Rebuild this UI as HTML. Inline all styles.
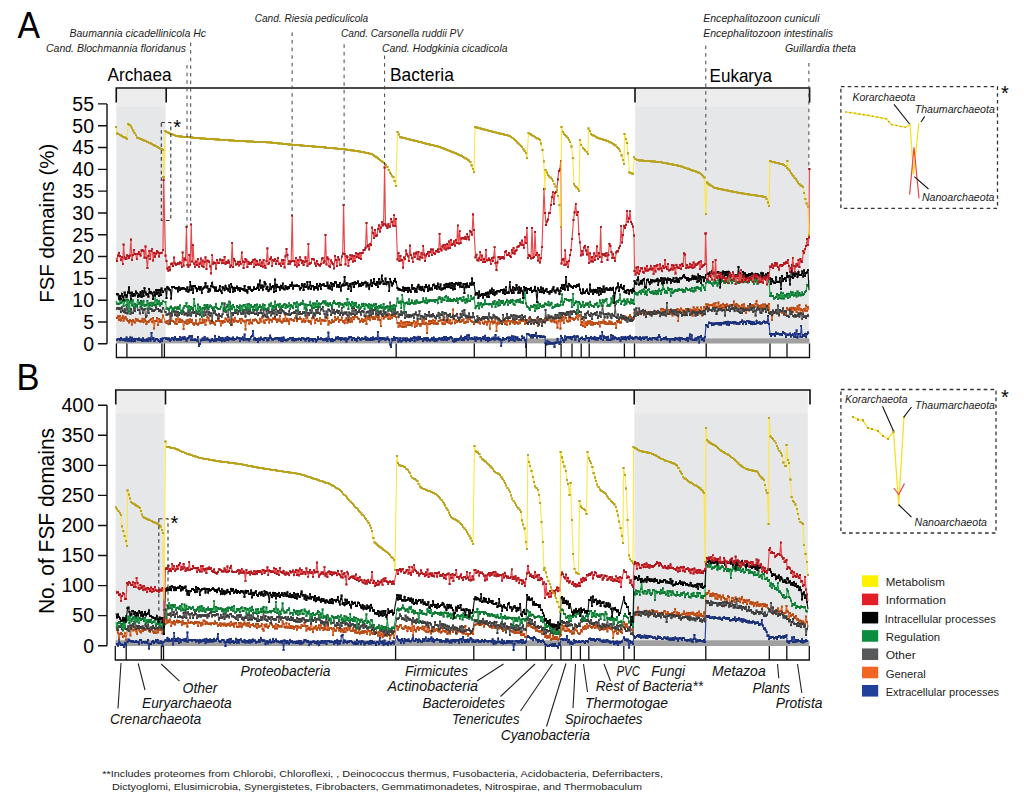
<!DOCTYPE html><html><head><meta charset="utf-8"><style>html,body{margin:0;padding:0;background:#fff;}svg{display:block;}</style></head><body><svg width="1024" height="805" viewBox="0 0 1024 805" font-family='"Liberation Sans", sans-serif'>
<rect width="1024" height="805" fill="#fff"/>
<defs><marker id="mr" viewBox="0 0 2 2" refX="1" refY="1" markerWidth="2.3" markerHeight="2.3" markerUnits="userSpaceOnUse"><rect width="2" height="2" fill="#b3161c"/></marker><marker id="mk" viewBox="0 0 2 2" refX="1" refY="1" markerWidth="2.3" markerHeight="2.3" markerUnits="userSpaceOnUse"><rect width="2" height="2" fill="#000"/></marker><marker id="mg" viewBox="0 0 2 2" refX="1" refY="1" markerWidth="2.3" markerHeight="2.3" markerUnits="userSpaceOnUse"><rect width="2" height="2" fill="#0d7a34"/></marker><marker id="mo" viewBox="0 0 2 2" refX="1" refY="1" markerWidth="2.3" markerHeight="2.3" markerUnits="userSpaceOnUse"><rect width="2" height="2" fill="#b94a14"/></marker><marker id="md" viewBox="0 0 2 2" refX="1" refY="1" markerWidth="2.3" markerHeight="2.3" markerUnits="userSpaceOnUse"><rect width="2" height="2" fill="#3c3c3c"/></marker><marker id="mb" viewBox="0 0 2 2" refX="1" refY="1" markerWidth="2.3" markerHeight="2.3" markerUnits="userSpaceOnUse"><rect width="2" height="2" fill="#1a2f7a"/></marker><marker id="my" viewBox="0 0 2 2" refX="1" refY="1" markerWidth="2.4" markerHeight="2.4" markerUnits="userSpaceOnUse"><rect width="2" height="2" fill="#b9a21c"/></marker></defs>
<rect x="116.25" y="88.8" width="49.349999999999994" height="18.100000000000005" fill="#ededee"/>
<rect x="116.25" y="106.9" width="49.349999999999994" height="236.9" fill="#e6e7e9"/>
<rect x="635.2" y="88.8" width="173.5999999999999" height="18.100000000000005" fill="#ededee"/>
<rect x="635.2" y="106.9" width="173.5999999999999" height="236.9" fill="#e6e7e9"/>
<path d="M116.25,102.5 V88.0 H809.6 V102.5 M166.2,88.0 V102.5 M635.0,88.0 V102.5" fill="none" stroke="#111" stroke-width="1.6"/>
<path d="M107,103.9 V343.8 M98,103.90 H107 M98,125.71 H107 M98,147.52 H107 M98,169.33 H107 M98,191.14 H107 M98,212.95 H107 M98,234.75 H107 M98,256.56 H107 M98,278.37 H107 M98,300.18 H107 M98,321.99 H107 M98,343.80 H107" fill="none" stroke="#111" stroke-width="1.4"/>
<text x="94.00" y="110.70" font-size="19.5" text-anchor="end" fill="#000" >55</text>
<text x="94.00" y="132.51" font-size="19.5" text-anchor="end" fill="#000" >50</text>
<text x="94.00" y="154.32" font-size="19.5" text-anchor="end" fill="#000" >45</text>
<text x="94.00" y="176.13" font-size="19.5" text-anchor="end" fill="#000" >40</text>
<text x="94.00" y="197.94" font-size="19.5" text-anchor="end" fill="#000" >35</text>
<text x="94.00" y="219.75" font-size="19.5" text-anchor="end" fill="#000" >30</text>
<text x="94.00" y="241.55" font-size="19.5" text-anchor="end" fill="#000" >25</text>
<text x="94.00" y="263.36" font-size="19.5" text-anchor="end" fill="#000" >20</text>
<text x="94.00" y="285.17" font-size="19.5" text-anchor="end" fill="#000" >15</text>
<text x="94.00" y="306.98" font-size="19.5" text-anchor="end" fill="#000" >10</text>
<text x="94.00" y="328.79" font-size="19.5" text-anchor="end" fill="#000" >5</text>
<text x="94.00" y="350.60" font-size="19.5" text-anchor="end" fill="#000" >0</text>
<rect x="115.6" y="390.8" width="49.0" height="22.300000000000022" fill="#ededee"/>
<rect x="115.6" y="413.1" width="49.0" height="232.60000000000002" fill="#e6e7e9"/>
<rect x="634.3" y="390.8" width="173.5" height="22.300000000000022" fill="#ededee"/>
<rect x="634.3" y="413.1" width="173.5" height="232.60000000000002" fill="#e6e7e9"/>
<path d="M115.75,404.5 V390.0 H810.0 V404.5 M165.5,390.0 V404.5 M634.2,390.0 V404.5" fill="none" stroke="#111" stroke-width="1.6"/>
<path d="M107,405.2 V645.7 M98,405.20 H107 M98,435.26 H107 M98,465.33 H107 M98,495.39 H107 M98,525.45 H107 M98,555.51 H107 M98,585.58 H107 M98,615.64 H107 M98,645.70 H107" fill="none" stroke="#111" stroke-width="1.4"/>
<text x="94.00" y="412.00" font-size="19.5" text-anchor="end" fill="#000" >400</text>
<text x="94.00" y="442.06" font-size="19.5" text-anchor="end" fill="#000" >350</text>
<text x="94.00" y="472.13" font-size="19.5" text-anchor="end" fill="#000" >300</text>
<text x="94.00" y="502.19" font-size="19.5" text-anchor="end" fill="#000" >250</text>
<text x="94.00" y="532.25" font-size="19.5" text-anchor="end" fill="#000" >200</text>
<text x="94.00" y="562.31" font-size="19.5" text-anchor="end" fill="#000" >150</text>
<text x="94.00" y="592.38" font-size="19.5" text-anchor="end" fill="#000" >100</text>
<text x="94.00" y="622.44" font-size="19.5" text-anchor="end" fill="#000" >50</text>
<text x="94.00" y="652.50" font-size="19.5" text-anchor="end" fill="#000" >0</text>
<rect x="116.2" y="338.4" width="693.2" height="5.0" fill="#a0a0a0"/>
<rect x="115.6" y="640.3" width="693.8" height="5.7" fill="#a0a0a0"/>
<path d="M116.0,338.9 L117.0,339.7 L117.9,338.9 L118.9,339.2 L119.8,340.3 L120.8,337.9 L121.8,339.5 L122.7,339.6 L123.7,340.3 L124.6,339.0 L125.6,340.4 L126.6,337.6 L127.5,340.5 L128.5,339.0 L129.4,340.7 L130.4,337.5 L131.3,341.2 L132.3,337.8 L133.3,341.2 L134.2,338.7 L135.2,341.0 L136.1,339.1 L137.1,339.0 L138.1,339.7 L139.0,338.5 L140.0,340.0 L140.9,339.6 L141.9,341.0 L142.9,338.4 L143.8,340.6 L144.8,339.7 L145.7,340.6 L146.7,339.4 L147.7,341.1 L148.6,338.5 L149.6,338.5 L150.5,340.4 L151.5,332.8 L152.4,338.9 L153.4,338.1 L154.4,340.8 L155.3,339.8 L156.3,338.8 L157.2,339.1 L158.2,339.7 L159.2,341.0 L160.1,341.6 L161.1,338.8 L162.0,341.3 L163.0,338.4 L165.5,337.8 L166.5,338.9 L167.4,338.4 L168.4,339.5 L169.3,338.5 L170.3,340.7 L171.2,339.6 L172.2,338.0 L173.1,338.4 L174.1,340.2 L175.0,337.2 L176.0,338.8 L176.9,339.8 L177.9,338.7 L178.8,339.7 L179.8,337.2 L180.7,340.0 L181.7,338.6 L182.6,337.6 L183.6,339.3 L184.5,337.1 L185.5,338.7 L186.5,340.7 L187.4,338.4 L188.4,338.3 L189.3,336.6 L190.3,336.2 L191.2,340.0 L192.2,336.0 L193.1,340.3 L194.1,339.9 L195.0,339.3 L196.0,340.2 L196.9,340.6 L197.9,336.8 L198.8,346.3 L199.8,343.9 L200.7,340.4 L201.7,340.2 L202.6,338.5 L203.6,339.7 L204.6,337.0 L205.5,339.8 L206.5,339.3 L207.4,338.4 L208.4,339.9 L209.3,339.7 L210.3,341.4 L211.2,340.6 L212.2,339.0 L213.1,340.3 L214.1,341.1 L215.0,336.1 L216.0,340.5 L216.9,338.7 L217.9,339.6 L218.8,336.9 L219.8,340.1 L220.7,338.2 L221.7,341.2 L222.6,338.0 L223.6,340.0 L224.6,340.8 L225.5,338.0 L226.5,339.9 L227.4,337.1 L228.4,340.2 L229.3,337.8 L230.3,339.3 L231.2,338.6 L232.2,339.4 L233.1,337.6 L234.1,339.7 L235.0,338.7 L236.0,338.9 L236.9,337.5 L237.9,338.3 L238.8,338.2 L239.8,340.7 L240.7,338.4 L241.7,338.9 L242.7,337.4 L243.6,339.7 L244.6,334.6 L245.5,339.5 L246.5,339.3 L247.4,339.5 L248.4,339.1 L249.3,340.4 L250.3,338.8 L251.2,336.7 L252.2,335.8 L253.1,330.9 L254.1,339.4 L255.0,338.3 L256.0,339.9 L256.9,338.9 L257.9,341.8 L258.8,338.6 L259.8,339.9 L260.7,337.6 L261.7,339.1 L262.7,338.7 L263.6,340.3 L264.6,337.8 L265.5,338.0 L266.5,338.2 L267.4,340.4 L268.4,339.9 L269.3,337.8 L270.3,335.6 L271.2,337.8 L272.2,339.4 L273.1,339.6 L274.1,339.0 L275.0,338.5 L276.0,338.2 L276.9,338.5 L277.9,338.2 L278.8,340.3 L279.8,338.3 L280.8,340.7 L281.7,337.8 L282.7,340.9 L283.6,337.6 L284.6,340.3 L285.5,339.7 L286.5,340.4 L287.4,340.2 L288.4,339.0 L289.3,338.7 L290.3,337.9 L291.2,337.7 L292.2,340.3 L293.1,337.8 L294.1,340.4 L295.0,338.9 L296.0,340.2 L296.9,339.3 L297.9,339.4 L298.8,338.6 L299.8,339.1 L300.8,340.1 L301.7,337.9 L302.7,338.3 L303.6,338.6 L304.6,339.0 L305.5,340.4 L306.5,339.0 L307.4,338.1 L308.4,338.2 L309.3,340.9 L310.3,338.9 L311.2,339.7 L312.2,339.2 L313.1,340.9 L314.1,338.8 L315.0,339.0 L316.0,341.5 L316.9,340.1 L317.9,337.2 L318.8,338.7 L319.8,339.3 L320.8,338.3 L321.7,338.8 L322.7,339.4 L323.6,339.9 L324.6,339.0 L325.5,339.7 L326.5,338.6 L327.4,341.0 L328.4,332.6 L329.3,339.1 L330.3,339.5 L331.2,341.2 L332.2,339.0 L333.1,341.0 L334.1,340.0 L335.0,340.2 L336.0,337.6 L336.9,338.6 L337.9,337.2 L338.9,339.1 L339.8,337.8 L340.8,340.0 L341.7,337.8 L342.7,338.9 L343.6,338.6 L344.6,339.5 L345.5,338.2 L346.5,341.4 L347.4,339.2 L348.4,338.6 L349.3,336.8 L350.3,337.4 L351.2,336.9 L352.2,340.0 L353.1,338.0 L354.1,338.2 L355.0,340.2 L356.0,338.8 L356.9,340.7 L357.9,337.6 L358.9,337.8 L359.8,339.5 L360.8,339.6 L361.7,338.3 L362.7,338.6 L363.6,338.8 L364.6,338.8 L365.5,336.8 L366.5,340.0 L367.4,338.3 L368.4,339.9 L369.3,339.0 L370.3,339.9 L371.2,338.2 L372.2,339.8 L373.1,337.5 L374.1,339.4 L375.0,338.6 L376.0,338.4 L377.0,339.1 L377.9,331.9 L378.9,341.5 L379.8,337.9 L380.8,339.4 L381.7,338.1 L382.7,338.9 L383.6,338.1 L384.6,338.5 L385.5,340.1 L386.5,338.7 L387.4,337.5 L388.4,339.2 L389.3,340.1 L390.3,344.6 L391.2,346.9 L392.2,338.7 L393.1,340.2 L394.1,337.2 L395.0,339.6 L396.0,338.0 L397.5,338.0 L398.5,341.4 L399.4,340.0 L400.4,338.2 L401.3,341.5 L402.3,340.7 L403.2,338.4 L404.2,339.8 L405.1,338.5 L406.1,341.3 L407.0,338.5 L408.0,340.2 L408.9,339.5 L409.9,341.1 L410.8,338.5 L411.8,340.0 L412.7,338.3 L413.7,337.1 L414.6,340.9 L415.6,337.6 L416.5,338.4 L417.5,340.0 L418.4,336.8 L419.4,339.3 L420.3,337.2 L421.3,339.3 L422.2,339.0 L423.2,341.0 L424.2,338.3 L425.1,339.4 L426.1,338.0 L427.0,340.4 L428.0,338.3 L428.9,339.8 L429.9,340.5 L430.8,339.6 L431.8,338.0 L432.7,339.8 L433.7,337.6 L434.6,340.8 L435.6,339.0 L436.5,340.6 L437.5,339.6 L438.4,339.2 L439.4,338.1 L440.3,339.2 L441.3,339.6 L442.2,338.1 L443.2,340.0 L444.1,337.1 L445.1,339.5 L446.0,337.2 L447.0,339.9 L447.9,338.0 L448.9,338.8 L449.9,337.6 L450.8,337.0 L451.8,338.2 L452.7,340.8 L453.7,341.5 L454.6,339.0 L455.6,341.0 L456.5,338.7 L457.5,340.0 L458.4,338.8 L459.4,339.5 L460.3,338.3 L461.3,336.5 L462.2,340.1 L463.2,338.3 L464.1,340.0 L465.1,336.8 L466.0,338.4 L467.0,335.6 L467.9,339.7 L468.9,335.3 L469.8,338.4 L470.8,338.7 L471.7,338.0 L472.7,338.7 L473.6,339.3 L474.6,337.5 L475.6,340.6 L476.5,337.6 L477.5,339.0 L478.4,338.3 L479.4,338.6 L480.3,338.1 L481.3,340.4 L482.2,338.6 L483.2,337.2 L484.1,339.1 L485.1,335.8 L486.0,339.8 L487.0,337.9 L487.9,341.2 L488.9,337.8 L489.8,340.3 L490.8,339.4 L491.7,338.6 L492.7,338.9 L493.6,337.6 L494.6,339.6 L495.5,334.9 L496.5,338.5 L497.4,338.9 L498.4,337.6 L499.3,339.6 L500.3,339.0 L501.3,346.0 L502.2,340.1 L503.2,338.0 L504.1,339.6 L505.1,339.0 L506.0,338.9 L507.0,337.9 L507.9,337.5 L508.9,340.7 L509.8,337.6 L510.8,339.5 L511.7,336.3 L512.7,339.6 L513.6,336.5 L514.6,341.1 L515.5,337.1 L516.5,339.3 L517.4,337.5 L518.4,340.3 L519.3,338.7 L520.3,340.1 L521.2,339.9 L522.2,336.3 L523.1,338.3 L524.1,337.6 L525.0,340.1 L526.0,346.8 L527.0,334.1 L528.0,333.9 L529.0,334.6 L530.0,335.5 L531.0,337.4 L532.0,335.1 L533.0,337.4 L534.0,335.1 L535.0,336.3 L536.0,333.1 L537.0,337.5 L538.0,335.9 L539.0,335.9 L540.0,337.0 L541.0,335.8 L542.0,336.9 L543.0,336.6 L544.0,336.6 L545.0,337.2 L545.5,342.9 L546.5,344.4 L547.5,341.1 L548.5,344.1 L549.5,342.5 L550.5,343.7 L551.5,343.1 L552.5,343.7 L553.5,343.0 L554.5,346.8 L555.5,342.6 L556.5,342.9 L557.5,339.1 L558.5,342.3 L559.5,344.0 L560.5,342.1 L561.0,336.0 L562.0,337.7 L562.9,339.7 L563.9,341.5 L564.8,336.3 L565.8,339.4 L566.8,337.3 L567.7,337.5 L568.7,337.0 L569.6,338.1 L570.6,337.0 L571.6,339.3 L572.5,337.0 L573.5,336.8 L574.4,335.8 L575.4,339.6 L576.4,337.0 L577.3,336.2 L578.3,336.6 L579.2,341.1 L580.2,338.8 L581.2,338.3 L582.1,337.6 L583.1,338.8 L584.1,339.0 L585.0,339.5 L586.0,336.2 L586.9,337.9 L587.9,337.9 L588.9,341.0 L589.8,338.1 L590.8,336.7 L591.7,338.7 L592.7,337.7 L593.7,339.0 L594.6,337.0 L595.6,339.4 L596.5,337.8 L597.5,339.6 L598.5,337.8 L599.4,338.1 L600.4,335.9 L601.3,339.1 L602.3,332.0 L603.3,339.8 L604.2,336.4 L605.2,337.8 L606.1,337.3 L607.1,339.7 L608.1,336.7 L609.0,340.3 L610.0,340.1 L610.9,335.2 L611.9,339.4 L612.9,335.7 L613.8,338.6 L614.8,337.4 L615.8,338.2 L616.7,338.7 L617.7,338.8 L618.6,337.7 L619.6,339.3 L620.6,340.7 L621.5,337.3 L622.5,338.9 L623.4,337.4 L624.4,338.9 L625.4,336.8 L626.3,339.4 L627.3,337.7 L628.2,336.7 L629.2,339.1 L630.2,335.8 L631.1,337.9 L632.1,337.5 L633.0,339.0 L634.0,338.3 L634.5,338.4 L635.5,337.1 L636.4,337.0 L637.4,337.7 L638.3,338.4 L639.3,339.0 L640.2,337.2 L641.2,339.5 L642.1,338.3 L643.1,337.5 L644.0,338.8 L645.0,337.6 L645.9,337.5 L646.9,337.3 L647.8,340.0 L648.8,339.1 L649.7,338.3 L650.7,338.9 L651.6,339.5 L652.6,337.8 L653.6,338.3 L654.5,338.1 L655.5,338.7 L656.4,338.2 L657.4,339.6 L658.3,337.3 L659.3,335.1 L660.2,337.0 L661.2,340.0 L662.1,338.9 L663.1,339.2 L664.0,337.7 L665.0,339.0 L665.9,337.4 L666.9,339.4 L667.8,339.0 L668.8,339.3 L669.8,341.5 L670.7,339.1 L671.7,338.8 L672.6,339.4 L673.6,338.7 L674.5,340.2 L675.5,337.9 L676.4,338.9 L677.4,338.6 L678.3,339.4 L679.3,337.7 L680.2,340.4 L681.2,337.9 L682.1,338.4 L683.1,339.1 L684.0,338.7 L685.0,338.7 L685.9,339.7 L686.9,337.8 L687.9,340.8 L688.8,338.4 L689.8,334.4 L690.7,338.7 L691.7,335.5 L692.6,339.8 L693.6,340.1 L694.5,339.7 L695.5,338.5 L696.4,340.1 L697.4,337.9 L698.3,336.9 L699.3,342.5 L700.2,337.1 L701.2,335.8 L702.1,339.6 L703.1,338.5 L704.0,340.6 L705.0,337.1 L706.0,324.9 L707.0,325.5 L707.9,327.0 L708.9,322.6 L709.8,322.8 L710.8,323.1 L711.7,325.3 L712.7,323.5 L713.6,324.7 L714.6,323.6 L715.5,323.6 L716.5,323.1 L717.5,324.2 L718.4,322.7 L719.4,324.6 L720.3,322.9 L721.3,324.7 L722.2,322.8 L723.2,323.4 L724.1,322.5 L725.1,323.4 L726.0,321.8 L727.0,324.5 L728.0,321.7 L728.9,324.8 L729.9,322.4 L730.8,322.6 L731.8,323.3 L732.7,322.2 L733.7,323.4 L734.6,321.7 L735.6,322.5 L736.5,323.8 L737.5,323.2 L738.5,323.8 L739.4,323.6 L740.4,322.0 L741.3,322.1 L742.3,320.5 L743.2,323.8 L744.2,321.6 L745.1,322.1 L746.1,324.1 L747.0,321.3 L748.0,321.2 L749.0,323.0 L749.9,321.6 L750.9,324.0 L751.8,322.1 L752.8,324.3 L753.7,322.3 L754.7,323.9 L755.6,324.2 L756.6,320.7 L757.5,323.3 L758.5,322.7 L759.5,321.7 L760.4,323.7 L761.4,323.5 L762.3,322.8 L763.3,321.8 L764.2,321.5 L765.2,322.7 L766.1,321.8 L767.1,322.6 L768.0,316.0 L769.0,324.1 L770.0,333.9 L771.0,336.0 L772.0,333.7 L773.0,334.4 L774.0,333.8 L775.0,335.8 L776.0,332.6 L777.0,334.2 L778.0,333.6 L779.0,333.8 L780.0,334.6 L781.0,334.0 L782.0,335.2 L783.0,331.8 L784.0,333.2 L785.0,333.6 L786.0,336.8 L787.0,334.5 L788.0,335.3 L788.9,334.6 L789.9,333.6 L790.8,336.5 L791.8,335.2 L792.7,334.3 L793.7,336.7 L794.7,333.1 L795.6,337.0 L796.6,330.5 L797.5,337.5 L798.5,333.9 L799.4,334.2 L800.4,336.7 L801.3,326.0 L802.3,336.7 L803.3,335.0 L804.2,335.8 L805.2,333.7 L806.1,337.0 L807.1,333.9 L808.0,332.5 L809.0,333.9" fill="none" stroke="#2a3f95" stroke-width="1.15" stroke-opacity="1" marker-mid="url(#mb)"/>
<path d="M116.0,316.9 L117.0,318.1 L117.9,316.4 L118.9,319.8 L119.8,316.0 L120.8,320.4 L121.7,318.2 L122.7,316.2 L123.6,320.5 L124.6,317.9 L125.5,316.7 L126.5,318.7 L127.0,319.8 L128.0,321.1 L128.9,322.4 L129.9,320.2 L130.9,321.0 L131.9,324.5 L132.8,320.1 L133.8,321.6 L134.8,322.5 L135.7,318.7 L136.7,320.5 L137.7,319.6 L138.7,321.2 L139.6,320.9 L140.6,321.6 L141.6,321.3 L142.5,318.7 L143.5,322.3 L144.5,319.0 L145.5,320.9 L146.4,324.0 L147.4,321.9 L148.4,321.9 L149.3,320.9 L150.3,320.3 L151.3,318.9 L152.3,322.1 L153.2,317.9 L154.2,328.4 L155.2,320.9 L156.1,320.9 L157.1,317.9 L158.1,325.2 L159.1,318.7 L160.0,321.6 L161.0,320.4 L161.5,322.2 L163.0,315.6 L165.5,321.9 L166.5,322.9 L167.4,321.0 L168.4,324.1 L169.3,320.6 L170.3,322.3 L171.2,315.2 L172.2,321.0 L173.1,320.8 L174.1,321.8 L175.0,323.5 L176.0,319.4 L176.9,324.0 L177.9,313.9 L178.8,321.9 L179.8,319.4 L180.7,322.0 L181.7,320.3 L182.6,321.3 L183.6,329.3 L184.5,322.1 L185.5,322.8 L186.5,320.6 L187.4,324.2 L188.4,320.1 L189.3,322.6 L190.3,319.4 L191.2,322.3 L192.2,319.8 L193.1,323.5 L194.1,324.7 L195.0,323.4 L196.0,320.4 L196.9,324.1 L197.9,324.7 L198.8,323.4 L199.8,319.3 L200.7,323.2 L201.7,323.0 L202.6,319.6 L203.6,322.4 L204.6,319.8 L205.5,324.7 L206.5,320.4 L207.4,317.2 L208.4,318.0 L209.3,320.4 L210.3,323.4 L211.2,321.0 L212.2,323.2 L213.1,322.1 L214.1,323.4 L215.0,324.7 L216.0,320.7 L216.9,320.9 L217.9,321.0 L218.8,318.2 L219.8,321.1 L220.7,325.4 L221.7,321.2 L222.6,322.7 L223.6,320.8 L224.6,322.2 L225.5,318.6 L226.5,318.7 L227.4,321.2 L228.4,321.6 L229.3,319.5 L230.3,322.9 L231.2,320.1 L232.2,324.7 L233.1,319.6 L234.1,321.6 L235.0,317.7 L236.0,320.7 L236.9,321.4 L237.9,321.7 L238.8,320.7 L239.8,318.9 L240.7,322.9 L241.7,318.7 L242.7,320.6 L243.6,321.3 L244.6,321.6 L245.5,329.4 L246.5,320.6 L247.4,320.3 L248.4,320.3 L249.3,323.6 L250.3,319.7 L251.2,322.6 L252.2,323.4 L253.1,320.1 L254.1,320.5 L255.0,319.5 L256.0,320.0 L256.9,321.5 L257.9,322.8 L258.8,322.9 L259.8,319.0 L260.7,321.5 L261.7,317.4 L262.7,317.1 L263.6,321.5 L264.6,322.9 L265.5,320.2 L266.5,320.2 L267.4,317.0 L268.4,318.5 L269.3,322.4 L270.3,319.6 L271.2,320.1 L272.2,321.5 L273.1,318.4 L274.1,319.3 L275.0,317.3 L276.0,319.5 L276.9,321.9 L277.9,319.6 L278.8,320.6 L279.8,316.1 L280.8,321.4 L281.7,322.6 L282.7,321.6 L283.6,319.2 L284.6,320.8 L285.5,314.6 L286.5,320.8 L287.4,318.8 L288.4,320.8 L289.3,323.6 L290.3,318.8 L291.2,318.7 L292.2,319.9 L293.1,319.7 L294.1,321.0 L295.0,318.3 L296.0,315.9 L296.9,321.1 L297.9,319.1 L298.8,319.1 L299.8,317.5 L300.8,318.7 L301.7,321.8 L302.7,320.8 L303.6,319.4 L304.6,322.2 L305.5,320.8 L306.5,318.1 L307.4,315.7 L308.4,321.1 L309.3,321.9 L310.3,321.2 L311.2,323.6 L312.2,318.3 L313.1,318.0 L314.1,317.8 L315.0,322.7 L316.0,319.9 L316.9,318.7 L317.9,320.8 L318.8,320.7 L319.8,318.4 L320.8,323.7 L321.7,319.8 L322.7,320.5 L323.6,320.2 L324.6,320.8 L325.5,320.7 L326.5,317.2 L327.4,317.6 L328.4,324.6 L329.3,321.0 L330.3,322.5 L331.2,322.8 L332.2,320.0 L333.1,322.2 L334.1,321.4 L335.0,317.2 L336.0,320.3 L336.9,318.7 L337.9,317.5 L338.9,321.7 L339.8,320.2 L340.8,319.9 L341.7,317.4 L342.7,321.7 L343.6,320.9 L344.6,323.2 L345.5,320.0 L346.5,318.0 L347.4,322.6 L348.4,321.5 L349.3,316.3 L350.3,321.9 L351.2,318.4 L352.2,321.5 L353.1,317.2 L354.1,319.3 L355.0,316.1 L356.0,316.9 L356.9,317.1 L357.9,318.4 L358.9,318.9 L359.8,322.3 L360.8,320.7 L361.7,318.8 L362.7,321.9 L363.6,319.9 L364.6,321.3 L365.5,318.0 L366.5,324.1 L367.4,316.5 L368.4,318.8 L369.3,317.3 L370.3,320.1 L371.2,317.3 L372.2,316.7 L373.1,319.1 L374.1,317.3 L375.0,319.2 L376.0,315.5 L377.0,317.2 L377.9,319.5 L378.9,316.4 L379.8,320.0 L380.8,326.3 L381.7,313.8 L382.7,314.9 L383.6,318.5 L384.6,316.9 L385.5,313.4 L386.5,316.5 L387.4,314.8 L388.4,318.9 L389.3,314.0 L390.3,318.8 L391.2,315.2 L392.2,317.8 L393.1,315.2 L394.1,316.2 L395.0,315.0 L396.0,317.3 L397.5,322.8 L398.5,326.7 L399.4,323.2 L400.4,325.8 L401.3,321.0 L402.3,326.9 L403.2,322.6 L404.2,327.0 L405.1,322.4 L406.1,326.6 L407.1,321.8 L408.0,324.8 L409.0,322.2 L409.9,325.1 L410.9,322.9 L411.8,325.4 L412.8,322.7 L413.8,321.0 L414.7,327.0 L415.7,322.5 L416.6,326.3 L417.6,321.1 L418.5,324.1 L419.5,323.8 L420.4,325.8 L421.4,324.0 L422.4,320.4 L423.3,323.6 L424.3,319.0 L425.2,324.2 L426.2,322.7 L427.1,333.1 L428.1,323.7 L429.1,321.0 L430.0,324.0 L431.0,321.0 L431.9,323.1 L432.9,320.3 L433.8,323.6 L434.8,320.9 L435.8,323.8 L436.7,322.8 L437.7,324.0 L438.6,320.8 L439.6,320.9 L440.5,320.3 L441.5,320.2 L442.4,323.4 L443.4,324.3 L444.4,317.5 L445.3,323.9 L446.3,320.5 L447.2,322.3 L448.2,318.5 L449.1,322.6 L450.1,320.3 L451.1,323.6 L452.0,323.2 L453.0,309.6 L453.9,319.3 L454.9,323.3 L455.8,320.3 L456.8,322.3 L457.7,321.0 L458.7,320.5 L459.7,321.9 L460.6,322.0 L461.6,319.7 L462.5,321.1 L463.5,319.4 L464.4,323.0 L465.4,322.5 L466.4,321.8 L467.3,318.1 L468.3,321.7 L469.2,319.1 L470.2,319.1 L471.1,320.9 L472.1,321.6 L473.0,321.9 L474.0,323.9 L475.5,322.3 L476.5,319.8 L477.4,322.0 L478.4,322.5 L479.3,322.3 L480.3,323.6 L481.2,320.2 L482.2,319.1 L483.1,322.9 L484.1,323.8 L485.0,321.6 L486.0,322.2 L486.9,324.5 L487.9,321.5 L488.8,320.6 L489.8,328.6 L490.7,322.0 L491.7,321.3 L492.7,323.4 L493.6,321.6 L494.6,322.5 L495.5,318.8 L496.5,331.3 L497.4,323.4 L498.4,318.4 L499.3,323.5 L500.3,322.4 L501.2,322.8 L502.2,320.8 L503.1,321.9 L504.1,320.8 L505.0,323.8 L506.0,321.3 L506.9,324.7 L507.9,320.1 L508.8,320.7 L509.8,324.2 L510.8,321.5 L511.7,321.0 L512.7,322.4 L513.6,321.4 L514.6,323.7 L515.5,321.9 L516.5,322.6 L517.4,322.6 L518.4,323.7 L519.3,319.9 L520.3,322.8 L521.2,319.4 L522.2,321.3 L523.1,320.8 L524.1,320.0 L525.0,324.2 L526.0,320.9 L527.0,320.0 L528.0,324.0 L529.0,318.2 L530.0,321.6 L531.0,319.2 L532.0,322.5 L533.0,321.6 L534.0,319.7 L535.0,321.7 L536.0,320.8 L537.0,318.3 L538.0,326.3 L539.0,322.4 L540.0,319.3 L541.0,322.3 L542.0,323.3 L543.0,319.9 L544.0,320.0 L545.0,318.5 L545.5,320.8 L546.5,319.5 L547.5,319.5 L548.5,317.4 L549.5,316.6 L550.5,320.4 L551.5,321.5 L552.5,320.1 L553.5,320.5 L554.5,322.3 L555.5,317.2 L556.5,322.6 L557.5,327.6 L558.5,320.8 L559.5,317.5 L560.5,328.6 L561.0,316.8 L562.0,320.5 L563.0,317.1 L564.0,323.3 L565.0,314.9 L566.0,318.0 L567.0,321.1 L568.0,321.6 L569.0,316.7 L570.0,320.9 L571.0,317.7 L572.0,318.5 L573.0,318.5 L574.0,320.0 L575.0,318.7 L576.0,317.5 L577.0,314.3 L578.0,319.4 L579.0,315.4 L580.0,315.4 L581.0,324.9 L582.0,322.0 L583.0,325.8 L584.0,320.3 L585.0,327.3 L586.0,322.5 L587.0,325.2 L588.0,321.5 L589.0,323.5 L590.0,321.3 L590.9,324.6 L591.9,321.7 L592.9,324.6 L593.9,323.0 L594.8,323.9 L595.8,322.9 L596.8,323.0 L597.8,324.3 L598.7,321.7 L599.7,326.4 L600.7,322.0 L601.6,322.8 L602.6,322.5 L603.6,320.4 L604.6,323.4 L605.5,321.7 L606.5,323.9 L607.5,323.5 L608.4,324.2 L609.4,321.4 L610.4,324.0 L611.4,322.0 L612.3,323.6 L613.3,323.8 L614.3,324.3 L615.2,323.2 L616.2,327.8 L617.2,321.1 L618.2,322.0 L619.1,320.5 L620.1,322.6 L621.1,322.4 L622.1,319.2 L623.0,319.0 L624.0,319.3 L624.5,315.9 L625.5,319.2 L626.4,319.4 L627.4,318.1 L628.3,318.4 L629.2,317.1 L630.2,314.8 L631.1,317.1 L632.1,317.8 L633.0,317.7 L634.0,318.4 L634.5,313.1 L635.5,310.2 L636.4,313.4 L637.4,314.2 L638.3,311.7 L639.3,314.2 L640.2,312.4 L641.2,313.7 L642.1,313.0 L643.1,310.9 L644.0,314.8 L645.0,311.0 L645.9,314.4 L646.9,312.0 L647.8,312.7 L648.8,313.7 L649.7,314.7 L650.7,312.6 L651.6,314.3 L652.6,312.1 L653.6,312.2 L654.5,313.2 L655.5,313.6 L656.4,313.7 L657.4,311.6 L658.3,313.3 L659.3,311.7 L660.2,312.3 L661.2,309.3 L662.1,313.7 L663.1,308.9 L664.0,311.9 L665.0,310.0 L665.9,313.0 L666.9,309.6 L667.8,314.1 L668.8,310.3 L669.8,310.5 L670.7,313.6 L671.7,310.3 L672.6,315.4 L673.6,311.3 L674.5,312.7 L675.5,310.6 L676.4,312.1 L677.4,308.9 L678.3,321.0 L679.3,309.9 L680.2,311.9 L681.2,308.5 L682.1,313.1 L683.1,310.4 L684.0,310.8 L685.0,311.9 L685.9,309.2 L686.9,311.3 L687.9,309.1 L688.8,311.1 L689.8,309.5 L690.7,312.1 L691.7,309.9 L692.6,315.6 L693.6,307.4 L694.5,311.6 L695.5,309.5 L696.4,311.7 L697.4,307.5 L698.3,311.5 L699.3,309.7 L700.2,313.5 L701.2,307.5 L702.1,315.4 L703.1,310.8 L704.0,307.0 L705.0,312.3 L706.0,304.3 L707.0,308.1 L707.9,304.6 L708.9,307.8 L709.8,304.9 L710.8,305.3 L711.7,304.9 L712.7,308.0 L713.6,304.0 L714.6,307.2 L715.5,303.1 L716.5,307.2 L717.5,306.9 L718.4,302.6 L719.4,306.5 L720.3,307.0 L721.3,305.1 L722.2,308.1 L723.2,304.2 L724.1,307.5 L725.1,305.0 L726.0,306.4 L727.0,304.4 L728.0,306.1 L728.9,306.5 L729.9,305.2 L730.8,306.0 L731.8,305.3 L732.7,308.1 L733.7,301.5 L734.6,304.8 L735.6,307.4 L736.5,303.7 L737.5,305.0 L738.5,306.5 L739.4,306.2 L740.4,309.2 L741.3,308.2 L742.3,304.8 L743.2,307.7 L744.2,304.4 L745.1,308.0 L746.1,312.8 L747.0,308.5 L748.0,306.1 L749.0,307.9 L749.9,306.0 L750.9,304.8 L751.8,307.5 L752.8,305.2 L753.7,305.7 L754.7,306.7 L755.6,303.7 L756.6,301.2 L757.5,305.1 L758.5,306.5 L759.5,306.0 L760.4,308.0 L761.4,305.4 L762.3,307.7 L763.3,304.5 L764.2,307.7 L765.2,304.6 L766.1,307.1 L767.1,305.6 L768.0,307.6 L769.0,303.8 L770.0,313.6 L771.0,312.5 L772.0,320.1 L773.0,313.4 L774.0,312.1 L775.0,312.8 L776.0,312.9 L777.0,311.4 L778.0,312.9 L779.0,315.4 L780.0,311.0 L781.0,312.0 L782.0,312.6 L783.0,312.3 L784.0,312.2 L785.0,312.5 L786.0,315.0 L787.0,308.2 L788.0,309.5 L788.9,310.0 L789.9,308.3 L790.8,310.2 L791.8,307.8 L792.7,312.1 L793.7,307.9 L794.7,310.2 L795.6,308.6 L796.6,311.8 L797.5,306.4 L798.5,309.4 L799.4,305.1 L800.4,312.8 L801.3,309.0 L802.3,310.3 L803.3,311.8 L804.2,308.7 L805.2,310.5 L806.1,305.6 L807.1,310.7 L808.0,307.3 L809.0,310.1" fill="none" stroke="#e0652a" stroke-width="1.15" stroke-opacity="1" marker-mid="url(#mo)"/>
<path d="M116.0,309.8 L117.0,308.4 L117.9,308.2 L118.9,308.9 L119.8,308.2 L120.8,311.9 L121.7,307.6 L122.7,310.7 L123.7,312.2 L124.6,309.5 L125.6,312.8 L126.5,304.9 L127.5,313.4 L128.4,308.2 L129.4,303.1 L130.4,313.7 L131.3,309.0 L132.3,312.8 L133.2,312.8 L134.2,308.6 L135.1,310.8 L136.1,305.2 L137.1,305.0 L138.0,310.0 L139.0,309.8 L139.9,313.4 L140.9,300.9 L141.9,308.6 L142.8,313.2 L143.8,309.5 L144.7,309.0 L145.7,317.3 L146.6,315.7 L147.6,308.6 L148.6,313.1 L149.5,305.3 L150.5,308.9 L151.4,309.1 L152.4,311.2 L153.3,310.4 L154.3,311.0 L155.3,309.7 L156.2,307.2 L157.2,308.8 L158.1,309.0 L159.1,311.3 L160.0,309.9 L161.0,310.7 L161.5,311.8 L163.0,307.9 L165.5,311.9 L166.5,314.7 L167.4,314.5 L168.4,314.2 L169.3,310.0 L170.3,323.6 L171.2,313.0 L172.2,315.4 L173.1,310.9 L174.1,311.5 L175.0,315.1 L176.0,311.5 L176.9,315.7 L177.9,312.0 L178.8,315.3 L179.8,313.1 L180.7,313.0 L181.7,314.0 L182.6,310.4 L183.6,312.2 L184.5,314.6 L185.5,313.6 L186.5,313.6 L187.4,315.5 L188.4,311.8 L189.3,314.9 L190.3,310.8 L191.2,315.5 L192.2,312.6 L193.1,309.5 L194.1,313.0 L195.0,312.1 L196.0,316.1 L196.9,312.8 L197.9,314.0 L198.8,311.1 L199.8,315.0 L200.7,312.6 L201.7,313.6 L202.6,311.6 L203.6,315.7 L204.6,309.3 L205.5,315.3 L206.5,311.9 L207.4,304.7 L208.4,314.5 L209.3,312.0 L210.3,315.7 L211.2,313.3 L212.2,320.6 L213.1,309.9 L214.1,313.3 L215.0,311.0 L216.0,314.5 L216.9,314.8 L217.9,318.7 L218.8,313.9 L219.8,315.7 L220.7,316.1 L221.7,316.6 L222.6,314.3 L223.6,310.5 L224.6,303.5 L225.5,311.7 L226.5,311.4 L227.4,314.8 L228.4,317.2 L229.3,304.5 L230.3,302.4 L231.2,324.7 L232.2,313.2 L233.1,315.3 L234.1,312.9 L235.0,310.6 L236.0,312.8 L236.9,310.0 L237.9,314.1 L238.8,311.4 L239.8,308.0 L240.7,313.5 L241.7,313.8 L242.7,311.4 L243.6,313.6 L244.6,310.0 L245.5,316.5 L246.5,308.0 L247.4,313.2 L248.4,310.8 L249.3,314.1 L250.3,311.1 L251.2,312.9 L252.2,312.6 L253.1,313.1 L254.1,309.9 L255.0,313.8 L256.0,313.9 L256.9,309.5 L257.9,314.9 L258.8,312.7 L259.8,313.0 L260.7,309.9 L261.7,313.0 L262.7,316.0 L263.6,310.2 L264.6,315.3 L265.5,316.4 L266.5,310.6 L267.4,316.8 L268.4,309.8 L269.3,312.6 L270.3,311.7 L271.2,315.4 L272.2,311.4 L273.1,313.4 L274.1,310.3 L275.0,316.7 L276.0,309.3 L276.9,314.7 L277.9,310.7 L278.8,313.1 L279.8,309.5 L280.8,313.2 L281.7,309.8 L282.7,310.9 L283.6,311.6 L284.6,313.6 L285.5,312.7 L286.5,314.1 L287.4,314.1 L288.4,314.6 L289.3,310.8 L290.3,314.9 L291.2,314.2 L292.2,312.9 L293.1,313.3 L294.1,311.9 L295.0,313.1 L296.0,310.6 L296.9,318.5 L297.9,309.8 L298.8,313.9 L299.8,311.7 L300.8,313.8 L301.7,314.1 L302.7,312.3 L303.6,313.2 L304.6,312.2 L305.5,315.6 L306.5,310.1 L307.4,313.5 L308.4,313.0 L309.3,314.7 L310.3,310.3 L311.2,313.2 L312.2,306.9 L313.1,316.5 L314.1,313.4 L315.0,315.4 L316.0,310.2 L316.9,313.2 L317.9,309.3 L318.8,313.3 L319.8,313.9 L320.8,309.5 L321.7,309.2 L322.7,307.1 L323.6,311.3 L324.6,313.9 L325.5,317.5 L326.5,311.5 L327.4,315.2 L328.4,309.5 L329.3,310.1 L330.3,311.0 L331.2,315.1 L332.2,308.4 L333.1,312.7 L334.1,309.9 L335.0,313.6 L336.0,311.7 L336.9,310.6 L337.9,313.0 L338.9,311.2 L339.8,315.1 L340.8,313.1 L341.7,308.1 L342.7,315.1 L343.6,313.5 L344.6,312.5 L345.5,313.5 L346.5,312.4 L347.4,315.2 L348.4,319.7 L349.3,312.5 L350.3,313.5 L351.2,314.5 L352.2,308.2 L353.1,313.9 L354.1,308.0 L355.0,315.0 L356.0,310.1 L356.9,313.6 L357.9,312.0 L358.9,310.6 L359.8,312.1 L360.8,314.6 L361.7,310.9 L362.7,311.5 L363.6,311.6 L364.6,315.7 L365.5,315.8 L366.5,312.5 L367.4,311.9 L368.4,311.6 L369.3,315.7 L370.3,310.4 L371.2,315.0 L372.2,310.4 L373.1,313.6 L374.1,310.1 L375.0,308.8 L376.0,313.6 L377.0,307.6 L377.9,315.0 L378.9,311.6 L379.8,313.6 L380.8,311.5 L381.7,314.5 L382.7,315.8 L383.6,310.6 L384.6,313.4 L385.5,312.3 L386.5,315.0 L387.4,315.0 L388.4,309.8 L389.3,309.4 L390.3,302.6 L391.2,310.7 L392.2,314.8 L393.1,307.6 L394.1,313.5 L395.0,309.6 L396.0,313.6 L397.5,312.2 L398.5,317.0 L399.4,314.3 L400.4,315.2 L401.3,311.5 L402.3,315.0 L403.2,312.5 L404.2,312.9 L405.1,317.8 L406.1,311.8 L407.1,316.5 L408.0,314.8 L409.0,317.2 L409.9,315.1 L410.9,316.5 L411.8,315.6 L412.8,314.6 L413.8,317.7 L414.7,313.9 L415.7,312.4 L416.6,314.7 L417.6,319.1 L418.5,315.3 L419.5,311.3 L420.4,318.8 L421.4,316.0 L422.4,316.4 L423.3,317.6 L424.3,317.4 L425.2,314.3 L426.2,319.2 L427.1,314.9 L428.1,315.7 L429.1,312.1 L430.0,316.4 L431.0,314.9 L431.9,316.4 L432.9,314.2 L433.8,316.1 L434.8,317.4 L435.8,318.4 L436.7,315.5 L437.7,316.1 L438.6,313.1 L439.6,317.7 L440.5,314.4 L441.5,315.1 L442.4,312.2 L443.4,319.8 L444.4,313.4 L445.3,312.7 L446.3,313.4 L447.2,320.2 L448.2,314.8 L449.1,316.2 L450.1,314.0 L451.1,317.2 L452.0,317.1 L453.0,315.5 L453.9,318.6 L454.9,315.8 L455.8,315.6 L456.8,313.8 L457.7,317.6 L458.7,319.8 L459.7,318.2 L460.6,314.2 L461.6,317.2 L462.5,311.3 L463.5,315.3 L464.4,310.0 L465.4,315.6 L466.4,317.6 L467.3,315.7 L468.3,317.2 L469.2,313.4 L470.2,317.2 L471.1,317.0 L472.1,317.4 L473.0,313.2 L474.0,317.3 L475.5,321.4 L476.5,321.5 L477.4,316.3 L478.4,319.9 L479.3,317.9 L480.3,319.2 L481.2,319.7 L482.2,318.1 L483.1,316.9 L484.1,318.7 L485.0,316.9 L486.0,317.9 L486.9,317.2 L487.9,318.8 L488.8,313.5 L489.8,317.5 L490.7,317.5 L491.7,318.7 L492.7,317.6 L493.6,314.7 L494.6,316.5 L495.5,317.4 L496.5,317.0 L497.4,317.8 L498.4,319.4 L499.3,319.2 L500.3,320.4 L501.2,321.2 L502.2,324.0 L503.1,314.7 L504.1,320.0 L505.0,318.7 L506.0,318.3 L506.9,314.0 L507.9,318.0 L508.8,317.3 L509.8,318.2 L510.8,315.3 L511.7,316.1 L512.7,319.2 L513.6,315.2 L514.6,320.0 L515.5,315.6 L516.5,319.0 L517.4,316.2 L518.4,317.3 L519.3,316.9 L520.3,316.1 L521.2,319.6 L522.2,315.2 L523.1,319.0 L524.1,316.9 L525.0,316.4 L526.0,320.3 L527.0,323.0 L528.0,324.1 L529.0,322.3 L530.0,317.3 L531.0,324.1 L532.0,319.9 L533.0,319.7 L534.0,323.6 L535.0,320.3 L536.0,321.9 L537.0,323.0 L538.0,316.9 L539.0,324.6 L540.0,319.4 L541.0,318.9 L542.0,326.0 L543.0,321.6 L544.0,322.3 L545.0,322.4 L545.5,309.8 L546.5,318.2 L547.5,320.1 L548.5,315.5 L549.5,318.1 L550.5,317.0 L551.5,316.5 L552.5,318.3 L553.5,317.5 L554.5,318.4 L555.5,314.9 L556.5,318.3 L557.5,315.2 L558.5,317.8 L559.5,312.9 L560.5,318.2 L561.0,312.7 L562.0,315.3 L563.0,312.9 L564.0,314.2 L565.0,313.5 L566.0,315.3 L567.0,312.1 L568.0,314.5 L569.0,312.2 L570.0,317.3 L571.0,311.6 L572.0,314.3 L573.0,311.6 L574.0,311.2 L575.0,312.1 L576.0,314.3 L577.0,310.2 L578.0,309.3 L579.0,311.1 L580.0,312.2 L581.0,312.3 L582.0,319.1 L583.0,317.3 L584.0,317.6 L585.0,314.2 L586.0,317.8 L587.0,312.8 L588.0,311.6 L589.0,314.7 L590.0,316.3 L590.9,313.4 L591.9,319.1 L592.9,314.4 L593.9,314.3 L594.8,312.9 L595.8,315.0 L596.8,312.1 L597.8,317.9 L598.7,316.2 L599.7,312.4 L600.7,317.3 L601.6,312.8 L602.6,305.5 L603.6,313.8 L604.6,317.4 L605.5,313.8 L606.5,314.1 L607.5,317.5 L608.4,313.5 L609.4,314.2 L610.4,315.6 L611.4,318.0 L612.3,313.7 L613.3,315.5 L614.3,316.2 L615.2,305.5 L616.2,317.2 L617.2,318.3 L618.2,314.5 L619.1,319.3 L620.1,317.6 L621.1,314.8 L622.1,317.7 L623.0,315.7 L624.0,318.0 L624.5,317.6 L625.5,320.2 L626.4,317.6 L627.4,321.7 L628.3,318.3 L629.2,319.6 L630.2,320.9 L631.1,319.3 L632.1,321.2 L633.0,320.2 L634.0,316.9 L634.5,309.6 L635.5,316.0 L636.4,308.3 L637.4,313.6 L638.3,314.9 L639.3,308.5 L640.2,311.6 L641.2,314.0 L642.1,310.8 L643.1,309.7 L644.0,313.4 L645.0,311.1 L645.9,317.1 L646.9,313.3 L647.8,313.8 L648.8,312.1 L649.7,314.0 L650.7,312.1 L651.6,315.5 L652.6,312.6 L653.6,314.0 L654.5,310.8 L655.5,313.7 L656.4,311.9 L657.4,312.6 L658.3,310.7 L659.3,312.4 L660.2,316.3 L661.2,313.2 L662.1,314.6 L663.1,312.4 L664.0,314.7 L665.0,311.8 L665.9,315.6 L666.9,302.7 L667.8,314.3 L668.8,314.3 L669.8,312.2 L670.7,309.6 L671.7,310.7 L672.6,313.3 L673.6,310.6 L674.5,314.1 L675.5,310.3 L676.4,314.7 L677.4,311.8 L678.3,316.0 L679.3,311.9 L680.2,311.7 L681.2,313.1 L682.1,315.6 L683.1,315.1 L684.0,311.6 L685.0,315.2 L685.9,312.4 L686.9,314.9 L687.9,309.4 L688.8,311.1 L689.8,315.0 L690.7,314.0 L691.7,313.5 L692.6,312.2 L693.6,311.5 L694.5,312.9 L695.5,315.5 L696.4,312.4 L697.4,314.9 L698.3,313.1 L699.3,312.3 L700.2,311.0 L701.2,313.1 L702.1,311.9 L703.1,314.5 L704.0,311.0 L705.0,314.0 L706.0,309.0 L707.0,307.3 L707.9,311.3 L708.9,308.8 L709.8,309.7 L710.8,309.7 L711.7,311.0 L712.7,307.7 L713.6,309.2 L714.6,310.7 L715.5,308.1 L716.5,314.1 L717.5,311.2 L718.4,309.2 L719.4,309.5 L720.3,309.4 L721.3,309.5 L722.2,310.5 L723.2,309.8 L724.1,310.1 L725.1,315.5 L726.0,307.5 L727.0,309.8 L728.0,309.9 L728.9,307.3 L729.9,311.0 L730.8,309.1 L731.8,305.2 L732.7,309.2 L733.7,308.4 L734.6,310.8 L735.6,307.3 L736.5,308.4 L737.5,311.0 L738.5,309.4 L739.4,312.1 L740.4,313.1 L741.3,307.9 L742.3,313.2 L743.2,309.0 L744.2,311.3 L745.1,310.1 L746.1,309.4 L747.0,310.0 L748.0,310.2 L749.0,310.4 L749.9,303.8 L750.9,309.6 L751.8,308.1 L752.8,311.8 L753.7,307.6 L754.7,311.3 L755.6,315.5 L756.6,309.9 L757.5,307.5 L758.5,308.7 L759.5,309.6 L760.4,312.4 L761.4,312.9 L762.3,309.5 L763.3,310.6 L764.2,309.1 L765.2,309.2 L766.1,312.0 L767.1,305.8 L768.0,309.7 L769.0,312.8 L770.0,313.5 L771.0,312.0 L772.0,314.9 L773.0,310.6 L774.0,313.0 L775.0,312.1 L776.0,309.9 L777.0,313.4 L778.0,305.6 L779.0,314.6 L780.0,310.1 L781.0,310.7 L782.0,310.7 L783.0,308.4 L784.0,314.6 L785.0,310.9 L786.0,311.5 L787.0,316.1 L788.0,316.3 L788.9,316.8 L789.9,310.5 L790.8,314.3 L791.8,312.1 L792.7,315.7 L793.7,316.4 L794.7,314.7 L795.6,316.6 L796.6,315.6 L797.5,315.7 L798.5,313.5 L799.4,316.5 L800.4,314.0 L801.3,313.3 L802.3,318.8 L803.3,314.2 L804.2,317.0 L805.2,316.3 L806.1,318.1 L807.1,316.1 L808.0,315.3 L809.0,317.3" fill="none" stroke="#5a5a5a" stroke-width="1.15" stroke-opacity="1" marker-mid="url(#md)"/>
<path d="M116.0,300.7 L117.0,303.6 L117.9,304.2 L118.9,303.7 L119.8,300.0 L120.8,303.2 L121.7,301.5 L122.7,301.1 L123.6,305.9 L124.6,301.3 L125.5,300.3 L126.5,299.4 L127.0,305.5 L128.0,300.1 L128.9,311.5 L129.9,301.4 L130.9,301.2 L131.9,305.4 L132.8,300.4 L133.8,306.9 L134.8,303.7 L135.7,306.6 L136.7,305.6 L137.7,299.9 L138.7,303.6 L139.6,302.6 L140.6,307.0 L141.6,301.9 L142.5,304.6 L143.5,301.2 L144.5,305.6 L145.5,305.4 L146.4,305.0 L147.4,300.7 L148.4,309.3 L149.3,303.5 L150.3,305.3 L151.3,302.7 L152.3,305.8 L153.2,303.2 L154.2,305.0 L155.2,295.2 L156.1,305.1 L157.1,300.3 L158.1,304.1 L159.1,301.4 L160.0,305.5 L161.0,303.2 L161.5,304.0 L163.0,301.3 L165.5,302.3 L166.5,308.7 L167.4,308.3 L168.4,309.0 L169.3,309.6 L170.3,307.6 L171.2,306.6 L172.2,311.4 L173.1,308.4 L174.1,309.7 L175.0,307.5 L176.0,307.6 L176.9,308.7 L177.9,307.2 L178.8,308.8 L179.8,305.4 L180.7,312.9 L181.7,311.0 L182.6,310.7 L183.6,308.2 L184.5,305.9 L185.5,306.3 L186.5,302.7 L187.4,307.3 L188.4,310.3 L189.3,305.7 L190.3,310.0 L191.2,307.1 L192.2,309.3 L193.1,308.0 L194.1,299.2 L195.0,305.8 L196.0,311.6 L196.9,311.9 L197.9,304.6 L198.8,311.2 L199.8,306.9 L200.7,309.4 L201.7,316.9 L202.6,307.8 L203.6,308.0 L204.6,305.2 L205.5,307.9 L206.5,305.6 L207.4,307.0 L208.4,309.0 L209.3,307.1 L210.3,305.5 L211.2,306.4 L212.2,308.1 L213.1,307.6 L214.1,309.9 L215.0,307.3 L216.0,304.2 L216.9,307.9 L217.9,309.1 L218.8,308.7 L219.8,309.3 L220.7,306.8 L221.7,303.5 L222.6,303.5 L223.6,308.6 L224.6,309.2 L225.5,310.6 L226.5,307.2 L227.4,304.7 L228.4,309.8 L229.3,301.6 L230.3,309.4 L231.2,306.4 L232.2,309.0 L233.1,305.1 L234.1,307.2 L235.0,310.6 L236.0,310.0 L236.9,305.8 L237.9,307.2 L238.8,307.8 L239.8,305.5 L240.7,310.4 L241.7,306.3 L242.7,310.0 L243.6,304.7 L244.6,304.8 L245.5,306.9 L246.5,309.0 L247.4,304.4 L248.4,309.7 L249.3,303.7 L250.3,309.1 L251.2,305.3 L252.2,306.7 L253.1,310.2 L254.1,306.6 L255.0,305.1 L256.0,310.3 L256.9,304.6 L257.9,309.4 L258.8,306.9 L259.8,305.4 L260.7,307.0 L261.7,307.7 L262.7,304.4 L263.6,308.9 L264.6,305.1 L265.5,309.3 L266.5,309.3 L267.4,308.7 L268.4,308.2 L269.3,304.6 L270.3,305.9 L271.2,303.4 L272.2,309.6 L273.1,306.2 L274.1,307.6 L275.0,301.6 L276.0,307.3 L276.9,304.8 L277.9,304.6 L278.8,306.6 L279.8,304.2 L280.8,307.9 L281.7,305.8 L282.7,307.1 L283.6,305.2 L284.6,303.8 L285.5,308.2 L286.5,304.9 L287.4,307.3 L288.4,306.2 L289.3,303.3 L290.3,308.8 L291.2,305.1 L292.2,306.4 L293.1,308.2 L294.1,302.7 L295.0,303.4 L296.0,306.8 L296.9,302.4 L297.9,310.7 L298.8,304.4 L299.8,305.0 L300.8,303.2 L301.7,304.0 L302.7,300.8 L303.6,303.7 L304.6,308.4 L305.5,304.5 L306.5,309.6 L307.4,305.0 L308.4,304.7 L309.3,304.9 L310.3,301.8 L311.2,305.6 L312.2,307.9 L313.1,303.5 L314.1,307.8 L315.0,303.5 L316.0,307.2 L316.9,301.2 L317.9,307.2 L318.8,303.5 L319.8,307.3 L320.8,303.7 L321.7,303.3 L322.7,302.1 L323.6,301.2 L324.6,303.4 L325.5,301.5 L326.5,305.1 L327.4,303.3 L328.4,305.8 L329.3,304.1 L330.3,303.2 L331.2,304.8 L332.2,306.8 L333.1,302.8 L334.1,300.9 L335.0,303.3 L336.0,303.7 L336.9,304.1 L337.9,303.0 L338.9,306.4 L339.8,302.7 L340.8,304.5 L341.7,303.8 L342.7,304.9 L343.6,306.7 L344.6,303.6 L345.5,303.1 L346.5,305.2 L347.4,299.1 L348.4,309.0 L349.3,302.6 L350.3,303.9 L351.2,305.6 L352.2,301.9 L353.1,306.8 L354.1,303.3 L355.0,305.5 L356.0,302.9 L356.9,307.0 L357.9,307.5 L358.9,305.2 L359.8,308.8 L360.8,307.4 L361.7,303.9 L362.7,306.2 L363.6,303.7 L364.6,309.3 L365.5,304.3 L366.5,304.8 L367.4,305.6 L368.4,307.5 L369.3,303.8 L370.3,308.6 L371.2,305.0 L372.2,308.5 L373.1,305.6 L374.1,304.4 L375.0,308.2 L376.0,304.1 L377.0,307.1 L377.9,311.1 L378.9,305.9 L379.8,307.6 L380.8,305.4 L381.7,308.1 L382.7,307.4 L383.6,303.8 L384.6,309.1 L385.5,306.8 L386.5,307.5 L387.4,306.0 L388.4,311.2 L389.3,306.9 L390.3,306.6 L391.2,309.4 L392.2,305.9 L393.1,309.0 L394.1,305.1 L395.0,308.6 L396.0,305.8 L397.5,298.5 L398.5,302.4 L399.4,302.7 L400.4,301.6 L401.3,307.8 L402.3,295.1 L403.2,301.9 L404.2,312.0 L405.1,303.4 L406.1,303.1 L407.1,302.6 L408.0,303.8 L409.0,299.4 L409.9,304.3 L410.9,303.0 L411.8,300.5 L412.8,303.0 L413.8,303.7 L414.7,301.5 L415.7,303.5 L416.6,300.4 L417.6,302.1 L418.5,303.1 L419.5,303.1 L420.4,301.7 L421.4,302.3 L422.4,302.0 L423.3,298.4 L424.3,301.0 L425.2,302.4 L426.2,298.4 L427.1,303.1 L428.1,300.5 L429.1,301.4 L430.0,300.2 L431.0,300.6 L431.9,300.5 L432.9,300.6 L433.8,299.9 L434.8,301.9 L435.8,299.8 L436.7,300.2 L437.7,303.1 L438.6,298.6 L439.6,296.9 L440.5,298.7 L441.5,302.2 L442.4,298.2 L443.4,300.1 L444.4,300.1 L445.3,297.2 L446.3,295.7 L447.2,301.0 L448.2,297.5 L449.1,300.7 L450.1,298.7 L451.1,301.1 L452.0,300.1 L453.0,301.2 L453.9,298.8 L454.9,300.2 L455.8,301.2 L456.8,298.6 L457.7,303.0 L458.7,298.8 L459.7,298.4 L460.6,298.2 L461.6,299.9 L462.5,301.1 L463.5,297.2 L464.4,299.8 L465.4,302.6 L466.4,299.1 L467.3,301.6 L468.3,295.5 L469.2,301.1 L470.2,301.3 L471.1,296.2 L472.1,299.3 L473.0,298.5 L474.0,297.5 L475.5,308.3 L476.5,306.2 L477.4,305.9 L478.4,303.1 L479.3,308.4 L480.3,304.5 L481.2,303.2 L482.2,306.7 L483.1,304.6 L484.1,304.4 L485.0,300.4 L486.0,304.3 L486.9,304.2 L487.9,304.1 L488.8,304.4 L489.8,304.2 L490.7,304.1 L491.7,306.5 L492.7,302.3 L493.6,304.0 L494.6,301.1 L495.5,307.3 L496.5,303.6 L497.4,302.3 L498.4,305.6 L499.3,299.8 L500.3,305.3 L501.2,300.9 L502.2,302.9 L503.1,301.0 L504.1,304.6 L505.0,303.6 L506.0,302.0 L506.9,299.9 L507.9,304.7 L508.8,301.3 L509.8,302.9 L510.8,300.3 L511.7,302.1 L512.7,300.0 L513.6,304.1 L514.6,305.0 L515.5,300.7 L516.5,302.2 L517.4,299.7 L518.4,299.9 L519.3,302.1 L520.3,299.4 L521.2,302.4 L522.2,302.0 L523.1,303.2 L524.1,298.0 L525.0,290.7 L526.0,303.5 L527.0,306.4 L528.0,307.3 L529.0,308.4 L530.0,310.0 L531.0,305.8 L532.0,307.1 L533.0,306.6 L534.0,304.9 L535.0,311.0 L536.0,305.6 L537.0,308.5 L538.0,302.4 L539.0,307.9 L540.0,304.1 L541.0,306.3 L542.0,307.3 L543.0,305.5 L544.0,306.5 L545.0,303.5 L545.5,303.8 L546.5,304.5 L547.5,305.3 L548.5,301.9 L549.5,305.4 L550.5,304.4 L551.5,302.7 L552.5,308.0 L553.5,307.1 L554.5,306.9 L555.5,305.0 L556.5,306.3 L557.5,304.3 L558.5,306.2 L559.5,305.4 L560.5,304.9 L561.0,301.6 L562.0,294.5 L563.0,304.6 L564.0,302.1 L565.0,298.7 L566.0,299.1 L567.0,299.9 L568.0,299.7 L569.0,300.7 L570.0,300.1 L571.0,299.8 L572.0,307.2 L573.0,294.2 L574.0,305.0 L575.0,303.1 L576.0,301.5 L577.0,301.8 L578.0,312.9 L579.0,302.0 L580.0,303.6 L581.0,307.2 L582.0,305.4 L583.0,302.1 L584.0,306.9 L585.0,305.4 L586.0,303.6 L587.0,304.7 L588.0,303.4 L589.0,306.8 L590.0,301.9 L590.9,304.7 L591.9,305.9 L592.9,305.7 L593.9,307.0 L594.8,303.9 L595.8,304.6 L596.8,303.1 L597.8,307.2 L598.7,306.1 L599.7,300.4 L600.7,302.7 L601.6,305.5 L602.6,300.3 L603.6,302.4 L604.6,300.5 L605.5,300.6 L606.5,299.1 L607.5,305.9 L608.4,305.1 L609.4,306.2 L610.4,304.4 L611.4,298.4 L612.3,302.5 L613.3,295.7 L614.3,301.5 L615.2,301.9 L616.2,303.6 L617.2,300.8 L618.2,302.0 L619.1,300.2 L620.1,294.5 L621.1,304.0 L622.1,301.5 L623.0,301.2 L624.0,299.6 L624.5,304.9 L625.5,301.2 L626.4,303.5 L627.4,299.3 L628.3,301.5 L629.2,302.0 L630.2,303.4 L631.1,299.5 L632.1,303.2 L633.0,300.3 L634.0,303.9 L634.5,291.9 L635.5,293.9 L636.4,293.1 L637.4,294.6 L638.3,292.8 L639.3,292.1 L640.2,291.3 L641.2,293.6 L642.1,290.3 L643.1,291.7 L644.0,289.3 L645.0,294.0 L645.9,291.5 L646.9,294.8 L647.8,290.0 L648.8,289.3 L649.7,292.2 L650.7,292.5 L651.6,293.0 L652.6,291.5 L653.6,293.9 L654.5,293.1 L655.5,290.8 L656.4,293.8 L657.4,291.0 L658.3,293.5 L659.3,289.4 L660.2,290.8 L661.2,294.2 L662.1,290.1 L663.1,285.1 L664.0,289.3 L665.0,292.6 L665.9,290.7 L666.9,292.7 L667.8,287.8 L668.8,290.2 L669.8,289.2 L670.7,296.2 L671.7,289.2 L672.6,293.3 L673.6,291.7 L674.5,290.8 L675.5,290.0 L676.4,290.6 L677.4,291.0 L678.3,289.6 L679.3,288.9 L680.2,290.0 L681.2,290.0 L682.1,289.5 L683.1,291.8 L684.0,290.1 L685.0,291.5 L685.9,287.9 L686.9,289.1 L687.9,290.3 L688.8,290.1 L689.8,289.3 L690.7,290.7 L691.7,288.1 L692.6,291.0 L693.6,291.5 L694.5,288.0 L695.5,290.4 L696.4,287.6 L697.4,286.7 L698.3,288.2 L699.3,288.7 L700.2,288.0 L701.2,290.4 L702.1,284.8 L703.1,285.3 L704.0,287.6 L705.0,290.3 L706.0,282.7 L707.0,281.2 L707.9,282.3 L708.9,282.6 L709.8,281.5 L710.8,283.3 L711.7,284.2 L712.7,285.7 L713.6,282.5 L714.6,283.4 L715.5,281.1 L716.5,282.7 L717.5,285.5 L718.4,280.3 L719.4,283.4 L720.3,279.3 L721.3,281.7 L722.2,280.4 L723.2,280.8 L724.1,282.5 L725.1,282.8 L726.0,280.8 L727.0,282.3 L728.0,281.0 L728.9,283.0 L729.9,275.7 L730.8,280.5 L731.8,283.1 L732.7,279.8 L733.7,281.3 L734.6,280.0 L735.6,281.2 L736.5,281.7 L737.5,282.6 L738.5,282.8 L739.4,283.0 L740.4,280.1 L741.3,279.4 L742.3,282.1 L743.2,278.9 L744.2,280.1 L745.1,281.6 L746.1,280.0 L747.0,281.1 L748.0,282.5 L749.0,282.0 L749.9,278.7 L750.9,279.8 L751.8,280.5 L752.8,277.8 L753.7,284.0 L754.7,279.3 L755.6,281.5 L756.6,277.9 L757.5,284.1 L758.5,280.8 L759.5,281.4 L760.4,279.1 L761.4,281.8 L762.3,278.4 L763.3,280.3 L764.2,278.7 L765.2,278.5 L766.1,279.7 L767.1,280.3 L768.0,281.6 L769.0,278.8 L770.0,296.1 L771.0,293.2 L772.0,296.1 L773.0,296.0 L774.0,298.6 L775.0,298.0 L776.0,297.2 L777.0,293.9 L778.0,298.8 L779.0,295.2 L780.0,298.1 L781.0,292.6 L782.0,298.4 L783.0,293.3 L784.0,298.4 L785.0,295.3 L786.0,296.4 L787.0,293.9 L788.0,297.9 L788.9,293.7 L789.9,296.6 L790.8,292.2 L791.8,294.9 L792.7,292.5 L793.7,295.7 L794.7,294.9 L795.6,293.1 L796.6,296.5 L797.5,291.4 L798.5,295.4 L799.4,292.7 L800.4,294.7 L801.3,295.4 L802.3,292.6 L803.3,295.1 L804.2,294.3 L805.2,292.1 L806.1,291.0 L807.1,284.8 L808.0,286.3 L809.0,280.4" fill="none" stroke="#1f9a48" stroke-width="1.15" stroke-opacity="1" marker-mid="url(#mg)"/>
<path d="M116.0,295.0 L117.0,294.2 L117.9,294.4 L118.9,298.6 L119.8,295.8 L120.8,298.8 L121.7,293.8 L122.7,296.6 L123.6,300.3 L124.6,292.5 L125.5,295.3 L126.5,296.9 L127.0,295.5 L128.0,292.5 L128.9,287.4 L129.9,292.7 L130.9,299.0 L131.9,292.6 L132.8,296.0 L133.8,294.1 L134.8,295.4 L135.7,291.5 L136.7,292.9 L137.7,296.7 L138.7,294.4 L139.6,296.1 L140.6,292.2 L141.6,297.0 L142.5,290.8 L143.5,295.9 L144.5,288.3 L145.5,292.4 L146.4,294.5 L147.4,293.8 L148.4,296.6 L149.3,289.0 L150.3,293.3 L151.3,291.8 L152.3,293.5 L153.2,299.2 L154.2,292.3 L155.2,295.4 L156.1,289.9 L157.1,293.7 L158.1,290.1 L159.1,296.0 L160.0,290.0 L161.0,295.2 L161.5,288.5 L163.0,292.2 L165.5,288.7 L166.5,298.0 L167.4,287.0 L168.4,288.3 L169.3,289.4 L170.3,289.9 L171.2,298.5 L172.2,287.1 L173.1,287.3 L174.1,287.0 L175.0,288.3 L176.0,288.4 L176.9,287.8 L177.9,291.4 L178.8,287.4 L179.8,290.1 L180.7,288.4 L181.7,289.3 L182.6,287.9 L183.6,288.1 L184.5,289.3 L185.5,289.0 L186.5,290.9 L187.4,287.4 L188.4,291.7 L189.3,290.3 L190.3,281.7 L191.2,289.8 L192.2,286.3 L193.1,292.7 L194.1,286.0 L195.0,285.7 L196.0,288.2 L196.9,291.0 L197.9,288.7 L198.8,286.7 L199.8,289.4 L200.7,286.7 L201.7,292.8 L202.6,289.1 L203.6,288.2 L204.6,287.0 L205.5,282.7 L206.5,287.4 L207.4,286.5 L208.4,291.7 L209.3,288.8 L210.3,290.5 L211.2,286.2 L212.2,282.8 L213.1,286.7 L214.1,287.4 L215.0,290.5 L216.0,287.6 L216.9,291.0 L217.9,291.3 L218.8,289.8 L219.8,286.1 L220.7,291.3 L221.7,293.0 L222.6,287.3 L223.6,288.3 L224.6,290.3 L225.5,285.7 L226.5,288.4 L227.4,288.9 L228.4,290.5 L229.3,285.5 L230.3,292.2 L231.2,284.1 L232.2,287.0 L233.1,291.7 L234.1,287.8 L235.0,290.7 L236.0,288.1 L236.9,286.6 L237.9,289.5 L238.8,288.0 L239.8,290.8 L240.7,288.4 L241.7,289.3 L242.7,288.7 L243.6,290.2 L244.6,286.1 L245.5,291.0 L246.5,289.7 L247.4,292.4 L248.4,287.3 L249.3,288.7 L250.3,287.4 L251.2,289.7 L252.2,291.1 L253.1,289.7 L254.1,287.4 L255.0,289.3 L256.0,289.0 L256.9,288.0 L257.9,284.5 L258.8,289.9 L259.8,280.6 L260.7,287.7 L261.7,285.6 L262.7,289.7 L263.6,286.5 L264.6,282.3 L265.5,284.2 L266.5,288.9 L267.4,286.7 L268.4,291.3 L269.3,290.0 L270.3,284.4 L271.2,289.1 L272.2,286.8 L273.1,286.0 L274.1,292.2 L275.0,279.6 L276.0,291.0 L276.9,284.8 L277.9,287.0 L278.8,287.1 L279.8,289.6 L280.8,285.7 L281.7,287.9 L282.7,283.6 L283.6,288.6 L284.6,289.4 L285.5,286.2 L286.5,287.6 L287.4,289.2 L288.4,286.9 L289.3,287.9 L290.3,284.7 L291.2,286.0 L292.2,282.6 L293.1,288.6 L294.1,285.6 L295.0,286.0 L296.0,285.6 L296.9,285.4 L297.9,285.9 L298.8,286.3 L299.8,289.4 L300.8,288.1 L301.7,284.1 L302.7,285.6 L303.6,290.2 L304.6,283.9 L305.5,286.9 L306.5,287.1 L307.4,282.0 L308.4,288.6 L309.3,287.4 L310.3,282.0 L311.2,289.1 L312.2,286.0 L313.1,285.9 L314.1,289.4 L315.0,287.1 L316.0,288.2 L316.9,284.1 L317.9,289.5 L318.8,286.3 L319.8,283.9 L320.8,289.2 L321.7,284.7 L322.7,284.8 L323.6,284.1 L324.6,286.0 L325.5,285.8 L326.5,286.3 L327.4,282.6 L328.4,288.0 L329.3,285.6 L330.3,288.6 L331.2,282.7 L332.2,289.6 L333.1,283.7 L334.1,285.6 L335.0,281.8 L336.0,282.4 L336.9,286.6 L337.9,285.2 L338.9,286.8 L339.8,283.1 L340.8,290.6 L341.7,285.5 L342.7,284.5 L343.6,285.4 L344.6,277.1 L345.5,284.8 L346.5,283.6 L347.4,283.5 L348.4,289.2 L349.3,285.8 L350.3,284.1 L351.2,291.0 L352.2,283.6 L353.1,282.7 L354.1,287.2 L355.0,282.3 L356.0,283.6 L356.9,282.9 L357.9,281.4 L358.9,286.3 L359.8,284.3 L360.8,285.7 L361.7,282.7 L362.7,284.8 L363.6,283.4 L364.6,283.1 L365.5,281.7 L366.5,286.4 L367.4,283.3 L368.4,285.3 L369.3,288.6 L370.3,284.5 L371.2,280.4 L372.2,286.2 L373.1,282.7 L374.1,279.0 L375.0,283.9 L376.0,284.8 L377.0,281.8 L377.9,287.2 L378.9,279.0 L379.8,283.7 L380.8,282.4 L381.7,275.6 L382.7,281.2 L383.6,284.0 L384.6,283.7 L385.5,278.6 L386.5,284.2 L387.4,281.7 L388.4,282.3 L389.3,290.9 L390.3,278.9 L391.2,282.3 L392.2,285.5 L393.1,283.4 L394.1,281.1 L395.0,278.9 L396.0,281.8 L397.5,288.1 L398.5,289.5 L399.4,288.7 L400.4,290.1 L401.3,290.3 L402.3,290.4 L403.2,287.5 L404.2,291.2 L405.1,288.1 L406.1,290.1 L407.1,288.2 L408.0,292.1 L409.0,288.2 L409.9,290.5 L410.9,291.8 L411.8,285.2 L412.8,288.7 L413.8,288.1 L414.7,291.4 L415.7,288.8 L416.6,292.3 L417.6,286.9 L418.5,284.9 L419.5,289.3 L420.4,286.9 L421.4,290.0 L422.4,286.8 L423.3,289.6 L424.3,291.2 L425.2,287.0 L426.2,285.0 L427.1,287.2 L428.1,291.3 L429.1,285.6 L430.0,289.6 L431.0,288.4 L431.9,289.4 L432.9,284.7 L433.8,284.6 L434.8,288.1 L435.8,286.2 L436.7,289.2 L437.7,283.6 L438.6,286.9 L439.6,288.7 L440.5,284.5 L441.5,289.6 L442.4,288.6 L443.4,288.6 L444.4,285.2 L445.3,288.2 L446.3,284.1 L447.2,287.0 L448.2,284.2 L449.1,287.2 L450.1,283.5 L451.1,287.8 L452.0,282.9 L453.0,289.4 L453.9,284.2 L454.9,289.2 L455.8,282.7 L456.8,283.4 L457.7,284.8 L458.7,282.9 L459.7,286.5 L460.6,283.2 L461.6,286.7 L462.5,286.8 L463.5,284.0 L464.4,292.9 L465.4,283.9 L466.4,287.1 L467.3,283.6 L468.3,286.4 L469.2,287.1 L470.2,283.5 L471.1,284.6 L472.1,278.5 L473.0,284.4 L474.0,283.0 L475.5,294.6 L476.5,293.1 L477.4,293.5 L478.4,297.9 L479.3,291.5 L480.3,296.0 L481.2,295.0 L482.2,294.1 L483.1,297.6 L484.1,293.9 L485.0,295.3 L486.0,292.8 L486.9,296.7 L487.9,292.5 L488.8,296.9 L489.8,290.6 L490.7,293.1 L491.7,288.6 L492.7,294.0 L493.6,290.3 L494.6,294.9 L495.5,292.1 L496.5,293.4 L497.4,290.8 L498.4,290.7 L499.3,291.4 L500.3,291.4 L501.2,290.1 L502.2,289.9 L503.1,293.0 L504.1,289.6 L505.0,294.2 L506.0,287.3 L506.9,293.2 L507.9,292.5 L508.8,292.6 L509.8,282.3 L510.8,290.5 L511.7,293.2 L512.7,287.2 L513.6,293.3 L514.6,288.3 L515.5,289.9 L516.5,285.1 L517.4,288.4 L518.4,292.9 L519.3,286.7 L520.3,292.6 L521.2,288.4 L522.2,290.7 L523.1,298.1 L524.1,286.8 L525.0,290.0 L526.0,288.1 L527.0,292.8 L528.0,288.7 L529.0,289.2 L530.0,289.9 L531.0,288.0 L532.0,292.2 L533.0,290.8 L534.0,290.5 L535.0,287.0 L536.0,290.8 L537.0,302.1 L538.0,288.4 L539.0,290.3 L540.0,291.9 L541.0,287.4 L542.0,291.9 L543.0,288.6 L544.0,293.1 L545.0,291.1 L545.5,290.5 L546.5,288.8 L547.5,292.0 L548.5,292.2 L549.5,293.6 L550.5,291.0 L551.5,292.2 L552.5,289.5 L553.5,287.3 L554.5,291.2 L555.5,292.5 L556.5,289.7 L557.5,288.5 L558.5,290.5 L559.5,294.0 L560.5,291.3 L561.0,287.9 L562.0,285.3 L563.0,289.2 L564.0,285.0 L565.0,289.6 L566.0,276.9 L567.0,286.4 L568.0,290.3 L569.0,283.9 L570.0,285.6 L571.0,286.4 L572.0,286.7 L573.0,288.0 L574.0,286.2 L575.0,286.3 L576.0,287.3 L577.0,284.7 L578.0,286.1 L579.0,284.5 L580.0,289.6 L581.0,293.3 L582.0,293.5 L583.0,289.4 L584.0,293.3 L585.0,292.6 L586.0,290.7 L587.0,289.6 L588.0,292.9 L589.0,294.0 L590.0,284.6 L590.9,291.5 L591.9,290.4 L592.9,294.1 L593.9,290.0 L594.8,292.3 L595.8,289.7 L596.8,292.5 L597.8,288.0 L598.7,294.8 L599.7,287.9 L600.7,294.3 L601.6,289.1 L602.6,292.1 L603.6,286.5 L604.6,291.6 L605.5,288.9 L606.5,288.2 L607.5,289.8 L608.4,289.5 L609.4,290.3 L610.4,287.8 L611.4,289.5 L612.3,289.8 L613.3,287.9 L614.3,303.0 L615.2,292.8 L616.2,288.5 L617.2,287.4 L618.2,283.5 L619.1,291.1 L620.1,287.3 L621.1,284.8 L622.1,287.7 L623.0,288.9 L624.0,285.8 L624.5,292.3 L625.5,291.1 L626.4,292.8 L627.4,289.7 L628.3,290.2 L629.2,293.7 L630.2,290.6 L631.1,289.7 L632.1,292.5 L633.0,288.7 L634.0,291.3 L634.5,281.1 L635.5,283.2 L636.4,284.1 L637.4,279.7 L638.3,277.5 L639.3,284.5 L640.2,283.5 L641.2,280.8 L642.1,283.5 L643.1,280.2 L644.0,278.9 L645.0,287.3 L645.9,287.5 L646.9,280.0 L647.8,279.6 L648.8,282.3 L649.7,284.3 L650.7,280.1 L651.6,282.4 L652.6,280.3 L653.6,280.7 L654.5,281.4 L655.5,280.4 L656.4,281.0 L657.4,279.0 L658.3,285.2 L659.3,280.4 L660.2,280.7 L661.2,277.8 L662.1,283.4 L663.1,278.5 L664.0,283.1 L665.0,278.5 L665.9,279.4 L666.9,282.5 L667.8,278.5 L668.8,280.0 L669.8,278.8 L670.7,282.7 L671.7,279.9 L672.6,280.8 L673.6,278.3 L674.5,281.8 L675.5,281.3 L676.4,278.1 L677.4,281.7 L678.3,279.4 L679.3,281.7 L680.2,277.7 L681.2,278.5 L682.1,278.2 L683.1,276.4 L684.0,275.0 L685.0,277.4 L685.9,278.0 L686.9,279.8 L687.9,278.1 L688.8,280.6 L689.8,278.8 L690.7,279.5 L691.7,278.6 L692.6,275.7 L693.6,278.9 L694.5,276.5 L695.5,279.0 L696.4,277.2 L697.4,282.0 L698.3,274.5 L699.3,280.9 L700.2,275.9 L701.2,283.0 L702.1,277.2 L703.1,277.2 L704.0,281.0 L705.0,277.6 L706.0,274.7 L707.0,274.2 L707.9,273.6 L708.9,274.9 L709.8,272.6 L710.8,276.7 L711.7,271.4 L712.7,274.1 L713.6,272.5 L714.6,275.5 L715.5,272.9 L716.5,272.9 L717.5,272.2 L718.4,271.8 L719.4,273.4 L720.3,287.4 L721.3,272.7 L722.2,274.6 L723.2,271.5 L724.1,276.8 L725.1,272.0 L726.0,275.2 L727.0,272.1 L728.0,276.6 L728.9,271.7 L729.9,274.6 L730.8,276.8 L731.8,275.2 L732.7,273.2 L733.7,276.9 L734.6,276.5 L735.6,275.1 L736.5,276.5 L737.5,277.5 L738.5,266.9 L739.4,274.9 L740.4,276.3 L741.3,273.2 L742.3,277.3 L743.2,272.1 L744.2,278.1 L745.1,273.3 L746.1,276.7 L747.0,274.9 L748.0,275.8 L749.0,274.1 L749.9,275.4 L750.9,273.8 L751.8,273.4 L752.8,277.7 L753.7,275.4 L754.7,276.9 L755.6,274.1 L756.6,277.7 L757.5,274.1 L758.5,274.7 L759.5,276.5 L760.4,275.9 L761.4,273.1 L762.3,276.7 L763.3,273.5 L764.2,275.7 L765.2,278.6 L766.1,274.4 L767.1,278.4 L768.0,272.9 L769.0,277.8 L770.0,278.4 L771.0,283.8 L772.0,279.3 L773.0,281.4 L774.0,282.6 L775.0,283.0 L776.0,277.4 L777.0,282.1 L778.0,282.1 L779.0,282.0 L780.0,277.8 L781.0,289.0 L782.0,275.9 L783.0,280.7 L784.0,278.8 L785.0,278.0 L786.0,280.7 L787.0,273.0 L788.0,277.0 L788.9,275.7 L789.9,284.4 L790.8,276.7 L791.8,264.7 L792.7,278.1 L793.7,273.5 L794.7,276.2 L795.6,273.4 L796.6,273.9 L797.5,276.7 L798.5,271.9 L799.4,274.8 L800.4,274.7 L801.3,275.2 L802.3,271.4 L803.3,276.6 L804.2,270.4 L805.2,275.7 L806.1,272.7 L807.1,272.4 L808.0,270.1 L809.0,290.2" fill="none" stroke="#111" stroke-width="1.15" stroke-opacity="1" marker-mid="url(#mk)"/>
<path d="M116.0,257.7 L117.0,261.1 L117.9,255.6 L118.9,252.9 L119.8,256.2 L120.8,259.7 L121.7,256.7 L122.7,264.1 L123.6,244.6 L124.6,257.6 L125.5,258.8 L126.5,258.5 L127.0,255.4 L128.0,255.8 L128.9,258.2 L129.9,255.6 L130.9,239.6 L131.9,260.1 L132.8,255.2 L133.8,249.8 L134.8,254.2 L135.7,254.1 L136.7,259.0 L137.7,253.7 L138.7,251.8 L139.6,254.2 L140.6,255.5 L141.6,250.5 L142.5,250.2 L143.5,251.2 L144.5,257.6 L145.5,246.5 L146.4,257.8 L147.4,268.2 L148.4,256.2 L149.3,250.7 L150.3,258.8 L151.3,251.0 L152.3,248.7 L153.2,260.5 L154.2,252.7 L155.2,256.6 L156.1,253.5 L157.1,251.1 L158.1,252.4 L159.1,256.4 L160.0,252.8 L161.0,252.9 L161.5,252.9 L163.0,250.2 L163.6,176.8 L163.6,180.3 L165.5,255.6 L166.5,261.0 L167.4,268.5 L168.4,270.6 L169.3,267.2 L170.3,269.8 L171.2,263.9 L172.2,263.5 L173.1,266.2 L174.1,257.6 L175.0,263.5 L176.0,265.3 L176.9,264.3 L177.9,263.3 L178.8,263.8 L179.8,262.4 L180.7,262.8 L181.7,266.9 L182.6,252.5 L183.6,265.6 L184.5,258.6 L185.5,260.0 L186.5,227.0 L187.4,265.1 L188.4,266.7 L189.3,255.2 L190.3,265.0 L191.2,224.5 L192.2,261.5 L193.1,245.2 L194.1,263.6 L195.0,266.8 L196.0,261.5 L196.9,265.0 L197.9,259.2 L198.8,266.7 L199.8,263.6 L200.7,258.5 L201.7,266.3 L202.6,260.6 L203.6,267.2 L204.6,261.7 L205.5,257.4 L206.5,269.1 L207.4,260.6 L208.4,260.8 L209.3,261.8 L210.3,266.4 L211.2,273.4 L212.2,255.3 L213.1,263.7 L214.1,262.5 L215.0,263.1 L216.0,268.6 L216.9,260.1 L217.9,262.7 L218.8,263.0 L219.8,259.5 L220.7,259.9 L221.7,263.2 L222.6,260.1 L223.6,263.0 L224.6,256.9 L225.5,263.8 L226.5,262.0 L227.4,262.9 L228.4,260.6 L229.3,262.5 L230.3,267.1 L231.2,265.6 L232.2,242.7 L233.1,267.3 L234.1,259.1 L235.0,260.7 L236.0,264.5 L236.9,264.2 L237.9,261.7 L238.8,265.4 L239.8,261.7 L240.7,263.7 L241.7,252.5 L242.7,261.5 L243.6,267.8 L244.6,262.3 L245.5,259.2 L246.5,260.4 L247.4,267.0 L248.4,261.8 L249.3,264.0 L250.3,262.8 L251.2,263.8 L252.2,262.0 L253.1,260.2 L254.1,266.8 L255.0,259.5 L256.0,264.9 L256.9,261.0 L257.9,264.4 L258.8,264.7 L259.8,259.9 L260.7,266.0 L261.7,262.4 L262.7,266.7 L263.6,260.2 L264.6,265.7 L265.5,268.1 L266.5,261.3 L267.4,248.4 L268.4,264.3 L269.3,263.1 L270.3,259.0 L271.2,257.4 L272.2,266.2 L273.1,260.3 L274.1,260.7 L275.0,259.3 L276.0,264.1 L276.9,260.7 L277.9,258.2 L278.8,264.0 L279.8,263.6 L280.8,265.8 L281.7,259.7 L282.7,264.0 L283.6,260.0 L284.6,267.4 L285.5,256.4 L286.5,248.9 L287.4,255.1 L288.4,264.3 L289.3,261.3 L290.3,263.6 L291.2,261.4 L292.2,215.5 L293.1,260.8 L294.1,261.2 L295.0,265.3 L296.0,258.0 L296.9,266.5 L297.9,260.3 L298.8,264.9 L299.8,257.3 L300.8,260.0 L301.7,262.9 L302.7,261.0 L303.6,264.8 L304.6,262.3 L305.5,257.4 L306.5,261.1 L307.4,265.7 L308.4,244.3 L309.3,264.3 L310.3,263.5 L311.2,262.7 L312.2,259.1 L313.1,259.2 L314.1,259.5 L315.0,263.5 L316.0,265.9 L316.9,261.3 L317.9,264.3 L318.8,264.8 L319.8,265.7 L320.8,264.1 L321.7,258.6 L322.7,258.2 L323.6,262.7 L324.6,261.4 L325.5,235.0 L326.5,264.4 L327.4,257.5 L328.4,259.3 L329.3,265.9 L330.3,267.3 L331.2,260.5 L332.2,262.6 L333.1,263.8 L334.1,268.4 L335.0,256.0 L336.0,260.1 L336.9,265.9 L337.9,257.0 L338.9,259.5 L339.8,265.1 L340.8,264.9 L341.7,256.6 L342.7,253.6 L343.6,205.0 L344.6,254.0 L345.5,264.4 L346.5,256.2 L347.4,257.3 L348.4,265.7 L349.3,260.0 L350.3,255.3 L351.2,258.9 L352.2,255.4 L353.1,261.6 L354.1,255.8 L355.0,260.7 L356.0,253.2 L356.9,256.8 L357.9,253.8 L358.9,257.8 L359.8,252.9 L360.8,258.9 L361.7,253.0 L362.7,252.7 L363.6,250.1 L364.6,250.1 L365.5,248.2 L366.5,223.0 L367.4,246.4 L368.4,245.4 L369.3,249.4 L370.3,243.7 L371.2,244.9 L372.2,227.6 L373.1,233.0 L374.1,238.2 L375.0,229.9 L376.0,235.9 L377.0,235.4 L377.9,229.3 L378.9,225.4 L379.8,231.6 L380.8,227.6 L381.7,222.1 L382.7,225.4 L383.6,224.0 L384.6,167.5 L385.5,224.6 L386.5,226.0 L387.4,227.9 L388.4,224.3 L389.3,226.4 L390.3,226.7 L391.2,218.8 L392.2,221.8 L393.1,225.6 L394.1,215.3 L395.0,226.2 L396.0,219.0 L397.5,259.4 L398.5,253.2 L399.4,261.3 L400.4,255.7 L401.3,260.4 L402.3,259.9 L403.2,267.6 L404.2,257.5 L405.1,259.0 L406.1,250.6 L407.1,254.4 L408.0,256.3 L409.0,260.8 L409.9,245.6 L410.9,254.8 L411.8,257.7 L412.8,261.7 L413.8,253.5 L414.7,257.3 L415.7,253.6 L416.6,252.5 L417.6,259.2 L418.5,252.1 L419.5,259.4 L420.4,256.9 L421.4,253.4 L422.4,257.7 L423.3,245.9 L424.3,254.5 L425.2,261.1 L426.2,255.5 L427.1,253.9 L428.1,251.7 L429.1,256.2 L430.0,251.8 L431.0,249.5 L431.9,255.2 L432.9,249.5 L433.8,253.3 L434.8,254.2 L435.8,250.9 L436.7,251.4 L437.7,249.5 L438.6,252.0 L439.6,233.7 L440.5,248.8 L441.5,250.4 L442.4,246.5 L443.4,245.3 L444.4,248.5 L445.3,244.7 L446.3,249.6 L447.2,243.8 L448.2,248.4 L449.1,241.5 L450.1,247.9 L451.1,240.1 L452.0,244.8 L453.0,244.2 L453.9,241.5 L454.9,245.6 L455.8,239.9 L456.8,243.2 L457.7,225.5 L458.7,243.6 L459.7,231.3 L460.6,243.0 L461.6,238.5 L462.5,237.8 L463.5,237.7 L464.4,238.7 L465.4,236.7 L466.4,239.2 L467.3,234.1 L468.3,237.1 L469.2,239.5 L470.2,231.0 L471.1,232.0 L472.1,234.6 L473.0,214.4 L474.0,229.7 L475.5,257.4 L476.5,254.7 L477.4,260.3 L478.4,260.6 L479.3,258.4 L480.3,252.0 L481.2,260.0 L482.2,255.6 L483.1,262.2 L484.1,259.0 L485.0,261.9 L486.0,249.8 L486.9,260.4 L487.9,259.9 L488.8,258.5 L489.8,260.0 L490.7,263.8 L491.7,257.8 L492.7,261.1 L493.6,257.5 L494.6,247.3 L495.5,263.1 L496.5,269.9 L497.4,262.4 L498.4,257.2 L499.3,257.2 L500.3,259.1 L501.2,257.3 L502.2,258.3 L503.1,257.0 L504.1,258.4 L505.0,251.9 L506.0,250.7 L506.9,255.3 L507.9,255.3 L508.8,253.0 L509.8,256.2 L510.8,257.1 L511.7,250.1 L512.7,253.0 L513.6,248.0 L514.6,253.5 L515.5,251.1 L516.5,250.2 L517.4,246.7 L518.4,246.5 L519.3,246.2 L520.3,242.7 L521.2,244.6 L522.2,240.6 L523.1,244.8 L524.1,247.7 L525.0,237.3 L526.0,243.3 L527.0,228.0 L528.0,257.8 L529.0,255.0 L530.0,256.1 L531.0,258.4 L532.0,228.0 L533.0,257.7 L534.0,257.0 L535.0,232.0 L536.0,254.8 L537.0,252.7 L538.0,260.6 L539.0,254.7 L540.0,262.5 L541.0,258.3 L542.0,246.9 L544.0,188.8 L545.0,212.9 L546.0,224.9 L547.0,221.4 L548.0,219.6 L548.9,212.9 L549.9,212.8 L550.9,204.8 L551.9,197.3 L552.9,192.3 L553.9,203.7 L554.9,193.3 L555.9,192.1 L556.8,190.8 L557.8,179.4 L558.8,171.1 L559.8,169.5 L560.8,160.9 L561.5,263.5 L562.5,259.8 L563.4,258.8 L564.4,264.8 L565.3,250.4 L566.3,264.5 L567.2,262.3 L568.2,266.9 L569.1,261.0 L570.1,254.8 L571.0,250.0 L572.0,238.7 L573.5,219.8 L574.6,212.4 L575.7,203.9 L576.8,215.3 L577.8,212.0 L578.9,234.1 L580.0,242.4 L581.0,255.4 L582.0,250.7 L583.0,254.5 L584.0,247.5 L585.0,245.8 L586.0,250.5 L587.0,254.5 L588.0,246.9 L589.0,263.0 L590.0,253.4 L590.9,261.4 L591.9,256.9 L592.9,261.6 L593.9,253.4 L594.8,260.0 L595.8,256.1 L596.8,246.4 L597.8,258.8 L598.7,253.0 L599.7,257.2 L600.7,227.0 L601.6,262.1 L602.6,254.1 L603.6,255.0 L604.6,254.1 L605.5,255.9 L606.5,252.9 L607.5,259.9 L608.4,254.9 L609.4,243.7 L610.4,245.7 L611.4,252.0 L612.3,257.8 L613.3,254.2 L614.3,258.1 L615.2,261.3 L616.2,252.5 L617.2,251.3 L618.2,251.4 L619.1,248.0 L620.1,245.9 L621.1,226.2 L622.1,242.5 L623.0,235.0 L624.0,225.7 L625.0,227.8 L626.0,224.9 L627.0,210.9 L628.0,221.7 L629.0,218.5 L630.0,211.3 L631.0,221.8 L632.0,223.9 L633.0,226.6 L634.0,235.5 L634.5,271.1 L635.5,274.6 L636.4,267.6 L637.4,273.0 L638.3,266.8 L639.3,274.3 L640.2,271.0 L641.2,268.4 L642.1,268.2 L643.1,272.2 L644.0,272.6 L645.0,268.4 L645.9,270.5 L646.9,266.0 L647.8,270.6 L648.8,269.6 L649.7,269.0 L650.7,266.0 L651.6,269.5 L652.6,268.4 L653.6,273.7 L654.5,266.1 L655.5,271.5 L656.4,265.7 L657.4,264.7 L658.3,269.1 L659.3,269.4 L660.2,264.4 L661.2,268.4 L662.1,270.9 L663.1,266.2 L664.0,267.8 L665.0,260.2 L665.9,266.8 L666.9,269.0 L667.8,264.0 L668.8,270.5 L669.8,270.0 L670.7,269.1 L671.7,264.9 L672.6,269.6 L673.6,265.5 L674.5,267.8 L675.5,273.5 L676.4,265.1 L677.4,267.2 L678.3,268.0 L679.3,268.1 L680.2,265.2 L681.2,268.8 L682.1,263.8 L683.1,266.0 L684.0,253.4 L685.0,254.5 L685.9,268.3 L686.9,265.2 L687.9,267.5 L688.8,267.4 L689.8,263.7 L690.7,266.9 L691.7,264.7 L692.6,268.0 L693.6,262.5 L694.5,267.1 L695.5,264.4 L696.4,264.9 L697.4,263.9 L698.3,263.1 L699.3,261.9 L700.2,269.2 L701.2,261.4 L702.1,266.7 L703.1,265.6 L704.0,265.0 L705.0,264.3 L705.6,233.8 L705.6,233.3 L707.0,279.3 L708.0,279.8 L708.9,275.8 L709.9,275.8 L710.8,272.8 L711.8,279.5 L712.7,262.0 L713.7,273.1 L714.6,280.0 L715.6,260.1 L716.5,277.6 L717.5,277.8 L718.4,276.0 L719.4,272.7 L720.4,277.5 L721.3,274.4 L722.3,278.6 L723.2,276.7 L724.2,278.1 L725.1,280.7 L726.1,278.4 L727.0,278.2 L728.0,283.3 L728.9,276.3 L729.9,273.0 L730.8,275.6 L731.8,280.1 L732.8,272.3 L733.7,278.5 L734.7,275.6 L735.6,283.8 L736.6,276.0 L737.5,275.8 L738.5,282.0 L739.4,273.2 L740.4,281.7 L741.3,270.3 L742.3,279.9 L743.2,282.0 L744.2,276.5 L745.2,280.2 L746.1,278.8 L747.1,282.1 L748.0,277.7 L749.0,280.6 L749.9,277.9 L750.9,278.6 L751.8,276.3 L752.8,281.7 L753.7,274.4 L754.7,275.5 L755.6,277.5 L756.6,275.3 L757.6,278.5 L758.5,282.6 L759.5,281.6 L760.4,276.4 L761.4,281.9 L762.3,278.5 L763.3,282.8 L764.2,276.9 L765.2,278.7 L766.1,277.5 L767.1,284.4 L768.0,275.6 L769.0,277.8 L770.0,266.6 L771.0,266.9 L772.0,264.4 L773.0,267.9 L774.0,265.6 L775.0,263.1 L776.0,265.4 L777.0,263.4 L778.0,266.9 L779.0,269.5 L780.0,265.4 L781.0,264.9 L782.0,265.8 L783.0,264.8 L784.0,263.1 L785.0,263.7 L786.0,261.7 L787.0,263.1 L788.0,260.0 L788.9,266.1 L789.9,272.1 L790.8,267.7 L791.8,269.3 L792.7,257.8 L793.7,266.1 L794.7,272.0 L795.6,266.5 L796.6,263.8 L797.5,265.5 L798.5,260.2 L799.4,266.9 L800.4,258.7 L801.3,261.4 L802.3,261.9 L803.3,251.2 L804.2,253.0 L805.2,248.8 L806.1,246.1 L807.1,238.9 L808.0,244.8 L809.0,237.4 L809.4,169.1 L809.4,168.0" fill="none" stroke="#e8474c" stroke-width="1.15" stroke-opacity="1" marker-mid="url(#mr)"/>
<path d="M116.0,127.0 L117.2,133.3 L118.4,134.0 L119.7,134.7 L120.9,135.4 L122.1,136.1 L123.3,136.8 L124.6,137.4 L125.8,138.1 L127.0,138.8 L128.3,123.8 L129.5,125.0 L130.8,126.3 L132.0,128.4 L133.3,130.6 L134.5,132.9 L135.7,135.2 L137.0,137.5 L138.2,138.0 L139.5,138.5 L140.7,139.1 L141.9,139.6 L143.2,140.1 L144.4,140.6 L145.7,141.2 L146.9,141.7 L148.1,142.2 L149.4,142.7 L150.6,143.3 L151.8,144.0 L153.1,144.7 L154.3,145.3 L155.6,146.0 L156.8,146.7 L158.0,147.3 L159.3,148.0 L160.5,148.7 L161.8,149.3 L163.0,150.0 L163.6,177.0 L163.6,177.0 L165.3,131.0 L166.5,131.7 L167.7,132.3 L168.9,133.0 L170.1,133.6 L171.3,134.0 L172.5,134.4 L173.7,134.8 L174.9,135.3 L176.1,135.7 L177.3,136.1 L178.5,136.3 L179.7,136.4 L180.9,136.5 L182.1,136.6 L183.3,136.7 L184.5,136.8 L185.7,136.9 L186.9,137.0 L188.1,137.1 L189.3,137.2 L190.5,137.4 L191.7,137.5 L192.9,137.6 L194.1,137.7 L195.3,137.8 L196.5,138.0 L197.7,138.1 L198.9,138.2 L200.1,138.3 L201.3,138.4 L202.5,138.5 L203.7,138.6 L204.9,138.6 L206.1,138.7 L207.3,138.8 L208.5,138.9 L209.7,139.0 L210.9,139.0 L212.1,139.1 L213.3,139.2 L214.5,139.3 L215.7,139.4 L216.9,139.4 L218.1,139.5 L219.3,139.6 L220.5,139.7 L221.7,139.8 L222.9,139.8 L224.1,139.9 L225.3,140.0 L226.5,140.1 L227.7,140.2 L228.9,140.3 L230.1,140.3 L231.3,140.4 L232.5,140.5 L233.7,140.6 L234.9,140.7 L236.1,140.7 L237.3,140.8 L238.5,140.9 L239.7,141.0 L240.9,141.0 L242.1,141.1 L243.3,141.2 L244.5,141.2 L245.7,141.3 L246.9,141.3 L248.1,141.4 L249.3,141.4 L250.5,141.5 L251.7,141.5 L252.9,141.6 L254.1,141.7 L255.3,141.7 L256.5,141.8 L257.7,141.8 L258.9,141.9 L260.1,141.9 L261.3,142.0 L262.5,142.1 L263.7,142.1 L264.9,142.2 L266.1,142.2 L267.3,142.3 L268.5,142.3 L269.7,142.4 L270.9,142.5 L272.1,142.6 L273.3,142.7 L274.5,142.9 L275.7,143.0 L276.9,143.1 L278.1,143.3 L279.3,143.4 L280.6,143.5 L281.8,143.6 L283.0,143.8 L284.2,143.9 L285.4,144.0 L286.6,144.1 L287.8,144.3 L289.0,144.4 L290.2,144.5 L291.4,144.6 L292.6,144.7 L293.8,144.8 L295.0,144.9 L296.2,145.0 L297.4,145.1 L298.6,145.2 L299.8,145.3 L301.0,145.4 L302.2,145.5 L303.4,145.6 L304.6,145.7 L305.8,145.8 L307.0,145.9 L308.2,146.0 L309.4,146.1 L310.6,146.2 L311.8,146.3 L313.0,146.4 L314.2,146.5 L315.4,146.6 L316.6,146.7 L317.8,146.8 L319.0,146.9 L320.2,147.0 L321.4,147.1 L322.6,147.2 L323.8,147.3 L325.0,147.5 L326.2,147.6 L327.4,147.7 L328.6,147.8 L329.8,147.9 L331.0,148.0 L332.2,148.1 L333.4,148.2 L334.6,148.3 L335.8,148.4 L337.0,148.6 L338.2,148.7 L339.4,148.8 L340.6,148.9 L341.8,149.0 L343.0,149.1 L344.2,149.2 L345.4,149.4 L346.6,149.6 L347.8,149.7 L349.0,149.9 L350.2,150.1 L351.4,150.3 L352.6,150.4 L353.8,150.6 L355.0,150.8 L356.2,151.0 L357.4,151.1 L358.6,151.3 L359.8,151.5 L361.0,151.7 L362.2,152.0 L363.4,152.2 L364.6,152.5 L365.8,152.7 L367.0,153.0 L368.2,153.2 L369.4,153.5 L370.6,153.7 L371.8,154.0 L373.0,154.7 L374.2,155.6 L375.4,156.5 L376.6,157.4 L377.8,158.3 L379.0,159.2 L380.2,160.1 L381.4,161.0 L382.6,161.9 L383.8,162.8 L385.0,164.0 L386.2,165.2 L387.4,166.9 L388.6,169.7 L389.8,172.5 L391.0,174.2 L392.2,175.7 L393.4,177.2 L394.6,180.7 L395.8,186.0 L397.5,132.0 L398.7,134.4 L399.9,136.9 L401.1,137.3 L402.4,137.6 L403.6,137.9 L404.8,138.2 L406.0,138.5 L407.2,138.8 L408.4,139.1 L409.6,139.4 L410.9,139.7 L412.1,140.0 L413.3,140.3 L414.5,140.6 L415.7,140.9 L416.9,141.2 L418.1,141.5 L419.4,141.8 L420.6,142.1 L421.8,142.4 L423.0,142.8 L424.2,143.1 L425.4,143.4 L426.6,143.7 L427.9,144.0 L429.1,144.3 L430.3,144.6 L431.5,144.9 L432.7,145.2 L433.9,145.5 L435.1,145.8 L436.4,146.1 L437.6,146.4 L438.8,146.7 L440.0,147.0 L441.2,147.5 L442.4,148.0 L443.6,148.5 L444.9,148.9 L446.1,149.4 L447.3,149.9 L448.5,150.4 L449.7,150.9 L450.9,151.4 L452.1,151.9 L453.4,152.3 L454.6,152.8 L455.8,153.3 L457.0,153.8 L458.2,154.3 L459.4,154.8 L460.6,155.4 L461.9,156.1 L463.1,156.8 L464.3,157.6 L465.5,158.3 L466.7,159.0 L467.9,159.8 L469.1,160.5 L470.4,162.0 L471.6,165.3 L472.8,168.7 L474.0,172.0 L475.0,127.0 L476.2,127.3 L477.4,127.6 L478.6,128.0 L479.8,128.3 L481.0,128.6 L482.3,128.9 L483.5,129.3 L484.7,129.6 L485.9,129.9 L487.1,130.2 L488.3,130.5 L489.5,130.9 L490.7,131.2 L491.9,131.5 L493.1,131.8 L494.3,132.1 L495.6,132.4 L496.8,132.7 L498.0,133.0 L499.2,133.3 L500.4,133.6 L501.6,133.9 L502.8,134.2 L504.0,134.5 L505.2,134.8 L506.4,135.1 L507.7,135.4 L508.9,135.7 L510.1,136.1 L511.3,137.0 L512.5,138.0 L513.7,139.0 L514.9,139.9 L516.1,141.1 L517.3,142.3 L518.5,143.5 L519.7,144.7 L521.0,146.0 L522.2,147.2 L523.4,149.1 L524.6,150.9 L525.8,152.7 L527.0,158.0 L528.5,133.0 L529.8,133.8 L531.0,134.6 L532.3,135.3 L533.6,136.1 L534.8,136.9 L536.1,137.7 L537.4,138.4 L538.7,139.2 L539.9,140.0 L541.2,143.6 L542.5,150.2 L543.7,161.3 L545.0,189.0 L545.5,170.0 L546.8,172.5 L548.0,175.0 L549.3,176.3 L550.6,177.6 L551.8,178.8 L553.1,181.2 L554.4,183.7 L555.6,186.6 L556.9,189.8 L558.2,195.8 L559.4,204.8 L560.7,227.0 L561.5,127.0 L562.8,132.0 L564.0,134.0 L565.2,135.2 L566.5,136.5 L567.8,137.8 L569.0,139.7 L570.2,141.8 L571.5,146.5 L572.8,158.0 L574.0,184.0 L575.2,185.7 L576.5,187.3 L577.8,189.1 L579.0,191.0 L580.0,140.0 L581.3,144.7 L582.7,147.7 L584.0,149.0 L585.3,150.3 L586.7,152.0 L588.0,154.0 L588.5,128.5 L589.7,131.2 L590.9,133.9 L592.2,134.7 L593.4,135.4 L594.6,136.1 L595.8,136.8 L597.1,137.5 L598.3,138.1 L599.5,138.5 L600.7,138.8 L602.0,139.2 L603.2,139.6 L604.4,139.9 L605.6,140.3 L606.9,140.7 L608.1,141.0 L609.3,141.7 L610.5,142.4 L611.8,143.1 L613.0,143.8 L614.2,144.5 L615.4,145.4 L616.7,146.7 L617.9,147.9 L619.1,149.1 L620.3,151.1 L621.6,155.4 L622.8,159.7 L624.0,164.0 L624.5,134.0 L625.7,138.9 L626.9,142.8 L628.1,153.4 L629.4,172.4 L630.6,172.9 L631.8,173.5 L633.0,174.0 L634.3,157.0 L635.5,159.1 L636.7,160.1 L637.9,160.2 L639.1,160.3 L640.4,160.4 L641.6,160.5 L642.8,160.6 L644.0,160.7 L645.2,160.8 L646.4,160.9 L647.6,161.0 L648.8,161.1 L650.0,161.2 L651.2,161.3 L652.5,161.4 L653.7,161.5 L654.9,161.6 L656.1,161.7 L657.3,161.8 L658.5,161.9 L659.7,162.0 L660.9,162.2 L662.1,162.4 L663.3,162.7 L664.6,162.9 L665.8,163.2 L667.0,163.4 L668.2,163.6 L669.4,163.9 L670.6,164.1 L671.8,164.4 L673.0,164.6 L674.2,164.8 L675.4,165.1 L676.7,165.3 L677.9,165.6 L679.1,165.8 L680.3,166.1 L681.5,166.5 L682.7,166.9 L683.9,167.4 L685.1,167.8 L686.3,168.2 L687.5,168.6 L688.8,169.1 L690.0,169.5 L691.2,169.9 L692.4,170.3 L693.6,170.8 L694.8,171.2 L696.0,171.6 L697.2,172.0 L698.4,172.5 L699.6,172.9 L700.9,173.9 L702.1,175.1 L703.3,176.3 L704.5,177.5 L705.7,214.0 L707.0,182.5 L708.2,183.5 L709.4,184.5 L710.6,185.4 L711.9,186.1 L713.1,186.8 L714.3,187.6 L715.5,188.1 L716.7,188.3 L717.9,188.6 L719.2,188.8 L720.4,189.1 L721.6,189.3 L722.8,189.6 L724.0,189.8 L725.2,190.0 L726.5,190.3 L727.7,190.5 L728.9,190.8 L730.1,191.0 L731.3,191.3 L732.5,191.5 L733.7,191.7 L735.0,192.0 L736.2,192.2 L737.4,192.5 L738.6,192.7 L739.8,193.0 L741.0,193.2 L742.3,193.3 L743.5,193.5 L744.7,193.7 L745.9,193.9 L747.1,194.1 L748.3,194.3 L749.5,194.5 L750.8,194.7 L752.0,194.8 L753.2,195.0 L754.4,195.2 L755.6,195.4 L756.8,195.6 L758.1,195.8 L759.3,196.0 L760.5,196.2 L761.7,196.3 L762.9,196.5 L764.1,196.7 L765.4,196.9 L766.6,198.7 L767.8,202.4 L769.0,206.0 L770.0,161.0 L771.3,161.3 L772.6,161.7 L773.9,162.0 L775.2,162.4 L776.5,162.7 L777.8,163.1 L779.0,163.4 L780.3,163.8 L781.6,164.1 L782.9,164.4 L784.2,164.8 L785.5,165.8 L786.8,168.0 L787.4,161.0 L788.6,169.5 L789.8,171.2 L791.0,172.8 L792.2,174.4 L793.4,176.1 L794.6,177.7 L795.8,179.3 L797.0,180.9 L798.2,182.6 L799.4,184.2 L800.6,185.4 L801.8,186.2 L803.0,187.0 L804.2,193.0 L805.4,199.0 L806.6,203.5 L807.8,206.5 L809.0,235.0" fill="none" stroke="#fbe54a" stroke-width="1.1" marker-start="url(#my)" marker-mid="url(#my)" marker-end="url(#my)"/>
<path d="M116.0,644.2 L117.0,643.8 L118.0,645.6 L119.0,639.3 L120.0,643.6 L121.0,644.7 L122.0,644.6 L123.0,644.7 L124.0,646.8 L125.0,642.9 L126.0,645.0 L127.5,641.8 L128.5,639.6 L129.4,640.6 L130.4,640.7 L131.4,641.5 L132.4,641.5 L133.3,641.1 L134.3,642.1 L135.3,642.3 L136.3,640.8 L137.2,641.9 L138.2,641.8 L139.2,643.7 L140.1,640.2 L141.1,639.9 L142.1,642.7 L143.1,641.7 L144.0,641.9 L145.0,642.5 L146.0,641.9 L147.0,642.7 L147.9,639.8 L148.9,648.6 L149.9,643.8 L150.9,643.9 L151.8,642.3 L152.8,640.9 L153.8,643.2 L154.7,641.7 L155.7,640.1 L156.7,641.6 L157.7,640.0 L158.6,643.2 L159.6,643.2 L160.6,641.4 L161.6,642.5 L162.5,645.7 L163.5,642.3 L165.5,640.1 L166.5,640.9 L167.4,637.9 L168.4,641.1 L169.3,638.9 L170.3,640.7 L171.2,640.6 L172.2,638.9 L173.1,644.4 L174.1,632.7 L175.0,641.0 L176.0,639.1 L176.9,640.9 L177.9,638.4 L178.8,643.2 L179.8,639.4 L180.7,642.0 L181.7,639.7 L182.6,640.1 L183.6,639.5 L184.5,641.1 L185.5,639.1 L186.4,641.4 L187.4,632.5 L188.3,641.4 L189.3,639.8 L190.3,639.9 L191.2,639.8 L192.2,640.7 L193.1,640.0 L194.1,640.0 L195.0,639.9 L196.0,641.6 L196.9,640.4 L197.9,640.5 L198.8,642.5 L199.8,639.9 L200.7,641.7 L201.7,640.8 L202.6,639.7 L203.6,641.2 L204.5,639.5 L205.5,642.8 L206.4,639.0 L207.4,641.7 L208.3,639.8 L209.3,641.6 L210.2,639.4 L211.2,641.5 L212.2,639.9 L213.1,641.5 L214.1,638.9 L215.0,641.1 L216.0,640.4 L216.9,639.0 L217.9,634.0 L218.8,641.0 L219.8,641.9 L220.7,641.6 L221.7,639.9 L222.6,640.0 L223.6,640.2 L224.5,641.7 L225.5,645.9 L226.4,641.9 L227.4,640.1 L228.3,642.3 L229.3,639.4 L230.2,642.6 L231.2,639.2 L232.1,642.2 L233.1,641.2 L234.1,642.8 L235.0,642.2 L236.0,638.7 L236.9,642.5 L237.9,640.1 L238.8,642.6 L239.8,639.7 L240.7,639.3 L241.7,641.1 L242.6,641.8 L243.6,642.2 L244.5,640.0 L245.5,642.5 L246.4,641.2 L247.4,640.9 L248.3,642.4 L249.3,640.3 L250.2,642.5 L251.2,640.4 L252.1,642.3 L253.1,639.6 L254.0,641.3 L255.0,640.5 L255.9,642.6 L256.9,642.2 L257.9,641.8 L258.8,640.1 L259.8,641.6 L260.7,637.9 L261.7,639.9 L262.6,641.2 L263.6,640.4 L264.5,640.6 L265.5,643.9 L266.4,641.9 L267.4,640.8 L268.3,643.4 L269.3,642.0 L270.2,639.7 L271.2,642.5 L272.1,641.9 L273.1,639.2 L274.0,642.3 L275.0,640.7 L275.9,639.5 L276.9,641.5 L277.8,641.5 L278.8,641.7 L279.8,642.4 L280.7,641.3 L281.7,642.5 L282.6,640.8 L283.6,649.7 L284.5,640.4 L285.5,641.1 L286.4,643.3 L287.4,641.1 L288.3,643.2 L289.3,643.6 L290.2,640.1 L291.2,642.0 L292.1,641.3 L293.1,642.5 L294.0,642.4 L295.0,641.9 L295.9,643.1 L296.9,641.6 L297.8,643.0 L298.8,640.8 L299.7,643.7 L300.7,641.1 L301.6,643.5 L302.6,643.3 L303.6,642.1 L304.5,639.9 L305.5,639.7 L306.4,641.2 L307.4,642.1 L308.3,640.9 L309.3,644.8 L310.2,642.2 L311.2,643.4 L312.1,641.9 L313.1,641.6 L314.0,641.5 L315.0,642.7 L315.9,642.1 L316.9,643.4 L317.8,641.4 L318.8,645.1 L319.7,642.3 L320.7,643.0 L321.6,641.1 L322.6,641.2 L323.5,642.9 L324.5,641.6 L325.4,641.2 L326.4,643.8 L327.4,641.3 L328.3,641.2 L329.3,640.8 L330.2,642.1 L331.2,641.5 L332.1,641.8 L333.1,642.1 L334.0,643.7 L335.0,640.9 L335.9,642.6 L336.9,640.4 L337.8,644.3 L338.8,641.0 L339.7,643.4 L340.7,641.2 L341.6,635.8 L342.6,634.8 L343.5,642.6 L344.5,640.5 L345.4,641.5 L346.4,642.1 L347.3,643.1 L348.3,641.5 L349.3,642.0 L350.2,640.7 L351.2,641.0 L352.1,641.7 L353.1,643.2 L354.0,643.7 L355.0,642.3 L355.9,644.0 L356.9,640.3 L357.8,643.7 L358.8,641.6 L359.7,641.7 L360.7,643.9 L361.6,641.0 L362.6,641.5 L363.5,642.2 L364.5,644.4 L365.4,643.3 L366.4,642.6 L367.3,642.5 L368.3,642.2 L369.2,643.7 L370.2,641.0 L371.1,643.4 L372.1,641.1 L373.1,642.8 L374.0,642.2 L375.0,642.9 L375.9,645.0 L376.9,642.3 L377.8,642.0 L378.8,644.2 L379.7,638.2 L380.7,642.2 L381.6,643.1 L382.6,641.6 L383.5,644.6 L384.5,640.6 L385.4,644.1 L386.4,643.6 L387.3,642.7 L388.3,644.9 L389.2,642.1 L390.2,642.8 L391.1,644.3 L392.1,642.8 L393.0,641.6 L394.0,643.5 L397.0,636.6 L398.0,639.4 L398.9,640.5 L399.9,639.7 L400.8,643.2 L401.8,639.1 L402.7,640.7 L403.7,642.9 L404.6,639.0 L405.6,641.1 L406.6,639.7 L407.5,641.0 L408.5,639.4 L409.4,640.8 L410.4,641.5 L411.3,640.7 L412.3,639.6 L413.2,637.5 L414.2,641.0 L415.2,641.1 L416.1,638.8 L417.1,639.7 L418.0,641.9 L419.0,639.5 L419.9,640.6 L420.9,641.6 L421.8,641.8 L422.8,639.2 L423.8,640.9 L424.7,639.3 L425.7,637.6 L426.6,641.0 L427.6,641.0 L428.5,638.8 L429.5,640.6 L430.4,639.3 L431.4,637.5 L432.4,641.2 L433.3,639.1 L434.3,642.0 L435.2,640.2 L436.2,639.8 L437.1,639.2 L438.1,640.0 L439.0,639.9 L440.0,641.6 L441.0,640.0 L441.9,641.7 L442.9,641.3 L443.8,640.7 L444.8,642.3 L445.7,639.4 L446.7,641.5 L447.6,639.5 L448.6,641.3 L449.6,642.4 L450.5,640.6 L451.5,642.4 L452.4,640.0 L453.4,641.3 L454.3,639.8 L455.3,642.0 L456.2,640.1 L457.2,640.5 L458.2,640.0 L459.1,642.6 L460.1,639.4 L461.0,639.2 L462.0,641.8 L462.9,636.7 L463.9,640.2 L464.8,642.1 L465.8,639.8 L466.8,641.6 L467.7,639.6 L468.7,641.7 L469.6,640.3 L470.6,638.1 L471.5,639.2 L472.5,641.6 L473.4,640.0 L474.4,642.1 L475.4,642.0 L476.3,640.4 L477.3,641.3 L478.2,640.1 L479.2,641.8 L480.1,641.3 L481.1,641.9 L482.0,639.9 L483.0,641.1 L484.0,641.9 L484.9,639.7 L485.9,641.1 L486.8,641.3 L487.8,641.8 L488.7,641.1 L489.7,640.9 L490.6,641.1 L491.6,641.9 L492.6,639.5 L493.5,643.6 L494.5,640.9 L495.4,643.4 L496.4,642.6 L497.3,641.8 L498.3,638.6 L499.2,642.3 L500.2,641.8 L501.2,642.9 L502.1,639.9 L503.1,643.4 L504.0,641.4 L505.0,642.9 L505.9,642.7 L506.9,641.1 L507.8,642.6 L508.8,641.0 L509.8,642.5 L510.7,641.4 L511.7,642.6 L512.6,641.3 L513.6,649.8 L514.5,643.9 L515.5,641.3 L516.4,641.2 L517.4,641.4 L518.4,642.5 L519.3,641.2 L520.3,642.3 L521.2,640.1 L522.2,642.9 L523.1,640.3 L524.1,642.5 L525.0,642.6 L526.0,641.6 L527.0,637.2 L528.0,635.7 L529.0,637.2 L530.0,637.7 L531.0,638.5 L532.0,637.7 L533.0,640.2 L534.0,637.0 L535.0,638.3 L536.0,639.4 L537.0,639.7 L538.0,641.6 L539.0,639.8 L540.0,641.2 L541.0,641.9 L542.0,640.7 L543.0,640.5 L544.0,642.3 L545.0,643.9 L546.0,644.7 L547.0,645.4 L548.0,646.1 L549.0,645.9 L550.0,645.2 L551.0,644.6 L552.0,645.8 L553.0,644.2 L554.0,645.9 L555.0,644.0 L556.0,645.7 L557.0,646.2 L558.0,647.6 L559.0,643.5 L560.0,645.3 L561.0,639.3 L562.0,638.9 L563.0,639.9 L564.0,639.3 L565.0,639.6 L566.0,639.8 L567.0,635.7 L568.0,642.2 L569.0,639.9 L570.0,643.5 L571.0,642.0 L572.0,644.2 L573.0,643.4 L574.0,640.1 L575.0,642.4 L576.0,641.2 L577.0,642.0 L578.0,642.1 L579.0,641.0 L580.0,641.8 L581.0,641.8 L582.0,641.2 L583.0,641.3 L584.0,642.0 L585.0,642.9 L586.0,641.0 L587.0,641.1 L588.0,642.2 L589.0,638.7 L590.0,638.6 L590.9,640.1 L591.9,639.0 L592.9,639.9 L593.9,638.9 L594.8,640.9 L595.8,640.2 L596.8,638.9 L597.7,639.1 L598.7,640.3 L599.7,639.4 L600.6,640.5 L601.6,640.7 L602.6,642.2 L603.6,640.3 L604.5,641.6 L605.5,642.0 L606.5,639.9 L607.4,639.8 L608.4,641.7 L609.4,641.3 L610.4,643.1 L611.3,642.0 L612.3,642.0 L613.3,641.6 L614.2,644.1 L615.2,641.7 L616.2,643.4 L617.1,641.6 L618.1,644.9 L619.1,641.9 L620.1,642.9 L621.0,642.1 L622.0,641.5 L624.0,637.4 L625.0,640.0 L626.0,639.4 L627.0,640.6 L628.0,639.6 L629.0,647.6 L630.0,640.7 L631.0,642.5 L632.0,642.3 L633.0,643.7 L634.0,635.8 L635.0,637.7 L635.9,636.7 L636.9,636.2 L637.8,635.1 L638.8,636.8 L639.8,635.3 L640.7,637.7 L641.7,636.0 L642.6,637.4 L643.6,636.7 L644.6,635.6 L645.5,637.7 L646.5,635.7 L647.4,638.0 L648.4,636.1 L649.4,637.1 L650.3,636.3 L651.3,636.6 L652.2,636.9 L653.2,637.8 L654.1,637.6 L655.1,637.4 L656.1,638.6 L657.0,639.1 L658.0,636.5 L658.9,638.1 L659.9,636.9 L660.9,637.9 L661.8,639.1 L662.8,638.7 L663.7,637.6 L664.7,637.4 L665.7,638.2 L666.6,639.0 L667.6,637.4 L668.5,639.4 L669.5,638.5 L670.5,640.0 L671.4,638.5 L672.4,639.8 L673.3,638.1 L674.3,639.8 L675.3,637.5 L676.2,638.6 L677.2,638.5 L678.1,640.7 L679.1,638.5 L680.1,638.0 L681.0,638.5 L682.0,640.1 L682.9,637.8 L683.9,638.2 L684.9,640.1 L685.8,639.7 L686.8,640.8 L687.7,639.8 L688.7,640.2 L689.6,640.5 L690.6,639.4 L691.6,640.5 L692.5,641.9 L693.5,639.3 L694.4,634.9 L695.4,639.3 L696.4,641.6 L697.3,640.4 L698.3,640.4 L699.2,640.8 L700.2,640.1 L701.2,641.1 L702.1,640.9 L703.1,641.5 L704.0,639.9 L705.0,642.3 L706.0,616.5 L707.0,616.2 L707.9,617.1 L708.9,615.7 L709.8,618.0 L710.8,617.4 L711.8,617.7 L712.7,617.2 L713.7,618.4 L714.7,617.1 L715.6,617.7 L716.6,618.3 L717.5,618.3 L718.5,618.6 L719.5,617.5 L720.4,618.6 L721.4,619.1 L722.3,619.8 L723.3,617.7 L724.3,616.7 L725.2,618.2 L726.2,618.7 L727.2,617.9 L728.1,618.8 L729.1,618.1 L730.0,620.4 L731.0,620.4 L732.0,620.0 L732.9,618.7 L733.9,619.8 L734.8,617.5 L735.8,621.2 L736.8,619.2 L737.7,620.1 L738.7,618.0 L739.7,619.3 L740.6,620.6 L741.6,619.0 L742.5,621.9 L743.5,619.5 L744.5,621.0 L745.4,620.2 L746.4,622.2 L747.3,621.1 L748.3,622.5 L749.3,620.7 L750.2,622.6 L751.2,622.0 L752.2,622.7 L753.1,621.4 L754.1,621.8 L755.0,623.6 L756.0,622.6 L757.0,623.0 L757.9,622.4 L758.9,624.9 L759.8,624.1 L760.8,624.4 L761.8,619.8 L762.7,625.5 L763.7,628.7 L764.7,628.0 L765.6,630.2 L766.6,631.7 L767.5,635.7 L768.5,635.4 L769.2,639.2 L770.2,636.8 L771.1,637.7 L772.1,636.8 L773.0,637.2 L774.0,638.5 L775.0,637.7 L775.9,637.3 L776.9,638.8 L777.9,636.8 L778.8,636.0 L779.8,636.4 L780.7,637.9 L781.7,637.1 L782.7,636.5 L783.6,637.8 L784.6,636.0 L785.5,637.1 L786.5,635.4 L787.2,641.5 L788.2,641.5 L789.2,642.9 L790.2,641.3 L791.2,640.7 L792.2,637.5 L793.1,642.1 L794.1,636.7 L795.1,641.9 L796.1,640.2 L797.1,641.4 L798.1,640.0 L799.1,640.7 L800.1,641.1 L801.1,642.0 L802.1,639.4 L803.0,642.4 L804.0,641.0 L805.0,641.6 L806.0,640.0 L807.0,641.3 L808.0,641.0" fill="none" stroke="#2a3f95" stroke-width="1.15" stroke-opacity="1" marker-mid="url(#mb)"/>
<path d="M116.0,629.7 L117.0,629.9 L118.0,632.6 L119.0,638.5 L120.0,634.2 L121.0,632.9 L122.0,634.0 L123.0,636.9 L124.0,636.3 L125.0,633.3 L126.0,639.8 L127.5,628.8 L128.5,626.8 L129.4,631.2 L130.4,635.4 L131.4,628.7 L132.4,626.0 L133.3,630.4 L134.3,630.0 L135.3,627.6 L136.3,631.4 L137.2,633.8 L138.2,629.2 L139.2,629.4 L140.1,631.4 L141.1,632.4 L142.1,628.5 L143.1,630.9 L144.0,628.4 L145.0,630.1 L146.0,629.4 L147.0,627.4 L147.9,628.9 L148.9,630.7 L149.9,631.7 L150.9,630.0 L151.8,629.2 L152.8,631.4 L153.8,632.9 L154.7,631.6 L155.7,633.0 L156.7,629.4 L157.7,632.4 L158.6,630.1 L159.6,628.5 L160.6,630.3 L161.6,629.7 L162.5,633.6 L163.5,629.9 L165.5,623.7 L166.5,619.5 L167.4,622.6 L168.4,620.5 L169.3,622.2 L170.3,619.4 L171.2,626.0 L172.2,622.3 L173.1,623.4 L174.1,621.1 L175.0,624.4 L176.0,622.2 L176.9,620.6 L177.9,622.4 L178.8,620.8 L179.8,622.3 L180.7,622.1 L181.7,625.3 L182.6,620.8 L183.6,623.6 L184.5,622.8 L185.5,623.4 L186.4,623.2 L187.4,626.6 L188.3,620.4 L189.3,622.7 L190.3,622.7 L191.2,621.7 L192.2,622.6 L193.1,622.9 L194.1,623.8 L195.0,622.0 L196.0,623.0 L196.9,622.2 L197.9,626.3 L198.8,622.3 L199.8,622.7 L200.7,625.5 L201.7,622.8 L202.6,624.4 L203.6,620.5 L204.5,621.0 L205.5,623.9 L206.4,621.9 L207.4,623.2 L208.3,624.1 L209.3,623.9 L210.2,623.3 L211.2,624.4 L212.2,623.3 L213.1,623.3 L214.1,623.9 L215.0,621.4 L216.0,623.4 L216.9,622.7 L217.9,626.0 L218.8,624.9 L219.8,623.4 L220.7,625.8 L221.7,623.6 L222.6,623.9 L223.6,625.4 L224.5,623.6 L225.5,624.9 L226.4,626.0 L227.4,624.0 L228.3,624.7 L229.3,623.6 L230.2,625.7 L231.2,622.1 L232.1,624.9 L233.1,623.6 L234.1,626.5 L235.0,623.4 L236.0,623.1 L236.9,626.7 L237.9,627.1 L238.8,622.8 L239.8,626.4 L240.7,623.2 L241.7,627.2 L242.6,624.4 L243.6,624.5 L244.5,622.5 L245.5,623.7 L246.4,625.4 L247.4,623.3 L248.3,625.8 L249.3,623.1 L250.2,627.1 L251.2,625.2 L252.1,624.8 L253.1,624.1 L254.0,626.2 L255.0,626.4 L255.9,624.1 L256.9,628.0 L257.9,623.8 L258.8,626.6 L259.8,626.4 L260.7,626.1 L261.7,624.1 L262.6,628.9 L263.6,630.6 L264.5,624.7 L265.5,626.4 L266.4,624.5 L267.4,626.8 L268.3,627.7 L269.3,626.0 L270.2,623.3 L271.2,623.9 L272.1,624.6 L273.1,627.3 L274.0,626.0 L275.0,628.4 L275.9,624.1 L276.9,628.5 L277.8,625.0 L278.8,626.5 L279.8,626.3 L280.7,626.6 L281.7,626.4 L282.6,621.5 L283.6,624.3 L284.5,626.8 L285.5,627.5 L286.4,623.3 L287.4,627.4 L288.3,627.4 L289.3,624.2 L290.2,628.0 L291.2,626.1 L292.1,628.1 L293.1,626.6 L294.0,628.7 L295.0,626.9 L295.9,626.1 L296.9,629.6 L297.8,626.4 L298.8,627.5 L299.7,627.2 L300.7,628.3 L301.6,625.1 L302.6,626.3 L303.6,625.8 L304.5,622.7 L305.5,626.1 L306.4,630.5 L307.4,625.8 L308.3,629.0 L309.3,628.0 L310.2,629.6 L311.2,620.2 L312.1,628.8 L313.1,631.8 L314.0,627.5 L315.0,628.4 L315.9,626.0 L316.9,629.7 L317.8,628.1 L318.8,625.4 L319.7,629.6 L320.7,625.5 L321.6,628.3 L322.6,627.8 L323.5,630.1 L324.5,627.1 L325.4,629.1 L326.4,621.3 L327.4,630.2 L328.3,626.2 L329.3,629.7 L330.2,628.2 L331.2,628.2 L332.1,628.6 L333.1,635.3 L334.0,628.5 L335.0,630.6 L335.9,630.6 L336.9,627.8 L337.8,627.7 L338.8,630.5 L339.7,629.6 L340.7,631.5 L341.6,629.0 L342.6,630.0 L343.5,632.2 L344.5,628.4 L345.4,632.1 L346.4,628.3 L347.3,630.3 L348.3,625.6 L349.3,629.5 L350.2,627.2 L351.2,631.2 L352.1,631.1 L353.1,628.4 L354.0,630.6 L355.0,632.4 L355.9,629.8 L356.9,633.2 L357.8,632.6 L358.8,629.8 L359.7,633.6 L360.7,631.7 L361.6,632.9 L362.6,631.0 L363.5,633.0 L364.5,630.9 L365.4,631.9 L366.4,631.6 L367.3,633.8 L368.3,629.7 L369.2,630.7 L370.2,634.5 L371.1,630.7 L372.1,633.0 L373.1,633.9 L374.0,632.0 L375.0,631.9 L375.9,633.0 L376.9,632.6 L377.8,635.6 L378.8,632.2 L379.7,636.0 L380.7,631.2 L381.6,634.5 L382.6,637.2 L383.5,633.4 L384.5,635.7 L385.4,633.3 L386.4,634.3 L387.3,635.9 L388.3,632.7 L389.2,633.1 L390.2,638.6 L391.1,635.1 L392.1,633.7 L393.0,633.9 L394.0,637.9 L397.0,626.0 L397.9,629.6 L398.9,627.0 L399.9,625.4 L400.8,624.7 L401.8,628.1 L402.7,629.2 L403.6,629.1 L404.6,626.7 L405.6,626.1 L406.5,628.2 L407.4,631.1 L408.4,627.2 L409.4,628.6 L410.3,627.7 L411.2,631.3 L412.2,623.9 L413.1,634.9 L414.1,626.4 L415.1,629.8 L416.0,631.4 L416.9,628.4 L417.9,626.9 L418.9,629.8 L419.8,628.2 L420.8,628.1 L421.7,629.0 L422.6,626.6 L423.6,629.6 L424.6,627.0 L425.5,631.2 L426.4,631.9 L427.4,627.3 L428.4,631.9 L429.3,628.2 L430.2,630.8 L431.2,633.4 L432.1,628.8 L433.1,631.4 L434.1,628.7 L435.0,631.3 L435.9,629.6 L436.9,629.1 L437.9,630.8 L438.8,631.6 L439.8,628.7 L440.7,632.6 L441.6,631.8 L442.6,627.9 L443.6,630.7 L444.5,631.1 L445.4,632.0 L446.4,630.8 L447.4,633.9 L448.3,632.8 L449.2,630.8 L450.2,633.4 L451.1,629.4 L452.1,630.2 L453.1,632.0 L454.0,628.7 L454.9,629.2 L455.9,631.9 L456.9,633.4 L457.8,631.5 L458.8,630.7 L459.7,631.1 L460.6,632.0 L461.6,631.6 L462.6,633.4 L463.5,632.9 L464.4,633.5 L465.4,626.0 L466.4,634.0 L467.3,633.9 L468.2,635.6 L469.2,634.1 L470.1,633.8 L471.1,631.4 L472.1,633.2 L473.0,634.0 L474.5,624.9 L475.5,625.0 L476.4,620.4 L477.4,624.0 L478.3,623.7 L479.3,625.1 L480.2,622.2 L481.2,625.2 L482.1,623.9 L483.1,620.6 L484.0,626.5 L485.0,624.0 L485.9,621.9 L486.9,624.1 L487.9,623.3 L488.8,625.7 L489.8,626.8 L490.7,624.7 L491.7,628.1 L492.6,626.1 L493.6,625.8 L494.5,627.9 L495.5,628.2 L496.4,624.7 L497.4,627.9 L498.3,628.3 L499.3,628.4 L500.2,627.7 L501.2,627.4 L502.2,628.5 L503.1,630.9 L504.1,628.7 L505.0,630.1 L506.0,629.8 L506.9,627.5 L507.9,628.8 L508.8,629.2 L509.8,629.6 L510.7,630.7 L511.7,631.2 L512.6,632.3 L513.6,631.4 L514.6,633.3 L515.5,631.8 L516.5,632.8 L517.4,629.1 L518.4,632.8 L519.3,630.3 L520.3,632.8 L521.2,635.2 L522.2,631.3 L523.1,635.2 L524.1,633.9 L525.0,637.1 L526.0,637.2 L527.0,623.3 L528.0,626.0 L529.0,624.3 L530.0,625.4 L531.0,626.5 L532.0,627.3 L533.0,628.1 L534.0,626.2 L535.0,628.4 L536.0,630.6 L537.0,627.4 L538.0,631.3 L539.0,631.6 L540.0,631.6 L541.0,631.3 L542.0,633.8 L543.0,629.8 L544.0,632.2 L545.0,636.7 L546.0,635.4 L547.0,637.8 L548.0,635.7 L549.0,637.4 L550.0,634.6 L551.0,639.7 L552.0,639.0 L553.0,635.5 L554.0,638.8 L555.0,637.1 L556.0,638.9 L557.0,637.3 L558.0,639.7 L559.0,638.8 L560.0,636.1 L561.0,634.7 L562.0,624.7 L563.0,629.4 L564.0,626.3 L565.0,630.7 L566.0,631.0 L567.0,623.0 L568.0,630.5 L569.0,629.6 L570.0,631.7 L571.0,631.1 L572.0,633.8 L573.0,632.4 L574.0,633.4 L575.0,629.7 L576.0,625.1 L577.0,630.7 L578.0,633.3 L579.0,633.7 L580.0,633.5 L581.0,630.0 L582.0,631.4 L583.0,627.4 L584.0,629.1 L585.0,626.3 L586.0,628.6 L587.0,623.9 L588.0,627.6 L589.0,625.7 L590.0,623.3 L590.9,627.1 L591.9,627.8 L592.9,626.5 L593.9,624.4 L594.8,627.7 L595.8,625.0 L596.8,627.4 L597.7,627.3 L598.7,628.5 L599.7,630.3 L600.6,625.9 L601.6,628.0 L602.6,627.2 L603.6,629.4 L604.5,628.9 L605.5,629.2 L606.5,627.6 L607.4,631.4 L608.4,627.5 L609.4,628.1 L610.4,628.7 L611.3,627.6 L612.3,629.5 L613.3,638.1 L614.2,631.7 L615.2,629.1 L616.2,630.9 L617.1,633.4 L618.1,633.6 L619.1,630.0 L620.1,631.1 L621.0,631.8 L622.0,632.8 L624.0,622.2 L625.0,624.4 L626.0,626.9 L627.0,624.4 L628.0,628.5 L629.0,627.5 L630.0,628.8 L631.0,629.7 L632.0,629.5 L633.0,632.9 L634.0,613.3 L635.0,612.5 L635.9,612.5 L636.9,614.6 L637.8,607.6 L638.8,612.8 L639.8,613.1 L640.7,613.0 L641.7,612.5 L642.6,612.3 L643.6,611.8 L644.6,613.6 L645.5,610.9 L646.5,613.4 L647.4,612.4 L648.4,613.5 L649.4,610.7 L650.3,612.6 L651.3,614.2 L652.2,610.2 L653.2,614.0 L654.1,611.4 L655.1,613.4 L656.1,611.6 L657.0,611.6 L658.0,614.4 L658.9,613.1 L659.9,614.1 L660.9,613.1 L661.8,614.7 L662.8,612.7 L663.7,611.5 L664.7,611.1 L665.7,614.4 L666.6,614.3 L667.6,612.2 L668.5,613.7 L669.5,614.5 L670.5,614.8 L671.4,613.8 L672.4,612.8 L673.3,614.5 L674.3,612.1 L675.3,608.8 L676.2,614.9 L677.2,612.5 L678.1,614.9 L679.1,612.9 L680.1,615.1 L681.0,615.0 L682.0,614.4 L682.9,614.3 L683.9,611.5 L684.9,613.8 L685.8,616.1 L686.8,613.0 L687.7,616.3 L688.7,612.9 L689.6,615.7 L690.6,613.0 L691.6,613.7 L692.5,612.6 L693.5,613.5 L694.4,615.3 L695.4,614.2 L696.4,615.7 L697.3,613.2 L698.3,615.7 L699.2,611.6 L700.2,615.6 L701.2,613.8 L702.1,616.0 L703.1,616.4 L704.0,612.5 L705.0,616.7 L706.0,593.3 L707.0,594.3 L707.9,592.7 L708.9,590.7 L709.8,596.1 L710.8,593.9 L711.7,596.3 L712.7,593.5 L713.6,595.6 L714.6,594.1 L715.5,598.4 L716.5,593.9 L717.4,599.0 L718.4,595.5 L719.4,597.3 L720.3,595.6 L721.3,599.4 L722.2,596.7 L723.2,595.5 L724.1,597.9 L725.1,599.4 L726.0,599.2 L727.0,601.6 L727.9,596.1 L728.9,596.9 L729.8,605.1 L730.8,602.6 L731.8,597.7 L732.7,598.3 L733.7,600.0 L734.6,602.0 L735.6,597.5 L736.5,598.8 L737.5,601.3 L738.4,601.3 L739.4,598.6 L740.3,602.1 L741.3,599.2 L742.2,597.1 L743.2,602.9 L744.2,600.1 L745.1,602.0 L746.1,600.5 L747.0,604.0 L748.0,600.5 L748.9,599.7 L749.9,603.4 L750.8,601.9 L751.8,604.3 L752.7,602.6 L753.7,606.2 L754.6,603.4 L755.6,602.7 L756.6,605.6 L757.5,602.4 L758.5,605.0 L759.4,606.2 L760.4,603.9 L761.3,604.7 L762.3,608.9 L763.2,603.8 L764.2,605.9 L765.1,604.4 L766.1,606.4 L767.0,604.9 L768.0,608.3 L769.2,608.9 L770.2,608.7 L771.1,607.0 L772.1,612.1 L773.0,614.0 L774.0,610.9 L775.0,611.0 L775.9,610.1 L776.9,610.3 L777.9,608.5 L778.8,611.9 L779.8,611.2 L780.7,611.0 L781.7,606.6 L782.7,613.7 L783.6,613.5 L784.6,613.1 L785.5,613.1 L786.5,605.8 L787.2,611.0 L788.2,611.6 L789.2,620.1 L790.2,612.9 L791.2,616.1 L792.2,614.9 L793.1,614.3 L794.1,616.7 L795.1,618.1 L796.1,616.1 L797.1,619.6 L798.1,618.8 L799.1,620.7 L800.1,620.6 L801.1,621.1 L802.1,622.6 L803.0,621.5 L804.0,623.5 L805.0,623.8 L806.0,616.6 L807.0,621.9 L808.0,626.6" fill="none" stroke="#e0652a" stroke-width="1.15" stroke-opacity="1" marker-mid="url(#mo)"/>
<path d="M116.0,626.6 L117.0,628.3 L117.9,629.8 L118.8,626.3 L119.8,627.3 L120.8,625.5 L121.7,629.1 L122.7,626.3 L123.6,623.4 L124.5,625.9 L125.5,628.8 L126.5,628.8 L127.4,629.4 L128.3,626.4 L129.3,631.3 L130.2,625.5 L131.2,628.6 L132.2,625.4 L133.1,624.2 L134.1,627.3 L135.0,616.2 L135.9,628.8 L136.9,625.8 L137.8,627.9 L138.8,625.9 L139.8,628.0 L140.7,626.9 L141.7,627.7 L142.6,626.4 L143.6,628.0 L144.5,629.3 L145.4,624.5 L146.4,625.9 L147.3,628.0 L148.3,624.5 L149.2,628.6 L150.2,630.6 L151.2,627.4 L152.1,628.4 L153.1,625.8 L154.0,627.8 L154.9,629.0 L155.9,625.4 L156.8,627.8 L157.8,628.5 L158.8,626.7 L159.7,620.0 L160.7,627.9 L161.6,626.4 L162.6,628.6 L163.5,629.1 L165.5,614.5 L166.5,615.0 L167.4,614.0 L168.4,614.6 L169.3,614.7 L170.3,613.5 L171.2,616.4 L172.2,605.9 L173.1,615.0 L174.1,612.3 L175.0,617.1 L176.0,613.7 L176.9,612.5 L177.9,617.3 L178.8,616.8 L179.8,615.8 L180.7,617.0 L181.7,616.9 L182.6,617.9 L183.6,613.1 L184.5,617.0 L185.5,611.6 L186.4,618.0 L187.4,612.8 L188.3,612.3 L189.3,614.4 L190.3,617.8 L191.2,614.0 L192.2,613.3 L193.1,618.2 L194.1,615.0 L195.0,612.0 L196.0,614.0 L196.9,617.8 L197.9,615.4 L198.8,616.5 L199.8,614.9 L200.7,616.7 L201.7,615.5 L202.6,614.9 L203.6,616.1 L204.5,614.8 L205.5,616.0 L206.4,614.7 L207.4,617.5 L208.3,614.4 L209.3,616.3 L210.2,612.9 L211.2,612.1 L212.2,616.4 L213.1,614.9 L214.1,614.8 L215.0,615.6 L216.0,614.9 L216.9,614.1 L217.9,614.4 L218.8,619.5 L219.8,617.8 L220.7,615.1 L221.7,617.8 L222.6,617.1 L223.6,613.7 L224.5,619.1 L225.5,613.3 L226.4,616.9 L227.4,614.9 L228.3,615.8 L229.3,617.4 L230.2,614.3 L231.2,614.0 L232.1,616.4 L233.1,616.3 L234.1,617.2 L235.0,617.6 L236.0,618.7 L236.9,615.5 L237.9,620.2 L238.8,615.2 L239.8,617.1 L240.7,614.9 L241.7,619.1 L242.6,617.6 L243.6,620.1 L244.5,618.2 L245.5,616.6 L246.4,618.3 L247.4,614.6 L248.3,620.0 L249.3,615.3 L250.2,619.6 L251.2,615.4 L252.1,619.6 L253.1,613.2 L254.0,618.1 L255.0,619.0 L255.9,618.6 L256.9,620.9 L257.9,616.3 L258.8,621.1 L259.8,620.1 L260.7,617.1 L261.7,619.8 L262.6,617.5 L263.6,611.2 L264.5,619.4 L265.5,616.0 L266.4,620.1 L267.4,620.9 L268.3,616.9 L269.3,619.0 L270.2,617.6 L271.2,623.1 L272.1,617.0 L273.1,618.9 L274.0,619.7 L275.0,619.0 L275.9,619.7 L276.9,617.0 L277.8,617.0 L278.8,621.7 L279.8,616.6 L280.7,619.4 L281.7,617.3 L282.6,617.8 L283.6,617.7 L284.5,617.7 L285.5,617.1 L286.4,619.0 L287.4,620.0 L288.3,616.9 L289.3,619.0 L290.2,620.0 L291.2,617.2 L292.1,620.0 L293.1,617.8 L294.0,621.0 L295.0,620.1 L295.9,621.6 L296.9,618.1 L297.8,621.7 L298.8,619.0 L299.7,621.8 L300.7,619.2 L301.6,621.3 L302.6,618.4 L303.6,618.4 L304.5,619.7 L305.5,621.7 L306.4,619.9 L307.4,621.1 L308.3,620.6 L309.3,620.2 L310.2,618.3 L311.2,623.6 L312.1,618.9 L313.1,620.9 L314.0,620.2 L315.0,617.7 L315.9,622.3 L316.9,619.1 L317.8,619.5 L318.8,615.0 L319.7,619.7 L320.7,623.1 L321.6,621.0 L322.6,623.4 L323.5,622.2 L324.5,625.0 L325.4,622.4 L326.4,618.7 L327.4,622.6 L328.3,624.5 L329.3,620.1 L330.2,620.0 L331.2,623.2 L332.1,623.0 L333.1,622.7 L334.0,617.5 L335.0,625.5 L335.9,625.8 L336.9,623.1 L337.8,625.3 L338.8,621.3 L339.7,628.1 L340.7,622.8 L341.6,625.8 L342.6,621.9 L343.5,622.9 L344.5,621.0 L345.4,624.4 L346.4,623.2 L347.3,624.1 L348.3,624.5 L349.3,626.1 L350.2,622.4 L351.2,625.5 L352.1,624.4 L353.1,624.3 L354.0,626.5 L355.0,625.0 L355.9,627.5 L356.9,623.8 L357.8,628.2 L358.8,623.9 L359.7,628.7 L360.7,626.4 L361.6,626.3 L362.6,624.7 L363.5,628.3 L364.5,624.2 L365.4,626.8 L366.4,625.7 L367.3,628.4 L368.3,628.2 L369.2,627.3 L370.2,627.4 L371.1,625.5 L372.1,630.1 L373.1,627.4 L374.0,630.6 L375.0,634.2 L375.9,632.8 L376.9,628.3 L377.8,627.9 L378.8,627.5 L379.7,627.9 L380.7,629.1 L381.6,630.6 L382.6,628.0 L383.5,631.8 L384.5,631.2 L385.4,635.2 L386.4,629.7 L387.3,633.5 L388.3,631.4 L389.2,634.7 L390.2,630.6 L391.1,632.2 L392.1,630.5 L393.0,633.0 L394.0,631.5 L397.0,618.5 L397.9,619.2 L398.9,617.9 L399.9,614.5 L400.8,616.3 L401.8,618.7 L402.7,618.1 L403.6,618.9 L404.6,619.7 L405.6,615.6 L406.5,620.9 L407.4,617.4 L408.4,618.6 L409.4,619.8 L410.3,619.1 L411.2,620.0 L412.2,621.7 L413.1,617.8 L414.1,622.3 L415.1,620.5 L416.0,623.3 L416.9,619.5 L417.9,622.1 L418.9,622.2 L419.8,620.7 L420.8,622.1 L421.7,623.3 L422.6,621.5 L423.6,623.2 L424.6,621.7 L425.5,622.9 L426.4,624.9 L427.4,622.6 L428.4,626.5 L429.3,622.8 L430.2,623.1 L431.2,624.4 L432.1,630.9 L433.1,626.7 L434.1,627.3 L435.0,622.1 L435.9,624.9 L436.9,624.8 L437.9,625.6 L438.8,629.5 L439.8,621.5 L440.7,627.7 L441.6,623.9 L442.6,626.3 L443.6,624.4 L444.5,627.9 L445.4,624.9 L446.4,628.8 L447.4,625.8 L448.3,629.7 L449.2,626.5 L450.2,631.5 L451.1,628.3 L452.1,627.6 L453.1,625.6 L454.0,629.4 L454.9,627.5 L455.9,633.4 L456.9,627.9 L457.8,630.2 L458.8,629.5 L459.7,626.9 L460.6,630.9 L461.6,626.1 L462.6,631.9 L463.5,627.2 L464.4,631.1 L465.4,630.9 L466.4,630.3 L467.3,630.3 L468.2,630.0 L469.2,628.5 L470.1,630.6 L471.1,633.1 L472.1,631.0 L473.0,628.8 L474.5,619.9 L475.5,621.2 L476.4,621.3 L477.4,619.8 L478.3,622.8 L479.3,620.9 L480.2,623.5 L481.2,620.8 L482.1,622.2 L483.1,619.1 L484.0,622.9 L485.0,621.5 L485.9,623.6 L486.9,621.3 L487.9,624.5 L488.8,623.1 L489.8,621.7 L490.7,625.8 L491.7,623.2 L492.6,622.9 L493.6,624.4 L494.5,621.7 L495.5,626.5 L496.4,622.1 L497.4,633.2 L498.3,625.3 L499.3,625.4 L500.2,626.4 L501.2,623.5 L502.2,628.6 L503.1,624.3 L504.1,626.6 L505.0,623.6 L506.0,632.4 L506.9,626.4 L507.9,627.7 L508.8,627.0 L509.8,634.8 L510.7,624.2 L511.7,627.9 L512.6,624.8 L513.6,629.2 L514.6,626.6 L515.5,630.1 L516.5,625.1 L517.4,630.2 L518.4,626.3 L519.3,629.2 L520.3,627.7 L521.2,632.0 L522.2,627.5 L523.1,625.4 L524.1,629.4 L525.0,629.2 L526.0,630.0 L527.0,619.5 L528.0,617.6 L529.0,622.9 L530.0,619.1 L531.0,624.1 L532.0,619.8 L533.0,624.0 L534.0,625.3 L535.0,621.7 L536.0,626.8 L537.0,627.1 L538.0,625.9 L539.0,627.9 L540.0,626.8 L541.0,626.6 L542.0,629.9 L543.0,627.7 L544.0,634.1 L545.0,629.4 L546.0,632.8 L547.0,630.1 L548.0,631.4 L549.0,630.9 L550.0,630.4 L551.0,632.8 L552.0,632.8 L553.0,631.5 L554.0,625.4 L555.0,633.3 L556.0,628.9 L557.0,632.6 L558.0,626.2 L559.0,632.6 L560.0,633.6 L561.0,622.2 L562.0,620.8 L563.0,622.8 L564.0,622.2 L565.0,623.1 L566.0,626.2 L567.0,621.9 L568.0,626.0 L569.0,622.1 L570.0,625.4 L571.0,624.4 L572.0,624.8 L573.0,629.4 L574.0,628.3 L575.0,624.4 L576.0,625.4 L577.0,627.1 L578.0,626.0 L579.0,623.6 L580.0,625.9 L581.0,620.1 L582.0,621.4 L583.0,616.5 L584.0,621.0 L585.0,621.2 L586.0,619.9 L587.0,621.1 L588.0,619.6 L589.0,621.5 L590.0,623.3 L590.9,619.7 L591.9,623.8 L592.9,623.2 L593.9,624.5 L594.8,622.7 L595.8,622.3 L596.8,622.5 L597.7,625.6 L598.7,620.3 L599.7,626.0 L600.6,626.8 L601.6,629.3 L602.6,624.0 L603.6,626.5 L604.5,624.6 L605.5,627.3 L606.5,624.9 L607.4,618.0 L608.4,626.1 L609.4,625.7 L610.4,624.2 L611.3,623.9 L612.3,627.6 L613.3,619.9 L614.2,628.0 L615.2,627.3 L616.2,628.6 L617.1,625.4 L618.1,629.5 L619.1,626.0 L620.1,625.4 L621.0,629.4 L622.0,625.3 L624.0,627.3 L625.0,629.0 L626.0,631.2 L627.0,630.7 L628.0,628.7 L629.0,630.4 L630.0,626.8 L631.0,633.9 L632.0,633.5 L633.0,634.5 L634.0,613.2 L635.0,614.5 L635.9,612.2 L636.9,612.0 L637.8,612.1 L638.8,614.9 L639.8,611.7 L640.7,615.7 L641.7,612.0 L642.6,613.5 L643.6,613.4 L644.6,611.3 L645.5,615.1 L646.5,611.0 L647.4,613.7 L648.4,616.4 L649.4,612.0 L650.3,614.7 L651.3,612.9 L652.2,613.6 L653.2,610.9 L654.1,615.9 L655.1,613.9 L656.1,616.7 L657.0,615.8 L658.0,614.1 L658.9,615.8 L659.9,614.2 L660.9,617.4 L661.8,613.0 L662.8,614.4 L663.7,616.6 L664.7,616.5 L665.7,616.7 L666.6,622.1 L667.6,615.9 L668.5,615.6 L669.5,615.5 L670.5,614.5 L671.4,618.0 L672.4,614.8 L673.3,616.4 L674.3,614.8 L675.3,616.5 L676.2,616.1 L677.2,616.0 L678.1,616.3 L679.1,618.3 L680.1,615.7 L681.0,619.5 L682.0,618.0 L682.9,617.0 L683.9,617.4 L684.9,617.1 L685.8,616.8 L686.8,617.4 L687.7,618.8 L688.7,617.4 L689.6,620.2 L690.6,617.5 L691.6,618.7 L692.5,619.5 L693.5,618.3 L694.4,619.4 L695.4,620.5 L696.4,618.3 L697.3,619.1 L698.3,617.6 L699.2,618.0 L700.2,621.0 L701.2,619.5 L702.1,621.7 L703.1,620.4 L704.0,618.7 L705.0,621.4 L706.0,601.0 L707.0,602.7 L707.9,601.2 L708.9,602.8 L709.8,605.0 L710.8,601.5 L711.7,604.8 L712.7,602.5 L713.6,603.2 L714.6,603.2 L715.5,603.1 L716.5,603.0 L717.4,605.6 L718.4,604.5 L719.3,602.7 L720.3,604.6 L721.2,603.0 L722.2,606.0 L723.2,602.4 L724.1,606.0 L725.1,602.3 L726.0,605.3 L727.0,602.4 L727.9,603.3 L728.9,606.6 L729.8,603.5 L730.8,606.1 L731.7,600.7 L732.7,604.7 L733.6,607.5 L734.6,605.0 L735.5,607.4 L736.5,598.8 L737.5,607.9 L738.4,608.0 L739.4,605.9 L740.3,607.7 L741.3,606.2 L742.2,609.4 L743.2,607.0 L744.1,607.6 L745.1,609.1 L746.0,606.8 L747.0,611.3 L747.9,610.5 L748.9,607.0 L749.8,610.7 L750.8,609.9 L751.8,612.5 L752.7,612.0 L753.7,614.2 L754.6,613.1 L755.6,613.6 L756.5,610.6 L757.5,611.8 L758.4,611.8 L759.4,613.8 L760.3,611.7 L761.3,613.2 L762.2,609.3 L763.2,613.8 L764.1,615.9 L765.1,612.6 L766.0,615.8 L767.0,614.7 L769.2,609.5 L770.2,611.4 L771.1,603.2 L772.1,613.0 L773.0,607.5 L774.0,613.1 L775.0,611.4 L775.9,613.8 L776.9,611.0 L777.9,615.8 L778.8,614.0 L779.8,614.9 L780.7,613.7 L781.7,612.0 L782.7,615.2 L783.6,617.5 L784.6,615.7 L785.5,617.7 L786.5,616.5 L787.2,619.3 L788.2,618.8 L789.2,621.4 L790.2,620.2 L791.2,624.9 L792.2,622.0 L793.1,619.2 L794.1,623.6 L795.1,623.8 L796.1,623.7 L797.1,625.7 L798.1,622.8 L799.1,626.0 L800.1,623.6 L801.1,627.0 L802.1,624.1 L803.0,623.6 L804.0,626.6 L805.0,625.6 L806.0,635.2 L807.0,628.9 L808.0,625.6" fill="none" stroke="#5a5a5a" stroke-width="1.15" stroke-opacity="1" marker-mid="url(#md)"/>
<path d="M116.0,622.1 L117.0,627.6 L118.0,622.9 L119.0,622.0 L120.0,623.1 L121.0,625.8 L122.0,623.8 L123.0,630.4 L124.0,623.1 L125.0,627.6 L126.0,616.1 L127.5,620.1 L128.5,616.6 L129.4,622.9 L130.4,615.7 L131.4,621.2 L132.4,618.9 L133.3,617.4 L134.3,621.9 L135.3,616.9 L136.3,617.9 L137.2,621.4 L138.2,618.5 L139.2,622.8 L140.1,617.9 L141.1,620.1 L142.1,619.2 L143.1,619.1 L144.0,621.2 L145.0,617.7 L146.0,623.2 L147.0,620.4 L147.9,622.3 L148.9,620.2 L149.9,622.1 L150.9,620.2 L151.8,623.1 L152.8,622.0 L153.8,621.6 L154.7,619.3 L155.7,625.4 L156.7,623.7 L157.7,621.0 L158.6,624.1 L159.6,621.3 L160.6,626.1 L161.6,623.1 L162.5,622.6 L163.5,625.0 L164.0,632.8 L164.0,630.7 L165.5,609.4 L166.5,617.5 L167.4,605.4 L168.4,608.5 L169.3,603.3 L170.3,608.3 L171.2,605.4 L172.2,609.0 L173.1,605.1 L174.1,607.3 L175.0,605.3 L176.0,610.1 L176.9,607.7 L177.9,607.6 L178.8,608.9 L179.8,605.8 L180.7,610.5 L181.7,604.2 L182.6,609.5 L183.6,610.4 L184.5,604.5 L185.5,609.9 L186.4,605.9 L187.4,608.9 L188.3,609.1 L189.3,606.8 L190.3,607.6 L191.2,609.0 L192.2,608.2 L193.1,606.7 L194.1,610.0 L195.0,610.1 L196.0,611.0 L196.9,609.5 L197.9,607.4 L198.8,611.4 L199.8,606.6 L200.7,610.5 L201.7,605.8 L202.6,610.7 L203.6,607.8 L204.5,610.6 L205.5,612.3 L206.4,608.9 L207.4,609.7 L208.3,607.6 L209.3,610.0 L210.2,609.0 L211.2,610.0 L212.2,608.8 L213.1,611.7 L214.1,601.3 L215.0,612.2 L216.0,607.1 L216.9,611.3 L217.9,607.7 L218.8,609.1 L219.8,608.6 L220.7,608.3 L221.7,611.0 L222.6,608.9 L223.6,611.6 L224.5,610.0 L225.5,609.1 L226.4,611.4 L227.4,607.8 L228.3,610.7 L229.3,607.6 L230.2,608.0 L231.2,609.7 L232.1,607.2 L233.1,610.7 L234.1,606.2 L235.0,612.6 L236.0,611.9 L236.9,609.0 L237.9,610.4 L238.8,609.0 L239.8,612.0 L240.7,608.2 L241.7,607.4 L242.6,611.3 L243.6,611.2 L244.5,607.8 L245.5,608.4 L246.4,613.5 L247.4,609.0 L248.3,609.5 L249.3,612.9 L250.2,608.3 L251.2,610.8 L252.1,606.8 L253.1,609.8 L254.0,612.7 L255.0,613.3 L255.9,609.5 L256.9,613.6 L257.9,608.9 L258.8,613.1 L259.8,611.8 L260.7,608.9 L261.7,612.3 L262.6,608.6 L263.6,607.1 L264.5,611.9 L265.5,612.4 L266.4,607.5 L267.4,612.5 L268.3,612.1 L269.3,611.9 L270.2,610.9 L271.2,612.4 L272.1,610.7 L273.1,611.1 L274.0,609.1 L275.0,612.3 L275.9,602.0 L276.9,612.9 L277.8,609.4 L278.8,614.7 L279.8,611.5 L280.7,614.0 L281.7,609.5 L282.6,603.4 L283.6,610.7 L284.5,612.7 L285.5,611.9 L286.4,612.4 L287.4,610.1 L288.3,609.8 L289.3,608.4 L290.2,613.6 L291.2,613.1 L292.1,612.9 L293.1,614.9 L294.0,610.1 L295.0,611.6 L295.9,613.6 L296.9,611.1 L297.8,614.8 L298.8,610.7 L299.7,614.3 L300.7,611.4 L301.6,610.1 L302.6,613.8 L303.6,613.8 L304.5,609.6 L305.5,611.3 L306.4,616.0 L307.4,612.3 L308.3,613.5 L309.3,611.3 L310.2,620.5 L311.2,614.0 L312.1,616.9 L313.1,613.2 L314.0,614.8 L315.0,614.8 L315.9,613.8 L316.9,613.5 L317.8,611.2 L318.8,612.0 L319.7,617.7 L320.7,613.5 L321.6,617.5 L322.6,609.5 L323.5,617.7 L324.5,616.4 L325.4,616.6 L326.4,617.4 L327.4,615.1 L328.3,616.6 L329.3,618.9 L330.2,618.6 L331.2,623.5 L332.1,616.1 L333.1,617.2 L334.0,618.0 L335.0,618.2 L335.9,617.2 L336.9,618.0 L337.8,615.7 L338.8,620.2 L339.7,616.7 L340.7,615.4 L341.6,619.7 L342.6,618.5 L343.5,621.1 L344.5,616.1 L345.4,620.8 L346.4,616.7 L347.3,620.0 L348.3,618.0 L349.3,621.2 L350.2,614.2 L351.2,619.9 L352.1,619.0 L353.1,621.1 L354.0,617.4 L355.0,620.8 L355.9,617.7 L356.9,628.5 L357.8,618.9 L358.8,620.0 L359.7,622.2 L360.7,620.2 L361.6,619.6 L362.6,622.2 L363.5,623.0 L364.5,620.7 L365.4,620.9 L366.4,614.4 L367.3,622.8 L368.3,621.0 L369.2,622.3 L370.2,626.8 L371.1,620.2 L372.1,620.4 L373.1,625.3 L374.0,625.1 L375.0,628.9 L375.9,628.3 L376.9,627.4 L377.8,627.0 L378.8,625.4 L379.7,630.0 L380.7,628.6 L381.6,625.8 L382.6,628.8 L383.5,627.1 L384.5,629.0 L385.4,626.7 L386.4,628.1 L387.3,619.2 L388.3,627.7 L389.2,628.9 L390.2,629.8 L391.1,629.0 L392.1,627.6 L393.0,628.1 L394.0,627.6 L397.0,610.0 L397.9,608.6 L398.9,610.4 L399.9,609.3 L400.8,609.5 L401.8,608.2 L402.7,605.5 L403.6,607.7 L404.6,609.3 L405.6,610.9 L406.5,610.1 L407.4,609.2 L408.4,612.1 L409.4,607.6 L410.3,609.1 L411.2,606.8 L412.2,612.1 L413.1,610.4 L414.1,613.4 L415.1,611.0 L416.0,613.0 L416.9,613.1 L417.9,613.4 L418.9,622.7 L419.8,609.8 L420.8,613.0 L421.7,611.1 L422.6,613.8 L423.6,613.5 L424.6,614.1 L425.5,613.9 L426.4,614.6 L427.4,609.4 L428.4,612.3 L429.3,610.8 L430.2,613.2 L431.2,609.7 L432.1,616.0 L433.1,613.4 L434.1,613.6 L435.0,611.7 L435.9,612.8 L436.9,612.7 L437.9,613.7 L438.8,613.0 L439.8,614.9 L440.7,612.5 L441.6,614.6 L442.6,613.0 L443.6,616.6 L444.5,612.6 L445.4,613.1 L446.4,612.7 L447.4,616.5 L448.3,613.1 L449.2,616.0 L450.2,613.7 L451.1,617.8 L452.1,614.5 L453.1,618.8 L454.0,614.0 L454.9,617.4 L455.9,617.5 L456.9,615.6 L457.8,615.0 L458.8,616.0 L459.7,618.6 L460.6,616.0 L461.6,615.2 L462.6,619.5 L463.5,613.4 L464.4,616.9 L465.4,617.2 L466.4,615.3 L467.3,617.6 L468.2,615.6 L469.2,618.6 L470.1,614.9 L471.1,617.6 L472.1,619.4 L473.0,615.7 L474.5,612.3 L475.5,611.8 L476.4,612.0 L477.4,609.1 L478.3,622.2 L479.3,611.8 L480.2,613.8 L481.2,612.2 L482.1,612.2 L483.1,612.1 L484.0,614.3 L485.0,612.2 L485.9,613.2 L486.9,614.2 L487.9,615.6 L488.8,614.1 L489.8,616.2 L490.7,614.6 L491.7,614.1 L492.6,615.7 L493.6,615.6 L494.5,615.1 L495.5,616.7 L496.4,617.4 L497.4,614.7 L498.3,616.9 L499.3,618.2 L500.2,617.7 L501.2,613.7 L502.2,622.1 L503.1,616.7 L504.1,618.1 L505.0,615.7 L506.0,618.6 L506.9,617.5 L507.9,618.4 L508.8,617.6 L509.8,618.0 L510.7,617.7 L511.7,619.3 L512.6,617.9 L513.6,625.9 L514.6,617.8 L515.5,620.6 L516.5,618.5 L517.4,621.1 L518.4,618.4 L519.3,617.4 L520.3,624.6 L521.2,619.5 L522.2,623.3 L523.1,618.8 L524.1,619.0 L525.0,620.5 L526.0,618.8 L527.0,610.0 L528.0,611.3 L529.0,615.7 L530.0,612.3 L531.0,615.6 L532.0,614.6 L533.0,614.7 L534.0,616.6 L535.0,617.8 L536.0,616.8 L537.0,617.1 L538.0,616.5 L539.0,615.7 L540.0,617.1 L541.0,621.1 L542.0,617.1 L543.0,622.2 L544.0,619.4 L545.0,628.1 L546.0,624.6 L547.0,626.9 L548.0,625.9 L549.0,626.2 L550.0,628.0 L551.0,627.3 L552.0,631.2 L553.0,629.1 L554.0,633.6 L555.0,632.3 L556.0,633.8 L557.0,629.7 L558.0,634.2 L559.0,631.9 L560.0,632.6 L561.0,609.7 L562.0,609.6 L563.0,610.2 L564.0,613.9 L565.0,614.0 L566.0,617.7 L567.0,617.5 L568.0,615.8 L569.0,620.8 L570.0,615.6 L571.0,620.9 L572.0,616.1 L573.0,617.1 L574.0,613.5 L575.0,615.5 L576.0,616.7 L577.0,613.6 L578.0,613.7 L579.0,612.9 L580.0,611.1 L581.0,613.8 L582.0,618.9 L583.0,619.9 L584.0,618.2 L585.0,620.5 L586.0,616.0 L587.0,614.4 L588.0,616.6 L589.0,614.3 L590.0,611.3 L590.9,610.8 L591.9,616.8 L592.9,613.0 L593.9,615.9 L594.8,611.1 L595.8,617.2 L596.8,614.0 L597.7,615.0 L598.7,616.3 L599.7,614.5 L600.6,619.1 L601.6,614.2 L602.6,613.7 L603.6,614.5 L604.5,620.0 L605.5,612.3 L606.5,614.3 L607.4,617.9 L608.4,619.1 L609.4,617.8 L610.4,619.8 L611.3,617.6 L612.3,619.7 L613.3,618.2 L614.2,623.9 L615.2,618.8 L616.2,620.3 L617.1,616.9 L618.1,622.9 L619.1,622.0 L620.1,621.9 L621.0,621.4 L622.0,624.8 L624.0,616.1 L625.0,613.8 L626.0,616.3 L627.0,617.3 L628.0,617.7 L629.0,622.4 L630.0,621.5 L631.0,624.5 L632.0,622.3 L633.0,627.3 L634.0,592.5 L635.0,594.4 L635.9,590.6 L636.9,593.8 L637.8,590.9 L638.8,591.5 L639.8,594.8 L640.7,589.3 L641.7,581.6 L642.6,592.1 L643.6,593.4 L644.6,591.2 L645.5,591.3 L646.5,593.7 L647.4,592.5 L648.4,589.9 L649.4,590.5 L650.3,593.4 L651.3,595.0 L652.2,593.4 L653.2,590.1 L654.1,589.9 L655.1,600.0 L656.1,591.4 L657.0,592.6 L658.0,591.7 L658.9,592.0 L659.9,593.6 L660.9,590.2 L661.8,593.0 L662.8,588.4 L663.7,593.1 L664.7,592.2 L665.7,594.6 L666.6,594.3 L667.6,591.4 L668.5,596.1 L669.5,590.9 L670.5,591.7 L671.4,594.8 L672.4,591.3 L673.3,592.8 L674.3,594.4 L675.3,595.1 L676.2,595.6 L677.2,591.7 L678.1,595.2 L679.1,595.3 L680.1,595.7 L681.0,593.4 L682.0,594.7 L682.9,593.0 L683.9,592.4 L684.9,597.2 L685.8,594.5 L686.8,594.1 L687.7,592.9 L688.7,596.6 L689.6,596.8 L690.6,597.4 L691.6,593.9 L692.5,596.0 L693.5,593.0 L694.4,595.8 L695.4,596.1 L696.4,597.0 L697.3,593.0 L698.3,595.8 L699.2,593.1 L700.2,593.1 L701.2,597.5 L702.1,595.8 L703.1,597.8 L704.0,596.0 L705.0,595.6 L706.0,564.3 L707.0,564.7 L707.9,566.5 L708.9,563.6 L709.8,566.6 L710.8,563.9 L711.7,568.7 L712.7,567.5 L713.6,567.8 L714.6,566.9 L715.5,566.2 L716.5,565.9 L717.4,569.5 L718.4,565.9 L719.4,568.6 L720.3,568.5 L721.3,567.4 L722.2,566.2 L723.2,567.1 L724.1,570.7 L725.1,568.7 L726.0,566.3 L727.0,570.8 L727.9,568.7 L728.9,571.3 L729.8,569.6 L730.8,578.0 L731.8,570.5 L732.7,566.9 L733.7,568.7 L734.6,567.0 L735.6,570.5 L736.5,567.2 L737.5,569.9 L738.4,568.1 L739.4,570.2 L740.3,567.7 L741.3,571.7 L742.2,570.6 L743.2,569.2 L744.2,572.5 L745.1,572.3 L746.1,568.9 L747.0,570.1 L748.0,569.8 L748.9,573.0 L749.9,570.5 L750.8,572.6 L751.8,572.1 L752.7,572.8 L753.7,575.2 L754.6,572.3 L755.6,574.9 L756.6,574.8 L757.5,574.5 L758.5,571.4 L759.4,577.2 L760.4,575.9 L761.3,575.2 L762.3,578.5 L763.2,574.2 L764.2,574.3 L765.1,579.3 L766.1,579.1 L767.0,577.7 L768.0,581.0 L769.2,580.0 L770.2,585.8 L771.1,583.5 L772.1,588.0 L773.0,584.2 L774.0,585.7 L775.0,588.8 L775.9,588.1 L776.9,589.7 L777.9,583.2 L778.8,591.6 L779.8,591.4 L780.7,593.2 L781.7,594.7 L782.7,597.1 L783.6,595.1 L784.6,597.8 L785.5,597.4 L786.5,597.0 L787.2,589.4 L788.2,591.3 L789.2,597.0 L790.2,597.7 L791.2,600.6 L792.2,605.7 L793.1,603.7 L794.1,604.7 L795.1,603.3 L796.1,607.8 L797.1,605.8 L798.1,607.2 L799.1,606.7 L800.1,608.2 L801.1,606.5 L802.1,607.1 L803.0,606.8 L804.0,607.4 L805.0,606.8 L806.0,610.7 L807.0,611.5 L808.0,611.4" fill="none" stroke="#1f9a48" stroke-width="1.15" stroke-opacity="1" marker-mid="url(#mg)"/>
<path d="M116.0,613.4 L117.0,617.4 L118.0,614.5 L119.0,617.3 L120.0,618.5 L121.0,621.3 L122.0,620.6 L123.0,617.7 L124.0,620.6 L125.0,618.4 L126.0,621.6 L127.5,608.3 L128.5,607.6 L129.4,611.7 L130.4,614.4 L131.4,614.5 L132.4,611.0 L133.3,610.8 L134.3,614.1 L135.3,612.2 L136.3,615.6 L137.2,612.9 L138.2,615.5 L139.2,611.3 L140.1,612.6 L141.1,615.5 L142.1,612.0 L143.1,616.4 L144.0,614.5 L145.0,612.0 L146.0,615.4 L147.0,614.3 L147.9,613.5 L148.9,610.6 L149.9,616.3 L150.9,616.3 L151.8,617.4 L152.8,617.4 L153.8,617.7 L154.7,617.9 L155.7,619.4 L156.7,615.7 L157.7,618.9 L158.6,621.8 L159.6,617.6 L160.6,619.2 L161.6,618.0 L162.5,621.8 L163.5,617.8 L164.0,633.8 L164.0,627.1 L165.5,589.4 L166.5,590.5 L167.4,587.7 L168.4,589.9 L169.3,589.5 L170.3,586.8 L171.2,590.1 L172.2,586.3 L173.1,587.2 L174.1,590.2 L175.0,587.5 L176.0,590.2 L176.9,588.2 L177.9,587.5 L178.8,587.8 L179.8,586.0 L180.7,590.5 L181.7,587.1 L182.6,589.5 L183.6,587.6 L184.5,587.8 L185.5,586.6 L186.4,590.6 L187.4,594.5 L188.3,590.7 L189.3,595.3 L190.3,590.7 L191.2,591.1 L192.2,588.9 L193.1,589.2 L194.1,589.8 L195.0,592.2 L196.0,586.9 L196.9,591.7 L197.9,588.1 L198.8,588.9 L199.8,594.8 L200.7,590.4 L201.7,589.5 L202.6,589.2 L203.6,589.2 L204.5,588.6 L205.5,592.4 L206.4,589.0 L207.4,589.0 L208.3,592.5 L209.3,588.9 L210.2,590.5 L211.2,589.9 L212.2,589.3 L213.1,588.3 L214.1,589.5 L215.0,590.8 L216.0,589.7 L216.9,592.2 L217.9,589.5 L218.8,588.5 L219.8,590.7 L220.7,593.7 L221.7,589.3 L222.6,593.5 L223.6,590.8 L224.5,594.2 L225.5,591.6 L226.4,593.2 L227.4,589.8 L228.3,591.8 L229.3,591.9 L230.2,593.6 L231.2,588.8 L232.1,590.7 L233.1,589.3 L234.1,592.7 L235.0,591.6 L236.0,589.8 L236.9,592.8 L237.9,590.9 L238.8,591.8 L239.8,592.7 L240.7,590.8 L241.7,591.6 L242.6,591.3 L243.6,592.5 L244.5,596.7 L245.5,590.8 L246.4,592.7 L247.4,590.9 L248.3,590.8 L249.3,594.2 L250.2,594.2 L251.2,590.4 L252.1,597.4 L253.1,592.7 L254.0,594.9 L255.0,592.6 L255.9,591.3 L256.9,595.2 L257.9,595.8 L258.8,593.5 L259.8,592.6 L260.7,595.1 L261.7,592.2 L262.6,594.4 L263.6,595.7 L264.5,591.3 L265.5,594.6 L266.4,592.1 L267.4,593.2 L268.3,594.5 L269.3,601.8 L270.2,592.8 L271.2,594.7 L272.1,597.1 L273.1,592.9 L274.0,595.6 L275.0,592.7 L275.9,598.4 L276.9,593.9 L277.8,595.8 L278.8,593.1 L279.8,596.9 L280.7,594.9 L281.7,593.1 L282.6,594.7 L283.6,596.2 L284.5,593.0 L285.5,593.9 L286.4,595.8 L287.4,592.4 L288.3,596.0 L289.3,596.7 L290.2,593.7 L291.2,597.2 L292.1,594.9 L293.1,597.0 L294.0,592.8 L295.0,598.2 L295.9,594.4 L296.9,598.5 L297.8,594.1 L298.8,596.4 L299.7,597.0 L300.7,594.0 L301.6,591.6 L302.6,595.5 L303.6,594.7 L304.5,598.5 L305.5,595.5 L306.4,600.3 L307.4,596.6 L308.3,597.9 L309.3,598.4 L310.2,594.3 L311.2,598.5 L312.1,597.2 L313.1,597.3 L314.0,600.2 L315.0,595.7 L315.9,601.1 L316.9,598.3 L317.8,599.6 L318.8,597.5 L319.7,600.2 L320.7,601.7 L321.6,598.8 L322.6,600.9 L323.5,599.3 L324.5,600.7 L325.4,602.6 L326.4,600.3 L327.4,601.4 L328.3,602.3 L329.3,603.1 L330.2,599.8 L331.2,603.2 L332.1,598.8 L333.1,603.2 L334.0,600.2 L335.0,600.3 L335.9,601.4 L336.9,600.2 L337.8,597.1 L338.8,601.6 L339.7,604.6 L340.7,599.2 L341.6,595.6 L342.6,603.8 L343.5,603.0 L344.5,605.3 L345.4,599.6 L346.4,604.1 L347.3,600.3 L348.3,603.0 L349.3,602.1 L350.2,604.9 L351.2,607.5 L352.1,601.8 L353.1,604.0 L354.0,602.9 L355.0,602.6 L355.9,605.8 L356.9,606.2 L357.8,602.6 L358.8,602.9 L359.7,604.8 L360.7,606.6 L361.6,607.8 L362.6,605.3 L363.5,609.3 L364.5,606.4 L365.4,607.8 L366.4,609.2 L367.3,605.6 L368.3,608.1 L369.2,606.5 L370.2,610.6 L371.1,605.0 L372.1,607.7 L373.1,610.8 L374.0,610.3 L375.0,613.5 L375.9,612.7 L376.9,614.3 L377.8,610.9 L378.8,615.8 L379.7,611.8 L380.7,614.8 L381.6,611.5 L382.6,615.7 L383.5,611.1 L384.5,614.9 L385.4,610.8 L386.4,617.1 L387.3,614.9 L388.3,609.3 L389.2,613.0 L390.2,611.3 L391.1,612.1 L392.1,610.6 L393.0,614.4 L394.0,612.7 L397.0,595.1 L397.9,599.5 L398.9,595.4 L399.9,599.2 L400.8,595.6 L401.8,600.4 L402.7,599.9 L403.6,600.6 L404.6,597.0 L405.6,600.6 L406.5,600.1 L407.4,599.7 L408.4,598.2 L409.4,599.4 L410.3,600.8 L411.2,598.6 L412.2,602.4 L413.1,599.6 L414.1,604.1 L415.1,602.8 L416.0,600.2 L416.9,603.4 L417.9,601.3 L418.9,599.8 L419.8,599.8 L420.8,602.5 L421.7,602.3 L422.6,600.1 L423.6,604.2 L424.6,602.4 L425.5,604.1 L426.4,605.0 L427.4,604.6 L428.4,601.8 L429.3,607.4 L430.2,607.9 L431.2,605.1 L432.1,606.3 L433.1,601.3 L434.1,604.9 L435.0,606.8 L435.9,604.9 L436.9,607.7 L437.9,604.3 L438.8,607.1 L439.8,605.9 L440.7,605.3 L441.6,604.9 L442.6,602.8 L443.6,604.4 L444.5,606.6 L445.4,607.4 L446.4,610.2 L447.4,605.2 L448.3,607.9 L449.2,605.0 L450.2,607.4 L451.1,605.5 L452.1,607.9 L453.1,610.3 L454.0,617.9 L454.9,612.8 L455.9,607.6 L456.9,610.6 L457.8,606.1 L458.8,608.0 L459.7,607.7 L460.6,604.9 L461.6,610.3 L462.6,609.9 L463.5,609.4 L464.4,610.4 L465.4,615.2 L466.4,609.1 L467.3,610.3 L468.2,609.9 L469.2,617.1 L470.1,610.5 L471.1,612.7 L472.1,612.7 L473.0,610.1 L474.5,599.0 L475.5,597.2 L476.4,599.4 L477.4,597.9 L478.3,599.1 L479.3,599.5 L480.2,600.7 L481.2,594.3 L482.1,602.1 L483.1,601.4 L484.0,597.7 L485.0,601.4 L485.9,599.1 L486.9,602.3 L487.9,603.2 L488.8,599.1 L489.8,601.8 L490.7,600.7 L491.7,603.1 L492.6,601.1 L493.6,604.2 L494.5,604.0 L495.5,603.7 L496.4,603.2 L497.4,607.1 L498.3,606.1 L499.3,598.7 L500.2,606.0 L501.2,605.5 L502.2,610.7 L503.1,606.5 L504.1,605.0 L505.0,607.5 L506.0,608.3 L506.9,610.0 L507.9,604.2 L508.8,602.8 L509.8,607.5 L510.7,606.8 L511.7,610.6 L512.6,609.3 L513.6,606.9 L514.6,606.2 L515.5,607.7 L516.5,611.2 L517.4,607.8 L518.4,610.1 L519.3,608.3 L520.3,603.9 L521.2,614.4 L522.2,616.2 L523.1,612.1 L524.1,609.9 L525.0,614.0 L526.0,613.7 L527.0,594.9 L528.0,599.4 L529.0,597.4 L530.0,600.2 L531.0,599.4 L532.0,598.6 L533.0,604.4 L534.0,602.0 L535.0,605.0 L536.0,603.9 L537.0,605.0 L538.0,604.8 L539.0,607.0 L540.0,605.4 L541.0,609.7 L542.0,610.1 L543.0,613.3 L544.0,615.6 L545.0,620.5 L546.0,619.1 L547.0,623.3 L548.0,621.1 L549.0,624.3 L550.0,620.3 L551.0,625.5 L552.0,624.5 L553.0,627.1 L554.0,624.6 L555.0,626.6 L556.0,625.2 L557.0,629.4 L558.0,622.4 L559.0,628.1 L560.0,623.9 L561.0,597.9 L562.0,596.9 L563.0,602.8 L564.0,598.5 L565.0,602.8 L566.0,600.7 L567.0,604.3 L568.0,601.6 L569.0,608.2 L570.0,604.1 L572.0,612.2 L573.0,614.5 L574.0,610.6 L575.0,612.4 L576.0,609.0 L577.0,612.0 L578.0,610.9 L579.0,609.5 L580.0,616.0 L581.0,608.4 L582.0,612.0 L583.0,610.1 L584.0,609.5 L585.0,612.4 L586.0,610.8 L587.0,613.2 L588.0,611.0 L589.0,600.0 L590.0,600.1 L590.9,597.5 L591.9,606.3 L592.9,596.5 L593.8,602.0 L594.8,600.1 L595.8,599.6 L596.8,604.0 L597.7,601.3 L598.7,603.3 L599.7,600.8 L600.6,605.8 L601.6,602.6 L602.6,603.1 L603.5,602.0 L604.5,605.7 L605.5,606.6 L606.4,603.4 L607.4,606.0 L608.4,603.4 L609.3,606.9 L610.3,604.6 L611.3,609.1 L612.2,616.4 L613.2,608.5 L614.2,609.4 L615.2,607.8 L616.1,609.9 L617.1,611.4 L618.1,610.4 L619.0,614.9 L620.0,613.3 L624.0,597.3 L625.0,603.2 L626.0,603.7 L627.0,607.1 L628.0,606.8 L629.0,614.1 L630.0,613.2 L631.0,625.3 L632.0,616.8 L633.0,621.6 L634.0,576.6 L635.0,578.6 L635.9,576.9 L636.9,578.3 L637.8,579.8 L638.8,576.2 L639.8,578.9 L640.7,581.9 L641.7,578.8 L642.6,581.0 L643.6,581.5 L644.6,579.8 L645.5,578.8 L646.5,581.6 L647.4,576.9 L648.4,580.3 L649.4,579.0 L650.3,581.3 L651.3,579.5 L652.2,580.9 L653.2,579.6 L654.1,581.4 L655.1,578.7 L656.1,581.3 L657.0,580.3 L658.0,582.7 L658.9,582.9 L659.9,580.5 L660.9,581.8 L661.8,581.3 L662.8,581.7 L663.7,579.9 L664.7,579.9 L665.7,582.4 L666.6,581.4 L667.6,582.4 L668.5,582.4 L669.5,582.8 L670.5,578.7 L671.4,583.5 L672.4,581.0 L673.3,585.4 L674.3,585.0 L675.3,584.5 L676.2,582.5 L677.2,584.2 L678.1,583.8 L679.1,582.8 L680.1,581.3 L681.0,584.0 L682.0,582.5 L682.9,584.9 L683.9,582.6 L684.9,582.8 L685.8,584.6 L686.8,583.7 L687.7,585.1 L688.7,585.5 L689.6,585.1 L690.6,582.7 L691.6,585.9 L692.5,585.4 L693.5,586.4 L694.4,585.7 L695.4,585.0 L696.4,587.2 L697.3,584.3 L698.3,588.8 L699.2,584.2 L700.2,584.4 L701.2,587.0 L702.1,584.1 L703.1,587.8 L704.0,587.0 L705.0,586.2 L706.0,562.6 L707.0,562.2 L707.9,561.8 L708.9,558.2 L709.8,561.3 L710.8,562.9 L711.7,560.2 L712.7,562.5 L713.6,563.0 L714.6,562.7 L715.5,562.2 L716.5,560.7 L717.4,564.3 L718.4,562.0 L719.4,562.5 L720.3,561.6 L721.3,562.9 L722.2,562.7 L723.2,563.3 L724.1,561.5 L725.1,564.6 L726.0,562.6 L727.0,563.2 L727.9,561.9 L728.9,563.3 L729.8,561.5 L730.8,563.5 L731.8,560.8 L732.7,565.1 L733.7,562.0 L734.6,561.4 L735.6,568.6 L736.5,562.1 L737.5,565.3 L738.4,561.3 L739.4,564.6 L740.3,563.1 L741.3,565.6 L742.2,561.3 L743.2,564.4 L744.2,563.1 L745.1,565.4 L746.1,567.1 L747.0,563.9 L748.0,566.1 L748.9,564.5 L749.9,566.8 L750.8,565.9 L751.8,568.2 L752.7,567.1 L753.7,567.3 L754.6,567.1 L755.6,568.8 L756.6,564.8 L757.5,570.2 L758.5,565.8 L759.4,568.3 L760.4,566.5 L761.3,567.3 L762.3,568.8 L763.2,568.9 L764.2,568.7 L765.1,571.9 L766.1,571.2 L767.0,571.9 L768.0,569.4 L769.2,569.9 L770.2,569.3 L771.1,572.0 L772.1,575.8 L773.0,574.2 L774.0,575.3 L775.0,574.6 L775.9,579.1 L776.9,576.6 L777.9,577.9 L778.8,575.5 L779.8,580.4 L780.7,577.2 L781.7,578.6 L782.7,581.5 L783.6,582.2 L784.6,580.1 L785.5,581.9 L786.5,582.9 L787.2,578.5 L788.2,578.6 L789.2,582.4 L790.2,581.3 L791.2,584.5 L792.2,582.8 L793.1,585.1 L794.1,582.3 L795.1,585.7 L796.1,583.7 L797.1,587.3 L798.1,586.0 L799.1,589.9 L800.1,587.4 L801.1,590.3 L802.1,599.4 L803.0,593.6 L804.0,592.4 L805.0,598.3 L806.0,595.4 L807.0,602.3 L808.0,609.2" fill="none" stroke="#111" stroke-width="1.15" stroke-opacity="1" marker-mid="url(#mk)"/>
<path d="M116.0,590.7 L117.0,592.6 L118.0,592.3 L119.0,595.3 L120.0,594.4 L121.0,600.7 L122.0,595.9 L123.0,593.0 L124.0,593.7 L125.0,599.2 L126.0,599.1 L127.0,583.0 L128.0,584.6 L128.9,581.9 L129.9,582.7 L130.8,584.8 L131.8,584.8 L132.8,582.3 L133.7,587.2 L134.7,583.2 L135.6,587.0 L136.6,578.3 L137.6,582.7 L138.5,588.1 L139.5,589.3 L140.4,584.8 L141.4,588.1 L142.4,586.6 L143.3,589.8 L144.3,586.0 L145.2,589.6 L146.2,588.5 L147.2,592.2 L148.1,587.7 L149.1,589.0 L150.1,591.2 L151.0,587.5 L152.0,591.7 L152.9,588.9 L153.9,591.3 L154.9,587.3 L155.8,590.3 L156.8,591.0 L157.7,590.6 L158.7,591.8 L159.7,589.6 L160.6,590.4 L161.6,590.5 L162.5,588.1 L163.5,588.4 L164.0,621.9 L164.0,619.6 L165.5,569.0 L166.5,567.7 L167.4,568.8 L168.4,566.0 L169.3,570.8 L170.3,568.7 L171.2,571.0 L172.2,563.7 L173.1,568.9 L174.1,565.7 L175.0,570.8 L176.0,569.4 L176.9,566.3 L177.9,568.7 L178.8,564.9 L179.8,563.2 L180.7,569.7 L181.7,566.7 L182.6,568.8 L183.6,564.0 L184.5,567.5 L185.5,571.0 L186.4,569.5 L187.4,568.0 L188.3,570.0 L189.3,561.9 L190.3,570.2 L191.2,569.2 L192.2,569.1 L193.1,566.1 L194.1,567.8 L195.0,567.7 L196.0,568.1 L196.9,572.3 L197.9,567.9 L198.8,570.3 L199.8,571.5 L200.7,566.2 L201.7,571.5 L202.6,565.9 L203.6,569.1 L204.5,570.5 L205.5,568.8 L206.4,573.0 L207.4,568.4 L208.3,569.2 L209.3,567.4 L210.2,569.3 L211.2,568.2 L212.2,570.9 L213.1,572.0 L214.1,569.5 L215.0,572.4 L216.0,572.8 L216.9,573.6 L217.9,572.0 L218.8,569.3 L219.8,569.6 L220.7,570.1 L221.7,571.5 L222.6,571.0 L223.6,571.5 L224.5,568.5 L225.5,570.5 L226.4,572.1 L227.4,566.5 L228.3,571.8 L229.3,570.9 L230.2,567.8 L231.2,565.9 L232.1,571.4 L233.1,572.1 L234.1,571.7 L235.0,571.8 L236.0,571.9 L236.9,571.3 L237.9,570.2 L238.8,573.5 L239.8,570.5 L240.7,572.6 L241.7,569.3 L242.6,572.7 L243.6,571.4 L244.5,572.6 L245.5,580.7 L246.4,569.8 L247.4,573.2 L248.3,572.9 L249.3,571.7 L250.2,574.5 L251.2,571.6 L252.1,572.9 L253.1,574.2 L254.0,571.3 L255.0,574.3 L255.9,571.5 L256.9,573.6 L257.9,571.0 L258.8,572.1 L259.8,570.8 L260.7,572.3 L261.7,574.2 L262.6,569.7 L263.6,570.4 L264.5,573.1 L265.5,570.8 L266.4,571.0 L267.4,567.4 L268.3,575.3 L269.3,570.3 L270.2,571.0 L271.2,572.2 L272.1,571.3 L273.1,572.1 L274.0,568.3 L275.0,573.1 L275.9,568.7 L276.9,573.9 L277.8,571.0 L278.8,575.1 L279.8,568.0 L280.7,571.7 L281.7,571.8 L282.6,573.2 L283.6,570.7 L284.5,573.6 L285.5,574.7 L286.4,572.5 L287.4,573.7 L288.3,573.1 L289.3,575.3 L290.2,571.3 L291.2,572.4 L292.1,571.7 L293.1,570.5 L294.0,575.2 L295.0,572.2 L295.9,570.2 L296.9,574.9 L297.8,570.5 L298.8,575.4 L299.7,568.5 L300.7,574.3 L301.6,569.9 L302.6,573.7 L303.6,571.7 L304.5,572.0 L305.5,574.3 L306.4,568.4 L307.4,571.7 L308.3,576.7 L309.3,572.4 L310.2,569.9 L311.2,573.2 L312.1,572.4 L313.1,576.7 L314.0,570.4 L315.0,572.5 L315.9,572.0 L316.9,562.6 L317.8,571.7 L318.8,576.6 L319.7,574.6 L320.7,573.9 L321.6,572.5 L322.6,572.4 L323.5,574.2 L324.5,567.3 L325.4,575.6 L326.4,573.4 L327.4,577.0 L328.3,572.2 L329.3,571.4 L330.2,574.0 L331.2,571.9 L332.1,575.2 L333.1,572.6 L334.0,573.6 L335.0,572.6 L335.9,572.8 L336.9,575.3 L337.8,571.1 L338.8,573.9 L339.7,575.2 L340.7,577.1 L341.6,571.0 L342.6,577.6 L343.5,574.3 L344.5,573.1 L345.4,576.5 L346.4,584.4 L347.3,571.8 L348.3,573.6 L349.3,578.9 L350.2,578.2 L351.2,576.8 L352.1,576.5 L353.1,577.7 L354.0,576.4 L355.0,578.9 L355.9,574.5 L356.9,580.0 L357.8,578.1 L358.8,581.0 L359.7,577.2 L360.7,579.9 L361.6,580.3 L362.6,582.3 L363.5,582.7 L364.5,580.3 L365.4,583.6 L366.4,581.2 L367.3,583.5 L368.3,580.0 L369.2,582.0 L370.2,582.8 L371.1,580.3 L372.1,572.0 L373.1,583.1 L374.0,581.0 L375.0,585.8 L375.9,582.8 L376.9,584.8 L377.8,581.0 L378.8,584.5 L379.7,581.7 L380.7,582.5 L381.6,580.5 L382.6,584.7 L383.5,578.8 L384.5,581.1 L385.4,578.3 L386.4,581.3 L387.3,581.9 L388.3,584.3 L389.2,582.2 L390.2,581.4 L391.1,581.7 L392.1,583.8 L393.0,581.5 L394.0,583.7 L397.0,569.7 L398.0,573.8 L398.9,570.3 L399.9,568.9 L400.8,571.4 L401.8,569.5 L402.7,568.9 L403.7,572.7 L404.6,573.1 L405.6,572.1 L406.6,570.3 L407.5,569.8 L408.5,573.6 L409.4,567.0 L410.4,572.7 L411.3,575.2 L412.3,567.3 L413.3,571.7 L414.2,565.3 L415.2,570.2 L416.1,570.8 L417.1,573.2 L418.0,572.6 L419.0,575.5 L419.9,574.2 L420.9,570.4 L421.9,573.2 L422.8,573.9 L423.8,573.7 L424.7,576.3 L425.7,572.4 L426.6,575.0 L427.6,569.6 L428.6,577.1 L429.5,574.2 L430.5,573.3 L431.4,575.5 L432.4,573.6 L433.3,576.0 L434.3,576.4 L435.2,572.9 L436.2,573.1 L437.2,576.6 L438.1,572.9 L439.1,572.4 L440.0,576.3 L441.0,575.0 L441.9,575.7 L442.9,573.7 L443.9,577.8 L444.8,575.0 L445.8,578.7 L446.7,574.5 L447.7,574.3 L448.6,573.5 L449.6,583.9 L450.6,574.7 L451.5,577.8 L452.5,573.7 L453.4,581.0 L454.4,574.9 L455.3,575.2 L456.3,570.0 L457.2,576.9 L458.2,576.9 L459.2,578.6 L460.1,576.5 L461.1,574.5 L462.0,578.2 L463.0,580.2 L463.9,576.7 L464.9,577.0 L465.9,578.6 L466.8,571.9 L467.8,577.6 L468.7,579.7 L469.7,572.7 L470.6,580.4 L471.6,579.7 L472.5,576.4 L473.5,579.5 L474.5,570.0 L475.5,569.9 L476.4,573.1 L477.4,572.2 L478.3,571.2 L479.3,575.5 L480.2,572.4 L481.2,573.0 L482.1,572.6 L483.1,574.1 L484.0,575.6 L485.0,580.5 L485.9,575.5 L486.9,579.5 L487.9,574.5 L488.8,573.0 L489.8,575.6 L490.7,573.2 L491.7,574.7 L492.6,572.7 L493.6,572.1 L494.5,575.5 L495.5,572.3 L496.4,576.3 L497.4,573.9 L498.3,576.1 L499.3,575.6 L500.2,574.8 L501.2,575.2 L502.2,580.6 L503.1,574.4 L504.1,577.5 L505.0,572.9 L506.0,575.9 L506.9,577.6 L507.9,576.6 L508.8,578.2 L509.8,578.0 L510.7,577.2 L511.7,569.4 L512.6,579.3 L513.6,576.7 L514.6,579.0 L515.5,576.4 L516.5,580.6 L517.4,578.6 L518.4,577.7 L519.3,582.8 L520.3,580.1 L521.2,579.9 L522.2,584.0 L523.1,580.6 L524.1,582.6 L525.0,586.1 L526.0,579.3 L527.0,573.4 L528.0,565.8 L529.0,572.6 L530.0,576.3 L531.0,574.6 L532.0,577.1 L533.0,575.9 L534.0,577.8 L535.0,571.8 L536.0,576.7 L537.0,575.5 L538.0,579.8 L539.0,574.7 L540.0,580.2 L541.0,577.8 L542.0,578.9 L543.0,584.3 L544.0,582.4 L545.0,598.1 L546.0,584.3 L547.0,594.4 L548.0,593.4 L549.0,596.8 L550.0,591.0 L551.0,596.6 L552.0,592.9 L553.0,591.0 L554.0,591.1 L555.0,593.5 L556.0,590.1 L557.0,587.6 L558.0,591.1 L559.0,587.7 L560.0,590.4 L561.0,574.7 L562.0,572.5 L563.0,574.3 L564.0,577.3 L565.0,578.4 L566.0,574.6 L567.0,580.7 L568.0,578.0 L569.0,582.5 L570.0,581.3 L572.0,584.3 L573.0,581.8 L574.0,585.6 L575.0,583.8 L576.0,586.4 L577.0,584.6 L578.0,586.3 L579.0,582.8 L580.0,586.0 L581.0,579.5 L582.0,581.9 L583.0,577.8 L584.0,580.6 L585.0,578.5 L586.0,580.1 L587.0,575.0 L588.0,575.4 L589.0,574.0 L590.0,575.0 L590.9,573.5 L591.9,572.5 L592.9,578.5 L593.9,575.3 L594.8,572.2 L595.8,572.9 L596.8,576.0 L597.7,577.0 L598.7,575.6 L599.7,577.2 L600.6,576.3 L601.6,574.9 L602.6,579.6 L603.6,578.1 L604.5,575.6 L605.5,576.3 L606.5,576.0 L607.4,579.8 L608.4,578.9 L609.4,577.5 L610.4,576.7 L611.3,580.1 L612.3,577.4 L613.3,581.3 L614.2,579.4 L615.2,580.6 L616.2,576.3 L617.1,581.1 L618.1,578.0 L619.1,582.1 L620.1,577.0 L621.0,586.8 L622.0,577.9 L624.0,570.4 L625.0,571.7 L626.0,571.7 L627.0,577.7 L628.0,576.6 L629.0,577.3 L630.0,582.7 L631.0,580.5 L632.0,585.0 L633.0,586.8 L634.0,563.9 L635.0,561.8 L635.9,563.4 L636.9,568.7 L637.8,563.1 L638.8,564.5 L639.8,568.2 L640.7,568.2 L641.7,565.0 L642.6,564.7 L643.6,567.3 L644.6,564.3 L645.5,566.9 L646.5,563.5 L647.4,566.7 L648.4,565.2 L649.4,567.6 L650.3,565.3 L651.3,566.6 L652.2,565.7 L653.2,567.0 L654.1,566.1 L655.1,565.0 L656.1,563.8 L657.0,562.2 L658.0,563.2 L658.9,565.6 L659.9,562.8 L660.9,564.4 L661.8,565.7 L662.8,567.5 L663.7,567.5 L664.7,565.8 L665.7,568.0 L666.6,567.6 L667.6,568.4 L668.5,566.0 L669.5,568.1 L670.5,564.5 L671.4,567.6 L672.4,568.0 L673.3,567.8 L674.3,568.8 L675.3,568.8 L676.2,570.1 L677.2,567.6 L678.1,571.6 L679.1,567.8 L680.1,571.3 L681.0,567.1 L682.0,567.4 L682.9,570.7 L683.9,567.2 L684.9,571.5 L685.8,569.3 L686.8,569.1 L687.7,568.0 L688.7,570.9 L689.6,569.5 L690.6,573.0 L691.6,570.1 L692.5,569.2 L693.5,573.6 L694.4,568.6 L695.4,572.3 L696.4,570.6 L697.3,572.9 L698.3,570.1 L699.2,572.5 L700.2,570.2 L701.2,572.8 L702.1,571.5 L703.1,573.3 L704.0,570.8 L705.0,569.3 L706.0,563.9 L707.0,557.8 L707.9,559.3 L708.9,557.6 L709.8,558.4 L710.8,557.3 L711.7,560.1 L712.7,555.3 L713.6,560.8 L714.6,558.3 L715.5,559.8 L716.5,558.7 L717.4,559.9 L718.4,559.1 L719.4,561.9 L720.3,557.6 L721.3,562.6 L722.2,562.4 L723.2,561.9 L724.1,558.1 L725.1,560.6 L726.0,566.6 L727.0,561.6 L727.9,561.9 L728.9,562.7 L729.8,560.5 L730.8,559.4 L731.8,558.4 L732.7,562.7 L733.7,561.4 L734.6,563.1 L735.6,556.6 L736.5,561.1 L737.5,560.4 L738.4,561.5 L739.4,566.0 L740.3,562.4 L741.3,566.6 L742.2,563.1 L743.2,562.9 L744.2,564.5 L745.1,561.2 L746.1,562.0 L747.0,561.3 L748.0,562.3 L748.9,566.5 L749.9,562.9 L750.8,561.8 L751.8,565.0 L752.7,562.4 L753.7,564.7 L754.6,564.7 L755.6,565.2 L756.6,559.5 L757.5,562.9 L758.5,560.5 L759.4,566.1 L760.4,565.2 L761.3,564.2 L762.3,572.0 L763.2,567.4 L764.2,570.4 L765.1,568.2 L766.1,572.0 L767.0,573.2 L768.0,570.3 L769.2,549.9 L770.2,548.1 L771.1,552.7 L772.1,552.0 L773.0,552.9 L774.0,553.0 L775.0,556.7 L775.9,555.9 L776.9,554.8 L777.9,553.7 L778.8,553.9 L779.8,555.0 L780.7,542.6 L781.7,556.6 L782.7,558.7 L783.6,558.1 L784.6,562.3 L785.5,561.5 L786.5,559.9 L787.2,568.8 L788.2,567.2 L789.2,567.6 L790.2,568.4 L791.2,572.9 L792.2,570.9 L793.1,576.8 L794.1,572.3 L795.1,576.0 L796.1,576.9 L797.1,574.1 L798.1,576.4 L799.1,577.9 L800.1,575.1 L801.1,581.5 L802.1,581.2 L803.0,585.9 L804.0,585.1 L805.0,577.2 L806.0,589.6 L807.0,594.6 L808.0,601.2" fill="none" stroke="#e8474c" stroke-width="1.15" stroke-opacity="1" marker-mid="url(#mr)"/>
<path d="M116.0,507.5 L117.2,509.3 L118.4,511.2 L119.7,513.0 L120.9,514.8 L122.1,526.4 L123.3,531.3 L124.6,536.2 L125.8,541.1 L127.0,546.0 L127.5,490.5 L128.7,494.5 L129.9,498.5 L131.2,502.1 L132.4,502.9 L133.6,503.7 L134.8,504.6 L136.1,505.4 L137.3,506.2 L138.5,507.0 L139.7,507.8 L141.0,510.9 L142.2,514.6 L143.4,517.2 L144.6,517.8 L145.9,518.4 L147.1,519.0 L148.3,519.5 L149.5,520.1 L150.8,520.7 L152.0,521.3 L153.2,521.8 L154.4,522.4 L155.7,523.0 L156.9,523.5 L158.1,524.1 L159.3,524.7 L160.6,526.5 L161.8,529.7 L163.0,533.0 L164.0,600.0 L164.0,600.0 L165.5,441.5 L166.7,446.7 L167.9,446.9 L169.1,447.2 L170.3,447.5 L171.5,447.7 L172.7,448.0 L173.9,448.3 L175.1,448.6 L176.3,449.1 L177.5,449.6 L178.7,450.2 L179.9,450.7 L181.1,451.3 L182.3,451.8 L183.5,452.3 L184.7,452.9 L185.9,453.3 L187.1,453.7 L188.3,454.1 L189.5,454.5 L190.7,454.9 L191.9,455.3 L193.1,455.7 L194.3,456.1 L195.5,456.5 L196.7,456.9 L197.9,457.3 L199.1,457.7 L200.3,458.1 L201.5,458.3 L202.7,458.5 L204.0,458.7 L205.2,458.9 L206.4,459.1 L207.6,459.3 L208.8,459.5 L210.0,459.7 L211.2,460.0 L212.4,460.2 L213.6,460.4 L214.8,460.6 L216.0,460.8 L217.2,461.0 L218.4,461.2 L219.6,461.4 L220.8,461.6 L222.0,461.7 L223.2,461.9 L224.4,462.0 L225.6,462.2 L226.8,462.3 L228.0,462.5 L229.2,462.6 L230.4,462.8 L231.6,462.9 L232.8,463.1 L234.0,463.2 L235.2,463.4 L236.4,463.5 L237.6,463.7 L238.8,463.8 L240.0,464.0 L241.2,464.2 L242.4,464.5 L243.6,464.7 L244.8,465.0 L246.0,465.2 L247.2,465.4 L248.4,465.7 L249.6,465.9 L250.8,466.2 L252.0,466.4 L253.2,466.6 L254.4,466.9 L255.6,467.1 L256.8,467.4 L258.0,467.6 L259.2,467.8 L260.4,468.1 L261.6,468.2 L262.8,468.4 L264.0,468.6 L265.2,468.8 L266.4,469.0 L267.6,469.1 L268.8,469.3 L270.0,469.5 L271.2,469.7 L272.4,469.9 L273.6,470.0 L274.8,470.2 L276.0,470.4 L277.2,470.6 L278.4,470.8 L279.6,470.9 L280.9,471.1 L282.1,471.3 L283.3,471.5 L284.5,471.7 L285.7,471.8 L286.9,472.0 L288.1,472.2 L289.3,472.4 L290.5,472.6 L291.7,472.7 L292.9,472.9 L294.1,473.1 L295.3,473.3 L296.5,473.5 L297.7,473.7 L298.9,473.8 L300.1,474.0 L301.3,474.4 L302.5,474.8 L303.7,475.2 L304.9,475.6 L306.1,476.0 L307.3,476.4 L308.5,476.8 L309.7,477.2 L310.9,477.6 L312.1,478.0 L313.3,478.4 L314.5,478.8 L315.7,479.2 L316.9,479.6 L318.1,480.0 L319.3,480.4 L320.5,480.8 L321.7,481.2 L322.9,481.6 L324.1,482.0 L325.3,482.4 L326.5,482.8 L327.7,483.2 L328.9,483.6 L330.1,484.1 L331.3,484.8 L332.5,485.5 L333.7,486.2 L334.9,487.0 L336.1,487.7 L337.3,488.4 L338.5,489.1 L339.7,489.8 L340.9,491.0 L342.1,492.3 L343.3,493.7 L344.5,495.0 L345.7,496.3 L346.9,497.6 L348.1,499.0 L349.3,500.3 L350.5,501.6 L351.7,502.9 L352.9,504.2 L354.1,505.6 L355.3,506.9 L356.5,508.2 L357.8,509.5 L359.0,510.8 L360.2,512.2 L361.4,513.5 L362.6,514.9 L363.8,516.3 L365.0,517.7 L366.2,519.0 L367.4,520.7 L368.6,523.1 L369.8,525.5 L371.0,527.9 L372.2,531.0 L373.4,538.2 L374.6,542.5 L375.8,543.5 L377.0,544.5 L378.2,545.5 L379.4,546.5 L380.6,547.5 L381.8,548.4 L383.0,549.4 L384.2,550.3 L385.4,551.3 L386.6,552.3 L387.8,553.2 L389.0,554.2 L390.2,555.2 L391.4,556.7 L392.6,558.2 L393.8,559.7 L395.0,570.0 L396.8,456.0 L398.0,463.0 L399.2,465.1 L400.4,465.5 L401.6,465.9 L402.8,466.3 L404.1,466.7 L405.3,467.3 L406.5,468.8 L407.7,470.2 L408.9,471.7 L410.1,473.3 L411.3,476.3 L412.5,478.2 L413.7,478.7 L414.9,479.2 L416.2,479.7 L417.4,480.8 L418.6,483.7 L419.8,486.5 L421.0,487.5 L422.2,488.1 L423.4,488.7 L424.6,489.3 L425.8,489.8 L427.0,490.3 L428.2,490.8 L429.5,491.3 L430.7,491.8 L431.9,492.3 L433.1,492.8 L434.3,493.3 L435.5,493.8 L436.7,494.7 L437.9,495.9 L439.1,497.1 L440.3,498.5 L441.6,500.2 L442.8,501.9 L444.0,503.6 L445.2,505.4 L446.4,507.8 L447.6,510.2 L448.8,512.6 L450.0,515.0 L451.2,516.8 L452.4,518.2 L453.6,518.8 L454.9,519.4 L456.1,520.0 L457.3,520.6 L458.5,521.5 L459.7,522.7 L460.9,523.9 L462.1,525.2 L463.3,526.9 L464.5,528.5 L465.7,530.2 L467.0,531.9 L468.2,533.9 L469.4,536.0 L470.6,538.4 L471.8,541.2 L473.0,544.0 L474.5,446.0 L475.7,451.4 L476.9,452.0 L478.2,452.6 L479.4,454.0 L480.6,457.0 L481.8,458.7 L483.0,459.6 L484.3,460.6 L485.5,461.6 L486.7,462.7 L487.9,463.9 L489.2,465.2 L490.4,466.4 L491.6,467.6 L492.8,469.2 L494.0,471.0 L495.3,471.8 L496.5,472.7 L497.7,473.5 L498.9,474.3 L500.1,475.2 L501.4,477.0 L502.6,478.9 L503.8,480.7 L505.0,483.0 L506.2,485.5 L507.5,487.8 L508.7,489.8 L509.9,491.8 L511.1,495.4 L512.3,498.6 L513.6,500.7 L514.8,502.9 L516.0,505.0 L517.2,506.7 L518.5,508.4 L519.7,510.1 L520.9,511.9 L522.1,520.4 L523.3,524.5 L524.6,528.5 L525.8,541.7 L527.0,549.0 L527.8,455.0 L529.0,462.1 L530.3,465.9 L531.5,470.7 L532.8,476.9 L534.0,482.1 L535.3,486.4 L536.5,488.0 L537.8,489.7 L539.0,495.1 L540.3,502.9 L541.5,521.7 L542.8,541.8 L544.0,570.0 L544.5,568.0 L545.8,572.4 L547.1,576.9 L548.4,580.9 L549.7,584.2 L551.0,587.4 L552.2,590.5 L553.5,593.1 L554.8,595.7 L556.1,598.2 L557.4,601.7 L558.7,606.8 L560.0,612.0 L560.6,452.0 L561.9,457.4 L563.1,462.0 L564.4,466.4 L565.7,470.9 L567.0,479.7 L568.2,484.1 L569.5,495.0 L570.5,483.0 L571.8,520.0 L573.2,553.8 L574.5,568.7 L575.8,572.5 L577.2,573.2 L578.5,574.0 L579.5,501.0 L580.9,506.6 L582.3,508.0 L583.7,509.0 L585.1,510.3 L586.5,514.0 L587.5,452.0 L588.7,458.4 L589.9,460.9 L591.2,463.3 L592.4,467.0 L593.6,473.1 L594.8,477.5 L596.1,481.2 L597.3,484.6 L598.5,487.0 L599.7,489.5 L601.0,490.6 L602.2,491.3 L603.4,492.0 L604.6,492.8 L605.9,494.2 L607.1,495.9 L608.3,497.6 L609.5,499.3 L610.8,500.8 L612.0,502.0 L613.2,503.2 L614.4,504.4 L615.7,507.2 L616.9,511.3 L618.1,515.5 L619.3,521.6 L620.6,528.3 L621.8,535.7 L623.0,543.0 L623.5,468.0 L624.9,474.8 L626.2,488.5 L627.6,520.0 L628.9,555.4 L630.3,558.9 L631.6,561.0 L633.0,563.0 L633.5,447.0 L634.7,447.7 L635.9,448.4 L637.1,449.1 L638.4,449.9 L639.6,450.7 L640.8,451.2 L642.0,451.4 L643.2,451.6 L644.4,451.9 L645.7,452.1 L646.9,452.4 L648.1,452.6 L649.3,452.9 L650.5,453.2 L651.7,453.7 L652.9,454.2 L654.2,454.7 L655.4,455.2 L656.6,456.0 L657.8,456.7 L659.0,457.4 L660.2,458.1 L661.5,458.7 L662.7,459.3 L663.9,459.9 L665.1,460.5 L666.3,460.9 L667.5,461.3 L668.8,461.7 L670.0,462.1 L671.2,462.4 L672.4,462.8 L673.6,463.4 L674.8,464.1 L676.0,464.8 L677.3,465.6 L678.5,467.9 L679.7,470.9 L680.9,472.5 L682.1,474.2 L683.3,476.7 L684.6,478.4 L685.8,479.3 L687.0,480.2 L688.2,481.1 L689.4,481.8 L690.6,482.6 L691.8,483.3 L693.1,484.0 L694.3,484.7 L695.5,485.4 L696.7,486.1 L697.9,486.8 L699.1,487.5 L700.4,488.4 L701.6,490.0 L702.8,491.5 L704.0,493.0 L705.3,562.0 L705.3,562.0 L706.0,428.0 L707.2,440.2 L708.4,441.4 L709.6,442.6 L710.8,443.4 L712.0,444.0 L713.2,444.6 L714.4,445.2 L715.6,445.8 L716.8,446.8 L718.0,448.0 L719.2,449.2 L720.4,450.3 L721.6,451.0 L722.9,451.7 L724.1,452.4 L725.3,453.2 L726.5,453.9 L727.7,454.6 L728.9,455.3 L730.1,456.1 L731.3,457.0 L732.5,458.0 L733.7,459.0 L734.9,459.9 L736.1,461.1 L737.3,462.3 L738.5,463.5 L739.7,464.7 L740.9,465.6 L742.1,466.5 L743.3,467.3 L744.5,468.2 L745.7,468.7 L746.9,469.1 L748.1,469.4 L749.3,469.8 L750.5,470.1 L751.7,470.4 L753.0,470.6 L754.2,470.9 L755.4,471.1 L756.6,471.4 L757.8,472.6 L759.0,474.5 L760.2,476.2 L761.4,477.4 L762.6,478.6 L763.8,479.8 L765.0,484.9 L766.2,490.4 L767.4,492.8 L768.6,524.0 L769.2,418.0 L770.5,436.5 L771.8,437.8 L773.1,439.1 L774.4,440.7 L775.7,443.3 L777.0,445.9 L778.2,448.5 L779.5,451.1 L780.8,453.2 L782.1,455.6 L783.4,462.5 L784.7,466.0 L786.0,466.0 L786.6,445.0 L787.9,459.7 L789.1,463.2 L790.4,479.5 L791.6,497.1 L792.9,500.9 L794.2,502.2 L795.4,504.4 L796.7,508.8 L797.9,513.7 L799.2,518.8 L800.4,522.3 L801.7,523.1 L803.0,524.0 L804.2,545.3 L805.5,553.9 L806.7,561.7 L808.0,575.0" fill="none" stroke="#fbe54a" stroke-width="1.1" marker-start="url(#my)" marker-mid="url(#my)" marker-end="url(#my)"/>
<path d="M116.4,343.6 V357.5 H809.5 V343.6 M126.9,343.6 V357.5 M161.9,343.6 V357.5 M164.4,343.6 V357.5 M396.2,343.6 V357.5 M474.3,343.6 V357.5 M526.3,343.6 V357.5 M545.5,343.6 V357.5 M561.1,343.6 V357.5 M572.0,343.6 V357.5 M581.2,343.6 V357.5 M589.2,343.6 V357.5 M624.4,343.6 V357.5 M634.5,343.6 V357.5 M706.2,343.6 V357.5 M770.0,343.6 V357.5 M787.0,343.6 V357.5" fill="none" stroke="#111" stroke-width="1.3"/>
<path d="M115.3,646.0 V660.0 H809.3 V646.0 M126.2,646.0 V660.0 M161.3,646.0 V660.0 M163.5,646.0 V660.0 M395.6,646.0 V660.0 M473.8,646.0 V660.0 M526.3,646.0 V660.0 M545.3,646.0 V660.0 M560.9,646.0 V660.0 M571.3,646.0 V660.0 M580.4,646.0 V660.0 M588.8,646.0 V660.0 M623.8,646.0 V660.0 M634.3,646.0 V660.0 M705.8,646.0 V660.0 M769.3,646.0 V660.0 M786.8,646.0 V660.0" fill="none" stroke="#111" stroke-width="1.3"/>
<path d="M187.0,65 V227" stroke="#444" stroke-width="1.0" stroke-dasharray="3.6 4"/>
<path d="M190.7,42.5 V224.5" stroke="#444" stroke-width="1.0" stroke-dasharray="3.6 4"/>
<path d="M292.1,32.4 V215.5" stroke="#444" stroke-width="1.0" stroke-dasharray="3.6 4"/>
<path d="M344.1,44.3 V205" stroke="#444" stroke-width="1.0" stroke-dasharray="3.6 4"/>
<path d="M384.6,55.5 V167.5" stroke="#444" stroke-width="1.0" stroke-dasharray="3.6 4"/>
<path d="M705.8,45.5 V173" stroke="#444" stroke-width="1.0" stroke-dasharray="3.6 4"/>
<path d="M808.9,63 V170" stroke="#444" stroke-width="1.0" stroke-dasharray="3.6 4"/>
<rect x="161.3" y="122.5" width="9.5" height="98.0" fill="none" stroke="#333" stroke-width="1.1" stroke-dasharray="3.6 3.2"/>
<rect x="158.8" y="518.8" width="9.199999999999989" height="91.20000000000005" fill="none" stroke="#333" stroke-width="1.1" stroke-dasharray="3.6 3.2"/>
<text x="173.30" y="133.50" font-size="20" text-anchor="start" fill="#000" >*</text>
<text x="170.50" y="530.00" font-size="20" text-anchor="start" fill="#000" >*</text>
<text x="17.50" y="38.00" font-size="37.8" text-anchor="start" textLength="22.5" lengthAdjust="spacingAndGlyphs" fill="#000" >A</text>
<text x="16.50" y="390.00" font-size="37.8" text-anchor="start" textLength="23.0" lengthAdjust="spacingAndGlyphs" fill="#000" >B</text>
<text x="0" y="0" font-size="20" transform="translate(53.8,302.8) rotate(-90)" textLength="159" lengthAdjust="spacingAndGlyphs">FSF domains (%)</text>
<text x="0" y="0" font-size="21.8" transform="translate(54.4,614) rotate(-90)" textLength="186" lengthAdjust="spacingAndGlyphs">No. of FSF domains</text>
<text x="107.50" y="81.00" font-size="19" text-anchor="start" textLength="64.0" lengthAdjust="spacingAndGlyphs" fill="#000" >Archaea</text>
<text x="390.00" y="81.00" font-size="19" text-anchor="start" textLength="63.8" lengthAdjust="spacingAndGlyphs" fill="#000" >Bacteria</text>
<text x="709.60" y="81.50" font-size="19" text-anchor="start" textLength="62.4" lengthAdjust="spacingAndGlyphs" fill="#000" >Eukarya</text>
<text x="69.50" y="37.00" font-size="11" text-anchor="start" font-style="italic" textLength="136.5" lengthAdjust="spacingAndGlyphs" fill="#1c1c1c" >Baumannia cicadellinicola Hc</text>
<text x="46.00" y="52.00" font-size="11" text-anchor="start" font-style="italic" textLength="140.0" lengthAdjust="spacingAndGlyphs" fill="#1c1c1c" >Cand. Blochmannia floridanus</text>
<text x="254.70" y="22.40" font-size="11" text-anchor="start" font-style="italic" textLength="113.5" lengthAdjust="spacingAndGlyphs" fill="#1c1c1c" >Cand. Riesia pediculicola</text>
<text x="341.00" y="37.00" font-size="11" text-anchor="start" font-style="italic" textLength="122.0" lengthAdjust="spacingAndGlyphs" fill="#1c1c1c" >Cand. Carsonella ruddii PV</text>
<text x="382.00" y="52.00" font-size="11" text-anchor="start" font-style="italic" textLength="125.5" lengthAdjust="spacingAndGlyphs" fill="#1c1c1c" >Cand. Hodgkinia cicadicola</text>
<text x="703.20" y="22.40" font-size="11" text-anchor="start" font-style="italic" textLength="116.3" lengthAdjust="spacingAndGlyphs" fill="#1c1c1c" >Encephalitozoon cuniculi</text>
<text x="703.20" y="36.80" font-size="11" text-anchor="start" font-style="italic" textLength="129.8" lengthAdjust="spacingAndGlyphs" fill="#1c1c1c" >Encephalitozoon intestinalis</text>
<text x="784.90" y="51.90" font-size="11" text-anchor="start" font-style="italic" textLength="71.1" lengthAdjust="spacingAndGlyphs" fill="#1c1c1c" >Guillardia theta</text>
<text x="240.50" y="675.60" font-size="14" text-anchor="start" font-style="italic" textLength="90.0" lengthAdjust="spacingAndGlyphs" fill="#111" >Proteobacteria</text>
<text x="405.00" y="675.60" font-size="14" text-anchor="start" font-style="italic" textLength="63.0" lengthAdjust="spacingAndGlyphs" fill="#111" >Firmicutes</text>
<text x="616.50" y="675.60" font-size="14" text-anchor="start" font-style="italic" textLength="23.5" lengthAdjust="spacingAndGlyphs" fill="#111" >PVC</text>
<text x="651.20" y="675.60" font-size="14" text-anchor="start" font-style="italic" textLength="33.8" lengthAdjust="spacingAndGlyphs" fill="#111" >Fungi</text>
<text x="712.00" y="675.60" font-size="14" text-anchor="start" font-style="italic" textLength="53.7" lengthAdjust="spacingAndGlyphs" fill="#111" >Metazoa</text>
<text x="182.50" y="693.00" font-size="14" text-anchor="start" font-style="italic" textLength="35.0" lengthAdjust="spacingAndGlyphs" fill="#111" >Other</text>
<text x="387.50" y="691.30" font-size="14" text-anchor="start" font-style="italic" textLength="90.5" lengthAdjust="spacingAndGlyphs" fill="#111" >Actinobacteria</text>
<text x="595.80" y="691.30" font-size="14" text-anchor="start" font-style="italic" textLength="107.2" lengthAdjust="spacingAndGlyphs" fill="#111" >Rest of Bacteria**</text>
<text x="752.50" y="692.50" font-size="14" text-anchor="start" font-style="italic" textLength="37.5" lengthAdjust="spacingAndGlyphs" fill="#111" >Plants</text>
<text x="142.00" y="708.00" font-size="14" text-anchor="start" font-style="italic" textLength="89.7" lengthAdjust="spacingAndGlyphs" fill="#111" >Euryarchaeota</text>
<text x="422.50" y="707.70" font-size="14" text-anchor="start" font-style="italic" textLength="82.5" lengthAdjust="spacingAndGlyphs" fill="#111" >Bacteroidetes</text>
<text x="585.00" y="707.70" font-size="14" text-anchor="start" font-style="italic" textLength="83.0" lengthAdjust="spacingAndGlyphs" fill="#111" >Thermotogae</text>
<text x="775.70" y="707.50" font-size="14" text-anchor="start" font-style="italic" textLength="46.8" lengthAdjust="spacingAndGlyphs" fill="#111" >Protista</text>
<text x="110.00" y="724.20" font-size="14" text-anchor="start" font-style="italic" textLength="91.2" lengthAdjust="spacingAndGlyphs" fill="#111" >Crenarchaeota</text>
<text x="452.00" y="723.90" font-size="14" text-anchor="start" font-style="italic" textLength="67.5" lengthAdjust="spacingAndGlyphs" fill="#111" >Tenericutes</text>
<text x="564.70" y="723.90" font-size="14" text-anchor="start" font-style="italic" textLength="77.8" lengthAdjust="spacingAndGlyphs" fill="#111" >Spirochaetes</text>
<text x="500.70" y="739.60" font-size="14" text-anchor="start" font-style="italic" textLength="89.3" lengthAdjust="spacingAndGlyphs" fill="#111" >Cyanobacteria</text>
<path d="M121,663 L118,708.5 M138.2,663.5 L145,690 M161.2,664 L179.5,681.2 M477,681 L503.5,664 M500.5,696.5 L535,664 M520.5,711 L552.5,664 M546.5,726.5 L566,663.5 M573,708 L575.5,664 M587.5,692 L583.5,664 M610.5,681 L604,664 M777.5,664 L778.8,678.3 M797.5,664 L801.8,693" stroke="#222" stroke-width="1.1" fill="none"/>
<rect x="840.9" y="86.6" width="156.60000000000002" height="121.70000000000002" fill="none" stroke="#333" stroke-width="1.3" stroke-dasharray="3.6 3.2"/>
<text x="1001.00" y="99.50" font-size="20" text-anchor="start" fill="#000" >*</text>
<text x="852.40" y="101.20" font-size="11" text-anchor="start" font-style="italic" textLength="62.9" lengthAdjust="spacingAndGlyphs" fill="#1c1c1c" >Korarchaeota</text>
<text x="914.70" y="113.20" font-size="11" text-anchor="start" font-style="italic" textLength="80.1" lengthAdjust="spacingAndGlyphs" fill="#1c1c1c" >Thaumarchaeota</text>
<text x="921.90" y="201.30" font-size="11" text-anchor="start" font-style="italic" textLength="72.6" lengthAdjust="spacingAndGlyphs" fill="#1c1c1c" >Nanoarchaeota</text>
<path d="M845.2,111.8 L866,115 L886.8,118.8 L891,124.5 L905.8,127.4 L910,124.5 L913.5,174.7 L918.8,123.2" fill="none" stroke="#f7df2a" stroke-width="1.3"/>
<path d="M845.2,111.8 L866,115 L886.8,118.8 L891,124.5 L905.8,127.4" fill="none" stroke="#b59d1e" stroke-width="1.3" stroke-dasharray="1.5 3"/>
<path d="M909.6,194.6 L914,147.3 L919,198.4" fill="none" stroke="#e8474c" stroke-width="1.2"/>
<path d="M894,104.3 L909.6,124 M924.7,116.4 L921,122 M914.3,176.6 L928.5,189" fill="none" stroke="#111" stroke-width="1.1"/>
<rect x="840.9" y="389.5" width="155.10000000000002" height="143.5" fill="none" stroke="#333" stroke-width="1.3" stroke-dasharray="3.6 3.2"/>
<text x="1001.00" y="404.00" font-size="20" text-anchor="start" fill="#000" >*</text>
<text x="845.00" y="402.90" font-size="11" text-anchor="start" font-style="italic" textLength="62.5" lengthAdjust="spacingAndGlyphs" fill="#1c1c1c" >Korarchaeota</text>
<text x="915.00" y="408.80" font-size="11" text-anchor="start" font-style="italic" textLength="80.0" lengthAdjust="spacingAndGlyphs" fill="#1c1c1c" >Thaumarchaeota</text>
<text x="914.50" y="526.10" font-size="11" text-anchor="start" font-style="italic" textLength="72.5" lengthAdjust="spacingAndGlyphs" fill="#1c1c1c" >Nanoarchaeota</text>
<path d="M853,416.8 L858,419.6 L863,420.4 L868,428 L872,429 L878,431 L883,436 L888,438.7 L893.5,431.6 L898.7,505 L904,416.8" fill="none" stroke="#f7df2a" stroke-width="1.3" marker-start="url(#my)" marker-mid="url(#my)" marker-end="url(#my)"/>
<path d="M893.8,488 L898.7,494.5 L904.5,483.6" fill="none" stroke="#e8474c" stroke-width="1.2"/>
<path d="M882.5,406.2 L893.5,431 M911.5,407 L904,416.8 M899,505 L911.5,517.2" fill="none" stroke="#111" stroke-width="1.1"/>
<rect x="862" y="575.30" width="16.2" height="11.6" fill="#fff200"/>
<text x="885.70" y="586.10" font-size="11.6" text-anchor="start" textLength="59.3" lengthAdjust="spacingAndGlyphs" fill="#222" >Metabolism</text>
<rect x="862" y="593.58" width="16.2" height="11.6" fill="#e31e24"/>
<text x="885.70" y="604.38" font-size="11.6" text-anchor="start" textLength="60.2" lengthAdjust="spacingAndGlyphs" fill="#222" >Information</text>
<rect x="862" y="611.86" width="16.2" height="11.6" fill="#000000"/>
<text x="884.70" y="622.66" font-size="11.6" text-anchor="start" textLength="111.0" lengthAdjust="spacingAndGlyphs" fill="#222" >Intracellular processes</text>
<rect x="862" y="630.14" width="16.2" height="11.6" fill="#0c8d3e"/>
<text x="885.70" y="640.94" font-size="11.6" text-anchor="start" textLength="54.5" lengthAdjust="spacingAndGlyphs" fill="#222" >Regulation</text>
<rect x="862" y="648.42" width="16.2" height="11.6" fill="#58595b"/>
<text x="885.70" y="659.22" font-size="11.6" text-anchor="start" textLength="30.0" lengthAdjust="spacingAndGlyphs" fill="#222" >Other</text>
<rect x="862" y="666.70" width="16.2" height="11.6" fill="#f26522"/>
<text x="885.70" y="677.50" font-size="11.6" text-anchor="start" textLength="40.0" lengthAdjust="spacingAndGlyphs" fill="#222" >General</text>
<rect x="862" y="684.98" width="16.2" height="11.6" fill="#21409a"/>
<text x="885.70" y="695.78" font-size="11.6" text-anchor="start" textLength="113.3" lengthAdjust="spacingAndGlyphs" fill="#222" >Extracellular processes</text>
<text x="102.30" y="777.00" font-size="9.7" text-anchor="start" textLength="560.7" lengthAdjust="spacingAndGlyphs" fill="#222" >**Includes proteomes from Chlorobi, Chloroflexi, , Deinococcus thermus, Fusobacteria, Acidobacteria, Deferribacters,</text>
<text x="112.00" y="790.20" font-size="9.7" text-anchor="start" textLength="530.0" lengthAdjust="spacingAndGlyphs" fill="#222" >Dictyoglomi, Elusimicrobia, Synergistetes, Fibrobacters, Gemmatimonadetes, Nitrospirae, and Thermobaculum</text>
</svg></body></html>
